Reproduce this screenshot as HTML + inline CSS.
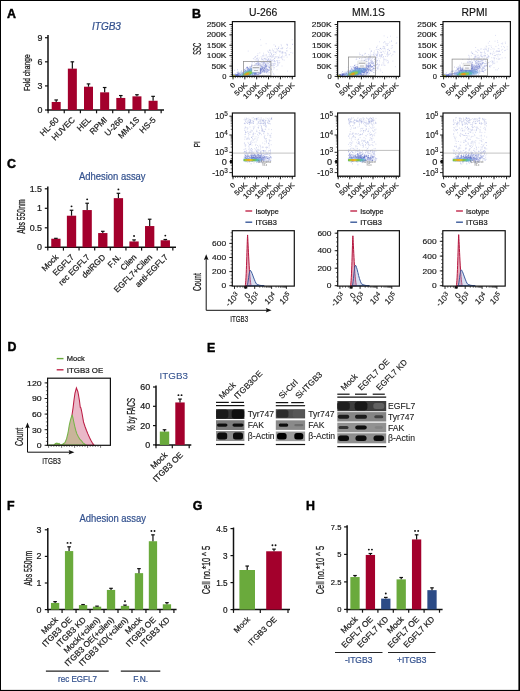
<!DOCTYPE html>
<html><head><meta charset="utf-8"><style>html,body{margin:0;padding:0;background:#fff;width:520px;height:691px;overflow:hidden}svg{display:block;will-change:transform}</style></head>
<body><svg width="520" height="691" viewBox="0 0 520 691" font-family='"Liberation Sans", sans-serif'><rect x="0" y="0" width="520" height="691" fill="#fff"/>
<text x="7.1" y="17.7" font-size="12.4" fill="#000" font-weight="bold" stroke="#000" stroke-width="0.45">A</text>
<text x="92" y="30.1" font-size="10" fill="#34528f" transform="translate(92 30.1) scale(1 1) translate(-92 -30.1)" font-style="italic" stroke="#34528f" stroke-width="0.22">ITGB3</text>
<line x1="48" y1="35" x2="48" y2="110.7" stroke="#111" stroke-width="1.5"/>
<line x1="47.3" y1="110" x2="164" y2="110" stroke="#111" stroke-width="1.5"/>
<line x1="45" y1="110" x2="48" y2="110" stroke="#111" stroke-width="1.2"/>
<text x="42.4" y="113" font-size="8.4" fill="#1a1a1a" text-anchor="end" transform="translate(42.4 113) scale(1.06 1) translate(-42.4 -113)" stroke="#1a1a1a" stroke-width="0.22">0</text>
<line x1="45" y1="85.91" x2="48" y2="85.91" stroke="#111" stroke-width="1.2"/>
<text x="42.4" y="88.91" font-size="8.4" fill="#1a1a1a" text-anchor="end" transform="translate(42.4 88.91) scale(1.06 1) translate(-42.4 -88.91)" stroke="#1a1a1a" stroke-width="0.22">3</text>
<line x1="45" y1="61.82" x2="48" y2="61.82" stroke="#111" stroke-width="1.2"/>
<text x="42.4" y="64.82" font-size="8.4" fill="#1a1a1a" text-anchor="end" transform="translate(42.4 64.82) scale(1.06 1) translate(-42.4 -64.82)" stroke="#1a1a1a" stroke-width="0.22">6</text>
<line x1="45" y1="37.73" x2="48" y2="37.73" stroke="#111" stroke-width="1.2"/>
<text x="42.4" y="40.73" font-size="8.4" fill="#1a1a1a" text-anchor="end" transform="translate(42.4 40.73) scale(1.06 1) translate(-42.4 -40.73)" stroke="#1a1a1a" stroke-width="0.22">9</text>
<line x1="48.1" y1="110" x2="48.1" y2="113.3" stroke="#111" stroke-width="1.2"/>
<line x1="64.25" y1="110" x2="64.25" y2="113.3" stroke="#111" stroke-width="1.2"/>
<line x1="80.4" y1="110" x2="80.4" y2="113.3" stroke="#111" stroke-width="1.2"/>
<line x1="96.55" y1="110" x2="96.55" y2="113.3" stroke="#111" stroke-width="1.2"/>
<line x1="112.7" y1="110" x2="112.7" y2="113.3" stroke="#111" stroke-width="1.2"/>
<line x1="128.85" y1="110" x2="128.85" y2="113.3" stroke="#111" stroke-width="1.2"/>
<line x1="145" y1="110" x2="145" y2="113.3" stroke="#111" stroke-width="1.2"/>
<line x1="161.15" y1="110" x2="161.15" y2="113.3" stroke="#111" stroke-width="1.2"/>
<rect x="51.7" y="101.97" width="9" height="8.03" fill="#a3002c"/>
<line x1="56.2" y1="99.96" x2="56.2" y2="101.97" stroke="#111" stroke-width="1.2"/>
<line x1="54.4" y1="99.96" x2="58" y2="99.96" stroke="#111" stroke-width="1.2"/>
<rect x="67.85" y="68.65" width="9" height="41.35" fill="#a3002c"/>
<line x1="72.35" y1="61.82" x2="72.35" y2="68.65" stroke="#111" stroke-width="1.2"/>
<line x1="70.55" y1="61.82" x2="74.15" y2="61.82" stroke="#111" stroke-width="1.2"/>
<rect x="84" y="86.71" width="9" height="23.29" fill="#a3002c"/>
<line x1="88.5" y1="83.9" x2="88.5" y2="86.71" stroke="#111" stroke-width="1.2"/>
<line x1="86.7" y1="83.9" x2="90.3" y2="83.9" stroke="#111" stroke-width="1.2"/>
<rect x="100.15" y="92.33" width="9" height="17.67" fill="#a3002c"/>
<line x1="104.65" y1="87.52" x2="104.65" y2="92.33" stroke="#111" stroke-width="1.2"/>
<line x1="102.85" y1="87.52" x2="106.45" y2="87.52" stroke="#111" stroke-width="1.2"/>
<rect x="116.3" y="97.95" width="9" height="12.05" fill="#a3002c"/>
<line x1="120.8" y1="95.55" x2="120.8" y2="97.95" stroke="#111" stroke-width="1.2"/>
<line x1="119" y1="95.55" x2="122.6" y2="95.55" stroke="#111" stroke-width="1.2"/>
<rect x="132.45" y="96.35" width="9" height="13.65" fill="#a3002c"/>
<line x1="136.95" y1="94.74" x2="136.95" y2="96.35" stroke="#111" stroke-width="1.2"/>
<line x1="135.15" y1="94.74" x2="138.75" y2="94.74" stroke="#111" stroke-width="1.2"/>
<rect x="148.6" y="100.77" width="9" height="9.23" fill="#a3002c"/>
<line x1="153.1" y1="96.35" x2="153.1" y2="100.77" stroke="#111" stroke-width="1.2"/>
<line x1="151.3" y1="96.35" x2="154.9" y2="96.35" stroke="#111" stroke-width="1.2"/>
<text x="30.5" y="72.7" font-size="9.4" fill="#1a1a1a" text-anchor="middle" transform="rotate(-90 30.5 72.7) translate(30.5 72.7) scale(0.71 1) translate(-30.5 -72.7)" stroke="#1a1a1a" stroke-width="0.28">Fold change</text>
<text x="59.3" y="120.4" font-size="8.3" fill="#1a1a1a" text-anchor="end" transform="rotate(-45 59.3 120.4)" stroke="#1a1a1a" stroke-width="0.22">HL-60</text>
<text x="75.45" y="120.4" font-size="8.3" fill="#1a1a1a" text-anchor="end" transform="rotate(-45 75.45 120.4)" stroke="#1a1a1a" stroke-width="0.22">HUVEC</text>
<text x="91.6" y="120.4" font-size="8.3" fill="#1a1a1a" text-anchor="end" transform="rotate(-45 91.6 120.4)" stroke="#1a1a1a" stroke-width="0.22">HEL</text>
<text x="107.75" y="120.4" font-size="8.3" fill="#1a1a1a" text-anchor="end" transform="rotate(-45 107.75 120.4)" stroke="#1a1a1a" stroke-width="0.22">RPMI</text>
<text x="123.9" y="120.4" font-size="8.3" fill="#1a1a1a" text-anchor="end" transform="rotate(-45 123.9 120.4)" stroke="#1a1a1a" stroke-width="0.22">U-266</text>
<text x="140.05" y="120.4" font-size="8.3" fill="#1a1a1a" text-anchor="end" transform="rotate(-45 140.05 120.4)" stroke="#1a1a1a" stroke-width="0.22">MM.1S</text>
<text x="156.2" y="120.4" font-size="8.3" fill="#1a1a1a" text-anchor="end" transform="rotate(-45 156.2 120.4)" stroke="#1a1a1a" stroke-width="0.22">HS-5</text>
<text x="7" y="168.4" font-size="12.4" fill="#000" font-weight="bold" stroke="#000" stroke-width="0.45">C</text>
<text x="79" y="180.4" font-size="10.5" fill="#34528f" transform="translate(79 180.4) scale(0.9 1) translate(-79 -180.4)" stroke="#34528f" stroke-width="0.22">Adhesion assay</text>
<line x1="47.8" y1="186.5" x2="47.8" y2="248" stroke="#111" stroke-width="1.5"/>
<line x1="47.1" y1="247.3" x2="176" y2="247.3" stroke="#111" stroke-width="1.5"/>
<line x1="44.8" y1="247.3" x2="47.8" y2="247.3" stroke="#111" stroke-width="1.2"/>
<text x="42" y="250.3" font-size="8.4" fill="#1a1a1a" text-anchor="end" transform="translate(42 250.3) scale(1.06 1) translate(-42 -250.3)" stroke="#1a1a1a" stroke-width="0.22">0</text>
<line x1="44.8" y1="227.8" x2="47.8" y2="227.8" stroke="#111" stroke-width="1.2"/>
<text x="42" y="230.8" font-size="8.4" fill="#1a1a1a" text-anchor="end" transform="translate(42 230.8) scale(1.06 1) translate(-42 -230.8)" stroke="#1a1a1a" stroke-width="0.22">0.5</text>
<line x1="44.8" y1="208.3" x2="47.8" y2="208.3" stroke="#111" stroke-width="1.2"/>
<text x="42" y="211.3" font-size="8.4" fill="#1a1a1a" text-anchor="end" transform="translate(42 211.3) scale(1.06 1) translate(-42 -211.3)" stroke="#1a1a1a" stroke-width="0.22">1</text>
<line x1="44.8" y1="188.8" x2="47.8" y2="188.8" stroke="#111" stroke-width="1.2"/>
<text x="42" y="191.8" font-size="8.4" fill="#1a1a1a" text-anchor="end" transform="translate(42 191.8) scale(1.06 1) translate(-42 -191.8)" stroke="#1a1a1a" stroke-width="0.22">1.5</text>
<line x1="47.8" y1="247.3" x2="47.8" y2="250.6" stroke="#111" stroke-width="1.2"/>
<line x1="63.43" y1="247.3" x2="63.43" y2="250.6" stroke="#111" stroke-width="1.2"/>
<line x1="79.06" y1="247.3" x2="79.06" y2="250.6" stroke="#111" stroke-width="1.2"/>
<line x1="94.69" y1="247.3" x2="94.69" y2="250.6" stroke="#111" stroke-width="1.2"/>
<line x1="110.32" y1="247.3" x2="110.32" y2="250.6" stroke="#111" stroke-width="1.2"/>
<line x1="125.95" y1="247.3" x2="125.95" y2="250.6" stroke="#111" stroke-width="1.2"/>
<line x1="141.58" y1="247.3" x2="141.58" y2="250.6" stroke="#111" stroke-width="1.2"/>
<line x1="157.21" y1="247.3" x2="157.21" y2="250.6" stroke="#111" stroke-width="1.2"/>
<line x1="172.84" y1="247.3" x2="172.84" y2="250.6" stroke="#111" stroke-width="1.2"/>
<rect x="51.25" y="238.72" width="9.3" height="8.58" fill="#a3002c"/>
<line x1="55.9" y1="238.33" x2="55.9" y2="238.72" stroke="#111" stroke-width="1.2"/>
<line x1="54.1" y1="238.33" x2="57.7" y2="238.33" stroke="#111" stroke-width="1.2"/>
<rect x="66.88" y="215.71" width="9.3" height="31.59" fill="#a3002c"/>
<line x1="71.53" y1="210.25" x2="71.53" y2="215.71" stroke="#111" stroke-width="1.2"/>
<line x1="69.73" y1="210.25" x2="73.33" y2="210.25" stroke="#111" stroke-width="1.2"/>
<circle cx="71.53" cy="206.35" r="0.95" fill="#111"/>
<rect x="82.51" y="210.06" width="9.3" height="37.25" fill="#a3002c"/>
<line x1="87.16" y1="203.23" x2="87.16" y2="210.06" stroke="#111" stroke-width="1.2"/>
<line x1="85.36" y1="203.23" x2="88.96" y2="203.23" stroke="#111" stroke-width="1.2"/>
<circle cx="87.16" cy="199.33" r="0.95" fill="#111"/>
<rect x="98.14" y="233.06" width="9.3" height="14.24" fill="#a3002c"/>
<line x1="102.79" y1="231.31" x2="102.79" y2="233.06" stroke="#111" stroke-width="1.2"/>
<line x1="100.99" y1="231.31" x2="104.59" y2="231.31" stroke="#111" stroke-width="1.2"/>
<rect x="113.77" y="198.16" width="9.3" height="49.14" fill="#a3002c"/>
<line x1="118.42" y1="193.29" x2="118.42" y2="198.16" stroke="#111" stroke-width="1.2"/>
<line x1="116.62" y1="193.29" x2="120.22" y2="193.29" stroke="#111" stroke-width="1.2"/>
<circle cx="118.42" cy="189.39" r="0.95" fill="#111"/>
<rect x="129.4" y="241.45" width="9.3" height="5.85" fill="#a3002c"/>
<line x1="134.05" y1="239.89" x2="134.05" y2="241.45" stroke="#111" stroke-width="1.2"/>
<line x1="132.25" y1="239.89" x2="135.85" y2="239.89" stroke="#111" stroke-width="1.2"/>
<circle cx="134.05" cy="235.99" r="0.95" fill="#111"/>
<rect x="145.03" y="226.05" width="9.3" height="21.25" fill="#a3002c"/>
<line x1="149.68" y1="219.22" x2="149.68" y2="226.05" stroke="#111" stroke-width="1.2"/>
<line x1="147.88" y1="219.22" x2="151.48" y2="219.22" stroke="#111" stroke-width="1.2"/>
<rect x="160.66" y="240.28" width="9.3" height="7.02" fill="#a3002c"/>
<line x1="165.31" y1="239.5" x2="165.31" y2="240.28" stroke="#111" stroke-width="1.2"/>
<line x1="163.51" y1="239.5" x2="167.11" y2="239.5" stroke="#111" stroke-width="1.2"/>
<circle cx="165.31" cy="235.6" r="0.95" fill="#111"/>
<text x="24.8" y="216.6" font-size="10" fill="#1a1a1a" text-anchor="middle" transform="rotate(-90 24.8 216.6) translate(24.8 216.6) scale(0.68 1) translate(-24.8 -216.6)" stroke="#1a1a1a" stroke-width="0.28">Abs 550nm</text>
<text x="59" y="257.7" font-size="8.3" fill="#1a1a1a" text-anchor="end" transform="rotate(-45 59 257.7)" stroke="#1a1a1a" stroke-width="0.22">Mock</text>
<text x="74.63" y="257.7" font-size="8.3" fill="#1a1a1a" text-anchor="end" transform="rotate(-45 74.63 257.7)" stroke="#1a1a1a" stroke-width="0.22">EGFL7</text>
<text x="90.26" y="257.7" font-size="8.3" fill="#1a1a1a" text-anchor="end" transform="rotate(-45 90.26 257.7)" stroke="#1a1a1a" stroke-width="0.22">rec EGFL7</text>
<text x="105.89" y="257.7" font-size="8.3" fill="#1a1a1a" text-anchor="end" transform="rotate(-45 105.89 257.7)" stroke="#1a1a1a" stroke-width="0.22">delRGD</text>
<text x="121.52" y="257.7" font-size="8.3" fill="#1a1a1a" text-anchor="end" transform="rotate(-45 121.52 257.7)" stroke="#1a1a1a" stroke-width="0.22">F.N.</text>
<text x="137.15" y="257.7" font-size="8.3" fill="#1a1a1a" text-anchor="end" transform="rotate(-45 137.15 257.7)" stroke="#1a1a1a" stroke-width="0.22">Cilen</text>
<text x="152.78" y="257.7" font-size="8.3" fill="#1a1a1a" text-anchor="end" transform="rotate(-45 152.78 257.7)" stroke="#1a1a1a" stroke-width="0.22">EGFL7+Cilen</text>
<text x="168.41" y="257.7" font-size="8.3" fill="#1a1a1a" text-anchor="end" transform="rotate(-45 168.41 257.7)" stroke="#1a1a1a" stroke-width="0.22">anti-EGFL7</text>
<text x="7.1" y="509.7" font-size="12.4" fill="#000" font-weight="bold" stroke="#000" stroke-width="0.45">F</text>
<text x="79.4" y="521.6" font-size="10.5" fill="#34528f" transform="translate(79.4 521.6) scale(0.9 1) translate(-79.4 -521.6)" stroke="#34528f" stroke-width="0.22">Adhesion assay</text>
<line x1="47.8" y1="528" x2="47.8" y2="610.3" stroke="#111" stroke-width="1.5"/>
<line x1="47.1" y1="609.6" x2="176.6" y2="609.6" stroke="#111" stroke-width="1.5"/>
<line x1="44.8" y1="609.6" x2="47.8" y2="609.6" stroke="#111" stroke-width="1.2"/>
<text x="41.5" y="612.6" font-size="8.4" fill="#1a1a1a" text-anchor="end" transform="translate(41.5 612.6) scale(1.06 1) translate(-41.5 -612.6)" stroke="#1a1a1a" stroke-width="0.22">0</text>
<line x1="44.8" y1="583" x2="47.8" y2="583" stroke="#111" stroke-width="1.2"/>
<text x="41.5" y="586" font-size="8.4" fill="#1a1a1a" text-anchor="end" transform="translate(41.5 586) scale(1.06 1) translate(-41.5 -586)" stroke="#1a1a1a" stroke-width="0.22">1</text>
<line x1="44.8" y1="556.4" x2="47.8" y2="556.4" stroke="#111" stroke-width="1.2"/>
<text x="41.5" y="559.4" font-size="8.4" fill="#1a1a1a" text-anchor="end" transform="translate(41.5 559.4) scale(1.06 1) translate(-41.5 -559.4)" stroke="#1a1a1a" stroke-width="0.22">2</text>
<line x1="44.8" y1="529.8" x2="47.8" y2="529.8" stroke="#111" stroke-width="1.2"/>
<text x="41.5" y="532.8" font-size="8.4" fill="#1a1a1a" text-anchor="end" transform="translate(41.5 532.8) scale(1.06 1) translate(-41.5 -532.8)" stroke="#1a1a1a" stroke-width="0.22">3</text>
<line x1="48.1" y1="609.6" x2="48.1" y2="612.9" stroke="#111" stroke-width="1.2"/>
<line x1="62.08" y1="609.6" x2="62.08" y2="612.9" stroke="#111" stroke-width="1.2"/>
<line x1="76.06" y1="609.6" x2="76.06" y2="612.9" stroke="#111" stroke-width="1.2"/>
<line x1="90.04" y1="609.6" x2="90.04" y2="612.9" stroke="#111" stroke-width="1.2"/>
<line x1="104.02" y1="609.6" x2="104.02" y2="612.9" stroke="#111" stroke-width="1.2"/>
<line x1="118" y1="609.6" x2="118" y2="612.9" stroke="#111" stroke-width="1.2"/>
<line x1="131.98" y1="609.6" x2="131.98" y2="612.9" stroke="#111" stroke-width="1.2"/>
<line x1="145.96" y1="609.6" x2="145.96" y2="612.9" stroke="#111" stroke-width="1.2"/>
<line x1="159.94" y1="609.6" x2="159.94" y2="612.9" stroke="#111" stroke-width="1.2"/>
<line x1="173.92" y1="609.6" x2="173.92" y2="612.9" stroke="#111" stroke-width="1.2"/>
<rect x="50.95" y="602.95" width="8.3" height="6.65" fill="#6aaa3c"/>
<line x1="55.1" y1="601.62" x2="55.1" y2="602.95" stroke="#111" stroke-width="1.2"/>
<line x1="53.3" y1="601.62" x2="56.9" y2="601.62" stroke="#111" stroke-width="1.2"/>
<rect x="64.93" y="551.08" width="8.3" height="58.52" fill="#6aaa3c"/>
<line x1="69.08" y1="546.82" x2="69.08" y2="551.08" stroke="#111" stroke-width="1.2"/>
<line x1="67.28" y1="546.82" x2="70.88" y2="546.82" stroke="#111" stroke-width="1.2"/>
<circle cx="67.53" cy="542.92" r="0.95" fill="#111"/>
<circle cx="70.63" cy="542.92" r="0.95" fill="#111"/>
<rect x="78.91" y="605.08" width="8.3" height="4.52" fill="#6aaa3c"/>
<line x1="83.06" y1="604.55" x2="83.06" y2="605.08" stroke="#111" stroke-width="1.2"/>
<line x1="81.26" y1="604.55" x2="84.86" y2="604.55" stroke="#111" stroke-width="1.2"/>
<rect x="92.89" y="606.67" width="8.3" height="2.93" fill="#6aaa3c"/>
<line x1="97.04" y1="606.14" x2="97.04" y2="606.67" stroke="#111" stroke-width="1.2"/>
<line x1="95.24" y1="606.14" x2="98.84" y2="606.14" stroke="#111" stroke-width="1.2"/>
<rect x="106.87" y="589.92" width="8.3" height="19.68" fill="#6aaa3c"/>
<line x1="111.02" y1="588.32" x2="111.02" y2="589.92" stroke="#111" stroke-width="1.2"/>
<line x1="109.22" y1="588.32" x2="112.82" y2="588.32" stroke="#111" stroke-width="1.2"/>
<rect x="120.85" y="605.88" width="8.3" height="3.72" fill="#6aaa3c"/>
<line x1="125" y1="605.08" x2="125" y2="605.88" stroke="#111" stroke-width="1.2"/>
<line x1="123.2" y1="605.08" x2="126.8" y2="605.08" stroke="#111" stroke-width="1.2"/>
<circle cx="125" cy="601.18" r="0.95" fill="#111"/>
<rect x="134.83" y="573.16" width="8.3" height="36.44" fill="#6aaa3c"/>
<line x1="138.98" y1="568.64" x2="138.98" y2="573.16" stroke="#111" stroke-width="1.2"/>
<line x1="137.18" y1="568.64" x2="140.78" y2="568.64" stroke="#111" stroke-width="1.2"/>
<rect x="148.81" y="541.24" width="8.3" height="68.36" fill="#6aaa3c"/>
<line x1="152.96" y1="534.85" x2="152.96" y2="541.24" stroke="#111" stroke-width="1.2"/>
<line x1="151.16" y1="534.85" x2="154.76" y2="534.85" stroke="#111" stroke-width="1.2"/>
<circle cx="151.41" cy="530.95" r="0.95" fill="#111"/>
<circle cx="154.51" cy="530.95" r="0.95" fill="#111"/>
<rect x="162.79" y="604.28" width="8.3" height="5.32" fill="#6aaa3c"/>
<line x1="166.94" y1="602.68" x2="166.94" y2="604.28" stroke="#111" stroke-width="1.2"/>
<line x1="165.14" y1="602.68" x2="168.74" y2="602.68" stroke="#111" stroke-width="1.2"/>
<text x="31.8" y="568.3" font-size="10" fill="#1a1a1a" text-anchor="middle" transform="rotate(-90 31.8 568.3) translate(31.8 568.3) scale(0.69 1) translate(-31.8 -568.3)" stroke="#1a1a1a" stroke-width="0.28">Abs 550nm</text>
<text x="58.5" y="620.4" font-size="8.3" fill="#1a1a1a" text-anchor="end" transform="rotate(-45 58.5 620.4)" stroke="#1a1a1a" stroke-width="0.22">Mock</text>
<text x="72.48" y="620.4" font-size="8.3" fill="#1a1a1a" text-anchor="end" transform="rotate(-45 72.48 620.4)" stroke="#1a1a1a" stroke-width="0.22">ITGB3 OE</text>
<text x="86.46" y="620.4" font-size="8.3" fill="#1a1a1a" text-anchor="end" transform="rotate(-45 86.46 620.4)" stroke="#1a1a1a" stroke-width="0.22">ITGB3 KD</text>
<text x="100.44" y="620.4" font-size="8.3" fill="#1a1a1a" text-anchor="end" transform="rotate(-45 100.44 620.4)" stroke="#1a1a1a" stroke-width="0.22">Mock(+cilen)</text>
<text x="114.42" y="620.4" font-size="8.3" fill="#1a1a1a" text-anchor="end" transform="rotate(-45 114.42 620.4)" stroke="#1a1a1a" stroke-width="0.22">ITGB3 OE(+cilen)</text>
<text x="128.4" y="620.4" font-size="8.3" fill="#1a1a1a" text-anchor="end" transform="rotate(-45 128.4 620.4)" stroke="#1a1a1a" stroke-width="0.22">ITGB3 KD(+cilen)</text>
<text x="142.38" y="620.4" font-size="8.3" fill="#1a1a1a" text-anchor="end" transform="rotate(-45 142.38 620.4)" stroke="#1a1a1a" stroke-width="0.22">Mock</text>
<text x="156.36" y="620.4" font-size="8.3" fill="#1a1a1a" text-anchor="end" transform="rotate(-45 156.36 620.4)" stroke="#1a1a1a" stroke-width="0.22">ITGB3 OE</text>
<text x="170.34" y="620.4" font-size="8.3" fill="#1a1a1a" text-anchor="end" transform="rotate(-45 170.34 620.4)" stroke="#1a1a1a" stroke-width="0.22">ITGB3 KD</text>
<line x1="45.9" y1="671.1" x2="108.7" y2="671.1" stroke="#222" stroke-width="1.1"/>
<line x1="120.8" y1="671.1" x2="160.3" y2="671.1" stroke="#222" stroke-width="1.1"/>
<text x="77.5" y="682" font-size="8.4" fill="#34528f" text-anchor="middle" transform="translate(77.5 682) scale(0.96 1) translate(-77.5 -682)" stroke="#34528f" stroke-width="0.22">rec EGFL7</text>
<text x="140.6" y="682" font-size="8.4" fill="#34528f" text-anchor="middle" stroke="#34528f" stroke-width="0.22">F.N.</text>
<text x="192.7" y="509.6" font-size="12.4" fill="#000" font-weight="bold" stroke="#000" stroke-width="0.45">G</text>
<line x1="233.5" y1="527.5" x2="233.5" y2="610.3" stroke="#111" stroke-width="1.5"/>
<line x1="232.8" y1="609.6" x2="290" y2="609.6" stroke="#111" stroke-width="1.5"/>
<line x1="230.5" y1="609.6" x2="233.5" y2="609.6" stroke="#111" stroke-width="1.2"/>
<text x="227.6" y="612.6" font-size="8.2" fill="#1a1a1a" text-anchor="end" transform="translate(227.6 612.6) scale(1 1) translate(-227.6 -612.6)" stroke="#1a1a1a" stroke-width="0.22">0</text>
<line x1="230.5" y1="582.6" x2="233.5" y2="582.6" stroke="#111" stroke-width="1.2"/>
<text x="227.6" y="585.6" font-size="8.2" fill="#1a1a1a" text-anchor="end" transform="translate(227.6 585.6) scale(1 1) translate(-227.6 -585.6)" stroke="#1a1a1a" stroke-width="0.22">1.5</text>
<line x1="230.5" y1="555.6" x2="233.5" y2="555.6" stroke="#111" stroke-width="1.2"/>
<text x="227.6" y="558.6" font-size="8.2" fill="#1a1a1a" text-anchor="end" transform="translate(227.6 558.6) scale(1 1) translate(-227.6 -558.6)" stroke="#1a1a1a" stroke-width="0.22">3</text>
<line x1="230.5" y1="528.6" x2="233.5" y2="528.6" stroke="#111" stroke-width="1.2"/>
<text x="227.6" y="531.6" font-size="8.2" fill="#1a1a1a" text-anchor="end" transform="translate(227.6 531.6) scale(1 1) translate(-227.6 -531.6)" stroke="#1a1a1a" stroke-width="0.22">4.5</text>
<line x1="233.5" y1="609.6" x2="233.5" y2="612.9" stroke="#111" stroke-width="1.2"/>
<line x1="260.3" y1="609.6" x2="260.3" y2="612.9" stroke="#111" stroke-width="1.2"/>
<line x1="288" y1="609.6" x2="288" y2="612.9" stroke="#111" stroke-width="1.2"/>
<rect x="239.4" y="570" width="15.6" height="39.6" fill="#6aaa3c"/>
<line x1="247.2" y1="566.04" x2="247.2" y2="570" stroke="#111" stroke-width="1.2"/>
<line x1="245.4" y1="566.04" x2="249" y2="566.04" stroke="#111" stroke-width="1.2"/>
<rect x="266.2" y="551.28" width="15.6" height="58.32" fill="#a3002c"/>
<line x1="274" y1="549.12" x2="274" y2="551.28" stroke="#111" stroke-width="1.2"/>
<line x1="272.2" y1="549.12" x2="275.8" y2="549.12" stroke="#111" stroke-width="1.2"/>
<circle cx="272.45" cy="545.22" r="0.95" fill="#111"/>
<circle cx="275.55" cy="545.22" r="0.95" fill="#111"/>
<text x="209.9" y="570.1" font-size="10" fill="#1a1a1a" text-anchor="middle" transform="rotate(-90 209.9 570.1) translate(209.9 570.1) scale(0.75 1) translate(-209.9 -570.1)" stroke="#1a1a1a" stroke-width="0.28">Cell no.*10 ^ 5</text>
<text x="250.5" y="619.9" font-size="8" fill="#1a1a1a" text-anchor="end" transform="rotate(-45 250.5 619.9)" stroke="#1a1a1a" stroke-width="0.22">Mock</text>
<text x="277.3" y="619.9" font-size="8" fill="#1a1a1a" text-anchor="end" transform="rotate(-45 277.3 619.9)" stroke="#1a1a1a" stroke-width="0.22">ITGB3 OE</text>
<text x="306.1" y="509.7" font-size="12.4" fill="#000" font-weight="bold" stroke="#000" stroke-width="0.45">H</text>
<line x1="347.1" y1="525.2" x2="347.1" y2="610.1" stroke="#111" stroke-width="1.5"/>
<line x1="346.4" y1="609.4" x2="442.6" y2="609.4" stroke="#111" stroke-width="1.5"/>
<line x1="344.1" y1="609.4" x2="347.1" y2="609.4" stroke="#111" stroke-width="1.2"/>
<text x="341.4" y="612.4" font-size="8" fill="#1a1a1a" text-anchor="end" transform="translate(341.4 612.4) scale(0.95 1) translate(-341.4 -612.4)" stroke="#1a1a1a" stroke-width="0.22">0</text>
<line x1="344.1" y1="581.9" x2="347.1" y2="581.9" stroke="#111" stroke-width="1.2"/>
<text x="341.4" y="584.9" font-size="8" fill="#1a1a1a" text-anchor="end" transform="translate(341.4 584.9) scale(0.95 1) translate(-341.4 -584.9)" stroke="#1a1a1a" stroke-width="0.22">2.5</text>
<line x1="344.1" y1="554.4" x2="347.1" y2="554.4" stroke="#111" stroke-width="1.2"/>
<text x="341.4" y="557.4" font-size="8" fill="#1a1a1a" text-anchor="end" transform="translate(341.4 557.4) scale(0.95 1) translate(-341.4 -557.4)" stroke="#1a1a1a" stroke-width="0.22">5</text>
<line x1="344.1" y1="526.9" x2="347.1" y2="526.9" stroke="#111" stroke-width="1.2"/>
<text x="341.4" y="529.9" font-size="8" fill="#1a1a1a" text-anchor="end" transform="translate(341.4 529.9) scale(0.95 1) translate(-341.4 -529.9)" stroke="#1a1a1a" stroke-width="0.22">7.5</text>
<line x1="347.1" y1="609.4" x2="347.1" y2="612.7" stroke="#111" stroke-width="1.2"/>
<line x1="362.5" y1="609.4" x2="362.5" y2="612.7" stroke="#111" stroke-width="1.2"/>
<line x1="377.9" y1="609.4" x2="377.9" y2="612.7" stroke="#111" stroke-width="1.2"/>
<line x1="393.3" y1="609.4" x2="393.3" y2="612.7" stroke="#111" stroke-width="1.2"/>
<line x1="408.7" y1="609.4" x2="408.7" y2="612.7" stroke="#111" stroke-width="1.2"/>
<line x1="424.1" y1="609.4" x2="424.1" y2="612.7" stroke="#111" stroke-width="1.2"/>
<line x1="439.5" y1="609.4" x2="439.5" y2="612.7" stroke="#111" stroke-width="1.2"/>
<rect x="350.35" y="577.06" width="9.3" height="32.34" fill="#6aaa3c"/>
<line x1="355" y1="575.52" x2="355" y2="577.06" stroke="#111" stroke-width="1.2"/>
<line x1="353.2" y1="575.52" x2="356.8" y2="575.52" stroke="#111" stroke-width="1.2"/>
<rect x="365.75" y="554.95" width="9.3" height="54.45" fill="#a3002c"/>
<line x1="370.4" y1="553.52" x2="370.4" y2="554.95" stroke="#111" stroke-width="1.2"/>
<line x1="368.6" y1="553.52" x2="372.2" y2="553.52" stroke="#111" stroke-width="1.2"/>
<circle cx="368.85" cy="549.62" r="0.95" fill="#111"/>
<circle cx="371.95" cy="549.62" r="0.95" fill="#111"/>
<rect x="381.15" y="598.62" width="9.3" height="10.78" fill="#2c4b86"/>
<line x1="385.8" y1="597.41" x2="385.8" y2="598.62" stroke="#111" stroke-width="1.2"/>
<line x1="384" y1="597.41" x2="387.6" y2="597.41" stroke="#111" stroke-width="1.2"/>
<circle cx="385.8" cy="593.51" r="0.95" fill="#111"/>
<rect x="396.55" y="579.37" width="9.3" height="30.03" fill="#6aaa3c"/>
<line x1="401.2" y1="577.5" x2="401.2" y2="579.37" stroke="#111" stroke-width="1.2"/>
<line x1="399.4" y1="577.5" x2="403" y2="577.5" stroke="#111" stroke-width="1.2"/>
<rect x="411.95" y="539.44" width="9.3" height="69.96" fill="#a3002c"/>
<line x1="416.6" y1="534.82" x2="416.6" y2="539.44" stroke="#111" stroke-width="1.2"/>
<line x1="414.8" y1="534.82" x2="418.4" y2="534.82" stroke="#111" stroke-width="1.2"/>
<circle cx="415.05" cy="530.92" r="0.95" fill="#111"/>
<circle cx="418.15" cy="530.92" r="0.95" fill="#111"/>
<rect x="427.35" y="590.15" width="9.3" height="19.25" fill="#2c4b86"/>
<line x1="432" y1="587.84" x2="432" y2="590.15" stroke="#111" stroke-width="1.2"/>
<line x1="430.2" y1="587.84" x2="433.8" y2="587.84" stroke="#111" stroke-width="1.2"/>
<text x="323.8" y="570.1" font-size="10" fill="#1a1a1a" text-anchor="middle" transform="rotate(-90 323.8 570.1) translate(323.8 570.1) scale(0.75 1) translate(-323.8 -570.1)" stroke="#1a1a1a" stroke-width="0.28">Cell no.*10 ^ 5</text>
<text x="358.1" y="619.8" font-size="8.3" fill="#1a1a1a" text-anchor="end" transform="rotate(-45 358.1 619.8)" stroke="#1a1a1a" stroke-width="0.22">Mock</text>
<text x="373.5" y="619.8" font-size="8.3" fill="#1a1a1a" text-anchor="end" transform="rotate(-45 373.5 619.8)" stroke="#1a1a1a" stroke-width="0.22">EGFL7 OE</text>
<text x="388.9" y="619.8" font-size="8.3" fill="#1a1a1a" text-anchor="end" transform="rotate(-45 388.9 619.8)" stroke="#1a1a1a" stroke-width="0.22">EGFL7 KD</text>
<text x="404.3" y="619.8" font-size="8.3" fill="#1a1a1a" text-anchor="end" transform="rotate(-45 404.3 619.8)" stroke="#1a1a1a" stroke-width="0.22">Mock</text>
<text x="419.7" y="619.8" font-size="8.3" fill="#1a1a1a" text-anchor="end" transform="rotate(-45 419.7 619.8)" stroke="#1a1a1a" stroke-width="0.22">EGFL7 OE</text>
<text x="435.1" y="619.8" font-size="8.3" fill="#1a1a1a" text-anchor="end" transform="rotate(-45 435.1 619.8)" stroke="#1a1a1a" stroke-width="0.22">EGFL7 KD</text>
<line x1="335" y1="652.5" x2="382.5" y2="652.5" stroke="#222" stroke-width="1"/>
<line x1="388" y1="652.5" x2="435.5" y2="652.5" stroke="#222" stroke-width="1"/>
<text x="358.7" y="663" font-size="8.2" fill="#34528f" text-anchor="middle" transform="translate(358.7 663) scale(1.04 1) translate(-358.7 -663)" stroke="#34528f" stroke-width="0.22">-ITGB3</text>
<text x="411.7" y="663" font-size="8.2" fill="#34528f" text-anchor="middle" transform="translate(411.7 663) scale(1.03 1) translate(-411.7 -663)" stroke="#34528f" stroke-width="0.22">+ITGB3</text>
<defs><filter id="sb" x="-50%" y="-50%" width="200%" height="200%"><feGaussianBlur stdDeviation="0.6"/></filter><linearGradient id="pig" x1="0" x2="1" y1="0" y2="0"><stop offset="0" stop-color="#66b848"/><stop offset="0.12" stop-color="#a8cc30"/><stop offset="0.28" stop-color="#f0a020"/><stop offset="0.38" stop-color="#e8c028"/><stop offset="0.55" stop-color="#80c040"/><stop offset="0.75" stop-color="#58b8b8"/><stop offset="1" stop-color="#80a8e0" stop-opacity="0.3"/></linearGradient><filter id="sb2" x="-50%" y="-50%" width="200%" height="200%"><feGaussianBlur stdDeviation="1.5"/></filter></defs>
<text x="191.9" y="17.7" font-size="12.4" fill="#000" font-weight="bold" stroke="#000" stroke-width="0.45">B</text>
<text x="263.1" y="16.4" font-size="10.4" fill="#111" text-anchor="middle" stroke="#111" stroke-width="0.15">U-266</text>
<line x1="229.4" y1="76.4" x2="232.4" y2="76.4" stroke="#111" stroke-width="0.9"/>
<text x="226.4" y="79" font-size="7" fill="#1a1a1a" text-anchor="end" transform="translate(226.4 79) scale(1.08 1) translate(-226.4 -79)" stroke="#1a1a1a" stroke-width="0.15">0</text>
<line x1="229.4" y1="66.02" x2="232.4" y2="66.02" stroke="#111" stroke-width="0.9"/>
<text x="226.4" y="68.62" font-size="7" fill="#1a1a1a" text-anchor="end" transform="translate(226.4 68.62) scale(1.2 1) translate(-226.4 -68.62)" stroke="#1a1a1a" stroke-width="0.15">50K</text>
<line x1="229.4" y1="55.64" x2="232.4" y2="55.64" stroke="#111" stroke-width="0.9"/>
<text x="226.4" y="58.24" font-size="7" fill="#1a1a1a" text-anchor="end" transform="translate(226.4 58.24) scale(1.2 1) translate(-226.4 -58.24)" stroke="#1a1a1a" stroke-width="0.15">100K</text>
<line x1="229.4" y1="45.26" x2="232.4" y2="45.26" stroke="#111" stroke-width="0.9"/>
<text x="226.4" y="47.86" font-size="7" fill="#1a1a1a" text-anchor="end" transform="translate(226.4 47.86) scale(1.2 1) translate(-226.4 -47.86)" stroke="#1a1a1a" stroke-width="0.15">150K</text>
<line x1="229.4" y1="34.88" x2="232.4" y2="34.88" stroke="#111" stroke-width="0.9"/>
<text x="226.4" y="37.48" font-size="7" fill="#1a1a1a" text-anchor="end" transform="translate(226.4 37.48) scale(1.21 1) translate(-226.4 -37.48)" stroke="#1a1a1a" stroke-width="0.15">200K</text>
<line x1="229.4" y1="24.5" x2="232.4" y2="24.5" stroke="#111" stroke-width="0.9"/>
<text x="226.4" y="27.1" font-size="7" fill="#1a1a1a" text-anchor="end" transform="translate(226.4 27.1) scale(1.21 1) translate(-226.4 -27.1)" stroke="#1a1a1a" stroke-width="0.15">250K</text>
<line x1="230.7" y1="76.4" x2="232.4" y2="76.4" stroke="#111" stroke-width="0.6"/>
<line x1="230.7" y1="74.32" x2="232.4" y2="74.32" stroke="#111" stroke-width="0.6"/>
<line x1="230.7" y1="72.25" x2="232.4" y2="72.25" stroke="#111" stroke-width="0.6"/>
<line x1="230.7" y1="70.17" x2="232.4" y2="70.17" stroke="#111" stroke-width="0.6"/>
<line x1="230.7" y1="68.1" x2="232.4" y2="68.1" stroke="#111" stroke-width="0.6"/>
<line x1="230.7" y1="66.02" x2="232.4" y2="66.02" stroke="#111" stroke-width="0.6"/>
<line x1="230.7" y1="63.94" x2="232.4" y2="63.94" stroke="#111" stroke-width="0.6"/>
<line x1="230.7" y1="61.87" x2="232.4" y2="61.87" stroke="#111" stroke-width="0.6"/>
<line x1="230.7" y1="59.79" x2="232.4" y2="59.79" stroke="#111" stroke-width="0.6"/>
<line x1="230.7" y1="57.72" x2="232.4" y2="57.72" stroke="#111" stroke-width="0.6"/>
<line x1="230.7" y1="55.64" x2="232.4" y2="55.64" stroke="#111" stroke-width="0.6"/>
<line x1="230.7" y1="53.56" x2="232.4" y2="53.56" stroke="#111" stroke-width="0.6"/>
<line x1="230.7" y1="51.49" x2="232.4" y2="51.49" stroke="#111" stroke-width="0.6"/>
<line x1="230.7" y1="49.41" x2="232.4" y2="49.41" stroke="#111" stroke-width="0.6"/>
<line x1="230.7" y1="47.34" x2="232.4" y2="47.34" stroke="#111" stroke-width="0.6"/>
<line x1="230.7" y1="45.26" x2="232.4" y2="45.26" stroke="#111" stroke-width="0.6"/>
<line x1="230.7" y1="43.18" x2="232.4" y2="43.18" stroke="#111" stroke-width="0.6"/>
<line x1="230.7" y1="41.11" x2="232.4" y2="41.11" stroke="#111" stroke-width="0.6"/>
<line x1="230.7" y1="39.03" x2="232.4" y2="39.03" stroke="#111" stroke-width="0.6"/>
<line x1="230.7" y1="36.96" x2="232.4" y2="36.96" stroke="#111" stroke-width="0.6"/>
<line x1="230.7" y1="34.88" x2="232.4" y2="34.88" stroke="#111" stroke-width="0.6"/>
<line x1="230.7" y1="32.8" x2="232.4" y2="32.8" stroke="#111" stroke-width="0.6"/>
<line x1="230.7" y1="30.73" x2="232.4" y2="30.73" stroke="#111" stroke-width="0.6"/>
<line x1="230.7" y1="28.65" x2="232.4" y2="28.65" stroke="#111" stroke-width="0.6"/>
<line x1="230.7" y1="26.58" x2="232.4" y2="26.58" stroke="#111" stroke-width="0.6"/>
<line x1="230.7" y1="24.5" x2="232.4" y2="24.5" stroke="#111" stroke-width="0.6"/>
<line x1="233" y1="76.4" x2="233" y2="79.4" stroke="#111" stroke-width="0.9"/>
<text x="235.8" y="85.6" font-size="7" fill="#1a1a1a" text-anchor="end" transform="rotate(-45 235.8 85.6) translate(235.8 85.6) scale(1.08 1) translate(-235.8 -85.6)" stroke="#1a1a1a" stroke-width="0.15">0</text>
<line x1="244.85" y1="76.4" x2="244.85" y2="79.4" stroke="#111" stroke-width="0.9"/>
<text x="247.65" y="85.6" font-size="7" fill="#1a1a1a" text-anchor="end" transform="rotate(-45 247.65 85.6) translate(247.65 85.6) scale(1.2 1) translate(-247.65 -85.6)" stroke="#1a1a1a" stroke-width="0.15">50K</text>
<line x1="256.7" y1="76.4" x2="256.7" y2="79.4" stroke="#111" stroke-width="0.9"/>
<text x="259.5" y="85.6" font-size="7" fill="#1a1a1a" text-anchor="end" transform="rotate(-45 259.5 85.6) translate(259.5 85.6) scale(1.2 1) translate(-259.5 -85.6)" stroke="#1a1a1a" stroke-width="0.15">100K</text>
<line x1="268.55" y1="76.4" x2="268.55" y2="79.4" stroke="#111" stroke-width="0.9"/>
<text x="271.35" y="85.6" font-size="7" fill="#1a1a1a" text-anchor="end" transform="rotate(-45 271.35 85.6) translate(271.35 85.6) scale(1.2 1) translate(-271.35 -85.6)" stroke="#1a1a1a" stroke-width="0.15">150K</text>
<line x1="280.4" y1="76.4" x2="280.4" y2="79.4" stroke="#111" stroke-width="0.9"/>
<text x="283.2" y="85.6" font-size="7" fill="#1a1a1a" text-anchor="end" transform="rotate(-45 283.2 85.6) translate(283.2 85.6) scale(1.21 1) translate(-283.2 -85.6)" stroke="#1a1a1a" stroke-width="0.15">200K</text>
<line x1="292.25" y1="76.4" x2="292.25" y2="79.4" stroke="#111" stroke-width="0.9"/>
<text x="295.05" y="85.6" font-size="7" fill="#1a1a1a" text-anchor="end" transform="rotate(-45 295.05 85.6) translate(295.05 85.6) scale(1.21 1) translate(-295.05 -85.6)" stroke="#1a1a1a" stroke-width="0.15">250K</text>
<line x1="233" y1="76.4" x2="233" y2="78.1" stroke="#111" stroke-width="0.6"/>
<line x1="235.37" y1="76.4" x2="235.37" y2="78.1" stroke="#111" stroke-width="0.6"/>
<line x1="237.74" y1="76.4" x2="237.74" y2="78.1" stroke="#111" stroke-width="0.6"/>
<line x1="240.11" y1="76.4" x2="240.11" y2="78.1" stroke="#111" stroke-width="0.6"/>
<line x1="242.48" y1="76.4" x2="242.48" y2="78.1" stroke="#111" stroke-width="0.6"/>
<line x1="244.85" y1="76.4" x2="244.85" y2="78.1" stroke="#111" stroke-width="0.6"/>
<line x1="247.22" y1="76.4" x2="247.22" y2="78.1" stroke="#111" stroke-width="0.6"/>
<line x1="249.59" y1="76.4" x2="249.59" y2="78.1" stroke="#111" stroke-width="0.6"/>
<line x1="251.96" y1="76.4" x2="251.96" y2="78.1" stroke="#111" stroke-width="0.6"/>
<line x1="254.33" y1="76.4" x2="254.33" y2="78.1" stroke="#111" stroke-width="0.6"/>
<line x1="256.7" y1="76.4" x2="256.7" y2="78.1" stroke="#111" stroke-width="0.6"/>
<line x1="259.07" y1="76.4" x2="259.07" y2="78.1" stroke="#111" stroke-width="0.6"/>
<line x1="261.44" y1="76.4" x2="261.44" y2="78.1" stroke="#111" stroke-width="0.6"/>
<line x1="263.81" y1="76.4" x2="263.81" y2="78.1" stroke="#111" stroke-width="0.6"/>
<line x1="266.18" y1="76.4" x2="266.18" y2="78.1" stroke="#111" stroke-width="0.6"/>
<line x1="268.55" y1="76.4" x2="268.55" y2="78.1" stroke="#111" stroke-width="0.6"/>
<line x1="270.92" y1="76.4" x2="270.92" y2="78.1" stroke="#111" stroke-width="0.6"/>
<line x1="273.29" y1="76.4" x2="273.29" y2="78.1" stroke="#111" stroke-width="0.6"/>
<line x1="275.66" y1="76.4" x2="275.66" y2="78.1" stroke="#111" stroke-width="0.6"/>
<line x1="278.03" y1="76.4" x2="278.03" y2="78.1" stroke="#111" stroke-width="0.6"/>
<line x1="280.4" y1="76.4" x2="280.4" y2="78.1" stroke="#111" stroke-width="0.6"/>
<line x1="282.77" y1="76.4" x2="282.77" y2="78.1" stroke="#111" stroke-width="0.6"/>
<line x1="285.14" y1="76.4" x2="285.14" y2="78.1" stroke="#111" stroke-width="0.6"/>
<line x1="287.51" y1="76.4" x2="287.51" y2="78.1" stroke="#111" stroke-width="0.6"/>
<line x1="289.88" y1="76.4" x2="289.88" y2="78.1" stroke="#111" stroke-width="0.6"/>
<line x1="292.25" y1="76.4" x2="292.25" y2="78.1" stroke="#111" stroke-width="0.6"/>
<path d="M272.4 55.5h0.8M273.4 69.1h0.8M266.7 56.6h0.8M252.9 70.0h0.8M283.7 52.6h0.8M284.9 55.6h0.8M274.8 52.6h0.8M257.8 63.8h0.8M261.7 60.0h0.8M269.6 55.6h0.8M285.7 53.3h0.8M267.4 51.1h0.8M256.3 73.6h0.8M270.3 59.2h0.8M262.9 62.7h0.8M275.0 61.4h0.8M278.1 57.7h0.8M282.4 53.3h0.8M270.0 52.6h0.8M281.6 48.3h0.8M287.0 45.6h0.8M269.0 62.6h0.8M266.0 73.0h0.8M260.2 71.4h0.8M261.6 68.2h0.8M278.8 60.6h0.8M274.5 51.8h0.8M276.8 49.1h0.8M259.2 71.1h0.8M278.5 46.9h0.8M274.8 63.2h0.8M266.1 70.5h0.8M255.8 66.3h0.8M271.3 56.6h0.8M274.2 60.8h0.8M272.4 57.1h0.8M268.6 59.0h0.8M258.2 68.9h0.8M270.4 51.0h0.8M274.0 63.3h0.8M248.1 72.9h0.8M254.5 64.4h0.8M272.9 50.8h0.8M263.1 53.2h0.8M272.6 65.7h0.8M265.1 68.8h0.8M267.1 62.4h0.8M276.1 60.6h0.8M279.8 50.9h0.8M259.1 63.8h0.8M253.6 61.6h0.8M254.9 59.8h0.8M252.2 62.0h0.8M266.9 63.5h0.8M265.0 66.3h0.8M257.5 59.8h0.8M268.1 60.8h0.8M257.9 61.9h0.8M263.4 54.9h0.8M288.6 54.7h0.8M263.1 63.8h0.8M257.3 55.5h0.8M292.4 53.1h0.8M259.7 61.4h0.8M260.6 45.3h0.8M267.5 69.1h0.8M258.6 62.6h0.8M260.5 64.2h0.8M270.1 68.9h0.8M277.2 65.7h0.8M261.8 67.1h0.8M273.2 64.7h0.8M257.1 64.6h0.8M269.3 60.4h0.8M261.8 62.6h0.8M280.9 58.1h0.8M246.5 72.1h0.8M266.0 72.1h0.8M256.8 71.5h0.8M258.0 60.7h0.8M256.3 61.8h0.8M259.7 71.8h0.8M269.6 62.4h0.8M268.3 63.3h0.8M268.3 56.4h0.8M279.3 51.7h0.8M268.1 59.6h0.8M264.6 55.9h0.8M272.5 56.8h0.8M251.0 71.1h0.8M264.1 58.8h0.8M254.2 67.0h0.8M253.4 69.9h0.8M267.7 63.0h0.8M286.8 44.6h0.8M268.3 52.0h0.8M256.6 55.9h0.8M262.5 66.8h0.8M280.7 44.7h0.8M278.2 48.2h0.8M254.6 57.2h0.8M282.4 59.7h0.8M260.0 65.5h0.8M261.7 75.3h0.8M250.2 61.5h0.8M267.2 60.5h0.8M255.0 68.5h0.8M265.1 63.8h0.8M266.1 61.1h0.8M281.6 52.2h0.8M278.7 57.0h0.8M266.5 62.4h0.8M286.4 50.8h0.8M268.1 58.6h0.8M247.8 51.1h0.8M258.3 63.0h0.8M260.5 66.7h0.8M260.7 56.8h0.8M283.8 60.1h0.8M257.4 60.7h0.8M274.7 54.3h0.8M269.4 50.5h0.8M253.0 72.2h0.8M260.9 62.7h0.8M271.0 54.3h0.8M264.2 62.6h0.8M282.0 55.2h0.8M256.4 67.0h0.8M267.0 60.5h0.8M265.7 62.0h0.8M263.7 66.1h0.8M257.0 63.1h0.8M259.6 63.7h0.8M281.6 48.8h0.8M285.1 52.7h0.8M259.6 63.3h0.8M278.9 51.1h0.8M253.6 59.0h0.8M261.8 59.3h0.8M262.3 55.5h0.8M275.1 64.1h0.8M249.0 70.7h0.8M278.0 48.4h0.8M289.7 48.4h0.8M275.8 66.5h0.8M259.4 52.9h0.8M268.2 70.1h0.8M260.2 69.4h0.8M263.0 69.9h0.8M273.6 44.8h0.8M261.5 62.5h0.8M259.1 74.2h0.8M265.7 58.1h0.8M252.8 65.5h0.8M277.8 64.4h0.8M258.2 59.8h0.8M271.8 60.9h0.8M268.6 70.5h0.8M280.9 53.1h0.8M272.0 72.0h0.8M273.9 58.7h0.8M262.4 56.8h0.8M250.5 70.1h0.8M286.5 44.2h0.8M274.1 60.8h0.8M272.0 49.2h0.8M269.7 53.1h0.8M286.7 57.1h0.8M274.9 56.8h0.8M267.3 59.8h0.8M271.6 60.5h0.8M282.1 52.8h0.8M265.5 59.4h0.8M270.5 65.1h0.8M261.5 69.9h0.8M272.5 50.7h0.8M262.9 63.8h0.8M287.1 47.8h0.8M278.1 48.3h0.8M275.8 57.2h0.8M264.4 72.6h0.8M286.7 44.8h0.8M264.4 62.5h0.8M272.8 59.5h0.8M264.3 58.3h0.8M269.9 73.2h0.8M265.0 64.7h0.8M257.8 69.8h0.8M249.4 74.9h0.8M263.1 55.9h0.8M281.7 48.1h0.8M273.4 54.6h0.8M277.9 57.0h0.8M274.6 57.1h0.8M256.7 58.7h0.8M260.8 70.8h0.8M262.8 64.3h0.8M272.6 60.0h0.8M267.8 63.8h0.8M275.2 46.5h0.8M248.9 67.8h0.8M263.8 63.8h0.8M252.7 67.3h0.8M271.1 60.2h0.8M256.4 58.4h0.8M269.3 50.0h0.8M262.2 68.0h0.8M285.9 55.3h0.8M263.6 58.6h0.8M289.2 54.7h0.8M267.0 57.7h0.8M269.9 59.3h0.8M271.2 69.7h0.8M265.6 54.8h0.8M274.5 58.3h0.8M262.8 62.5h0.8M266.4 65.2h0.8M256.3 63.7h0.8M251.2 71.1h0.8M276.9 64.3h0.8M279.3 55.1h0.8M281.6 66.0h0.8M282.4 47.8h0.8M291.8 39.8h0.8M278.6 63.3h0.8M273.9 65.1h0.8M283.6 56.9h0.8M260.2 74.1h0.8M256.2 69.1h0.8M266.0 55.1h0.8M258.7 65.1h0.8M264.9 58.5h0.8M255.6 69.2h0.8M269.8 56.6h0.8M269.4 56.9h0.8M260.1 39.7h0.8M281.9 56.7h0.8M268.4 52.5h0.8M268.1 67.0h0.8M269.5 50.1h0.8M267.5 66.4h0.8M263.2 62.5h0.8M273.5 63.5h0.8M290.5 52.5h0.8M292.0 44.5h0.8M263.7 74.6h0.8M255.0 73.5h0.8M254.7 71.5h0.8M252.0 67.6h0.8M272.6 65.5h0.8M270.0 62.1h0.8M260.7 69.1h0.8M270.2 56.1h0.8M264.6 69.8h0.8M267.8 64.9h0.8M250.9 66.3h0.8M273.8 67.8h0.8M248.5 74.9h0.8M254.1 69.8h0.8M275.2 45.9h0.8M276.0 48.8h0.8M273.0 54.9h0.8M269.1 64.6h0.8M249.1 69.9h0.8M251.3 73.1h0.8M274.5 48.8h0.8M286.1 48.5h0.8M266.9 72.0h0.8M273.8 61.3h0.8M265.7 43.7h0.8M273.2 52.1h0.8M265.1 64.7h0.8M258.6 69.7h0.8M254.0 62.4h0.8M257.2 66.1h0.8M276.6 56.5h0.8M256.3 59.2h0.8M260.8 69.0h0.8M252.5 69.8h0.8M261.4 65.7h0.8M292.3 44.1h0.8M268.2 69.9h0.8M269.4 60.6h0.8M281.2 45.8h0.8M261.3 65.3h0.8M251.4 69.8h0.8M271.3 57.7h0.8M268.6 62.1h0.8M274.1 58.4h0.8M279.4 62.4h0.8M278.7 57.9h0.8M254.6 57.6h0.8M272.7 56.4h0.8M266.6 72.1h0.8M277.4 60.4h0.8M270.3 60.5h0.8M256.5 74.2h0.8M276.2 53.0h0.8M267.8 59.7h0.8M262.2 59.3h0.8M265.5 65.6h0.8M257.3 62.5h0.8M272.8 63.7h0.8M273.5 61.3h0.8M286.6 50.8h0.8M250.3 67.5h0.8M263.8 66.3h0.8M264.2 70.5h0.8M271.3 55.2h0.8M271.4 53.3h0.8M257.3 63.4h0.8M287.0 71.1h0.8M258.0 70.7h0.8M271.6 64.9h0.8M257.3 66.7h0.8M268.9 54.4h0.8M266.2 66.6h0.8M284.8 53.1h0.8M280.4 48.6h0.8M252.9 58.5h0.8M265.2 59.9h0.8M281.9 59.0h0.8M270.8 61.7h0.8M264.2 65.7h0.8M252.1 71.6h0.8M282.1 51.9h0.8M254.2 70.6h0.8M277.5 58.1h0.8M278.5 62.7h0.8M277.0 49.9h0.8M276.6 69.8h0.8M246.1 73.2h0.8M281.1 56.7h0.8M277.3 61.9h0.8M271.7 63.4h0.8M260.4 70.8h0.8M262.8 61.8h0.8M261.8 67.7h0.8M277.0 61.1h0.8M263.1 65.4h0.8M259.1 66.3h0.8M261.1 58.2h0.8M270.3 64.6h0.8M279.5 51.9h0.8M255.6 64.3h0.8M256.9 61.6h0.8M282.5 51.9h0.8M281.4 57.4h0.8M273.9 65.3h0.8M285.7 54.4h0.8M255.0 56.5h0.8M262.6 72.6h0.8M257.9 67.2h0.8M263.3 59.9h0.8M276.4 51.3h0.8M258.9 69.5h0.8M257.3 58.0h0.8M280.3 57.4h0.8M261.0 59.1h0.8M264.5 68.9h0.8M263.4 60.9h0.8M257.5 53.7h0.8M277.8 50.8h0.8M273.8 75.0h0.8M255.2 65.4h0.8M251.3 61.4h0.8M266.9 65.0h0.8M266.2 63.7h0.8M273.7 67.6h0.8M266.1 59.4h0.8M277.7 65.6h0.8M275.1 52.4h0.8M271.1 54.1h0.8M272.7 66.9h0.8M280.5 51.7h0.8M258.3 66.1h0.8M255.8 61.0h0.8M266.6 71.3h0.8M258.8 58.1h0.8M255.7 61.3h0.8M260.3 61.8h0.8" stroke="#7c84d0" stroke-opacity="0.38" stroke-width="0.8" fill="none"/>
<path d="M253.5 70.5h0.8M266.3 69.1h0.8M251.1 72.4h0.8M263.0 70.1h0.8M251.1 76.3h0.8M247.0 74.3h0.8M254.1 72.6h0.8M252.5 68.1h0.8M245.7 72.8h0.8M250.7 72.8h0.8M254.2 71.0h0.8M258.5 69.9h0.8M248.0 68.5h0.8M253.7 73.3h0.8M244.8 72.9h0.8M255.1 72.8h0.8M257.2 65.7h0.8M251.8 74.3h0.8M254.1 68.2h0.8M263.6 67.8h0.8M255.0 73.0h0.8M263.9 72.4h0.8M265.1 66.6h0.8M255.6 74.7h0.8M255.1 67.8h0.8M263.1 70.0h0.8M266.6 69.1h0.8M250.0 72.2h0.8M249.3 73.2h0.8M252.8 70.5h0.8M241.8 75.6h0.8M265.8 68.1h0.8M254.9 67.1h0.8M262.7 71.1h0.8M245.2 70.7h0.8M259.4 71.9h0.8M254.8 68.5h0.8M253.2 73.5h0.8M258.2 63.0h0.8M257.0 70.1h0.8M257.4 74.4h0.8M265.8 72.6h0.8M258.7 65.7h0.8M252.5 67.4h0.8M265.3 66.6h0.8M256.6 66.5h0.8M243.8 73.1h0.8M252.6 71.4h0.8M252.1 69.8h0.8M256.0 70.8h0.8M254.4 72.8h0.8M248.4 68.9h0.8M252.2 72.1h0.8M252.6 69.3h0.8M248.6 75.6h0.8M252.7 71.6h0.8M246.5 72.3h0.8M259.6 66.9h0.8M258.2 67.9h0.8M258.5 68.1h0.8M261.7 67.2h0.8M252.6 70.4h0.8M244.3 71.4h0.8M255.3 63.8h0.8M253.4 67.3h0.8M261.1 66.9h0.8M254.8 74.5h0.8M251.9 68.2h0.8M259.4 69.9h0.8M253.4 75.1h0.8M259.5 70.0h0.8M254.9 71.7h0.8M256.0 71.1h0.8M251.5 70.2h0.8M251.1 66.3h0.8M256.1 67.0h0.8M251.9 72.5h0.8M249.1 72.9h0.8M250.9 68.6h0.8M265.4 69.2h0.8M253.0 70.1h0.8M252.9 75.0h0.8M248.2 68.2h0.8M249.5 68.0h0.8M255.2 76.1h0.8M254.1 68.0h0.8M258.3 71.6h0.8M255.9 70.3h0.8M248.4 75.4h0.8M247.2 74.7h0.8M261.9 72.1h0.8M259.1 69.1h0.8M249.9 73.8h0.8M256.1 70.8h0.8M267.3 71.6h0.8M248.8 71.0h0.8M249.1 73.7h0.8M264.1 68.7h0.8M248.3 73.2h0.8M245.4 75.7h0.8M253.5 72.7h0.8M246.8 73.0h0.8M255.2 73.0h0.8M251.5 69.9h0.8M247.1 67.0h0.8M268.6 72.6h0.8M249.4 70.1h0.8M263.4 67.4h0.8M247.4 72.3h0.8M273.1 73.9h0.8M257.7 66.4h0.8M247.7 72.8h0.8M253.1 72.4h0.8M264.3 71.4h0.8M262.4 64.0h0.8M247.4 69.3h0.8M266.3 66.4h0.8M254.0 74.3h0.8M247.7 70.7h0.8M268.9 61.8h0.8M244.0 74.3h0.8M249.9 73.2h0.8M261.5 69.4h0.8M256.6 74.9h0.8M251.4 69.6h0.8M251.5 70.4h0.8M253.0 71.8h0.8M249.5 74.2h0.8M250.4 71.5h0.8M256.2 72.5h0.8M266.3 66.5h0.8M259.6 69.2h0.8M258.1 70.2h0.8M243.0 75.5h0.8M245.8 74.9h0.8M254.0 72.3h0.8M252.0 70.3h0.8M269.0 67.7h0.8M256.2 67.2h0.8M252.9 75.3h0.8M257.1 70.0h0.8M254.7 69.2h0.8M258.3 68.6h0.8M246.9 72.1h0.8M258.5 66.9h0.8M249.9 74.2h0.8M264.4 68.8h0.8M261.6 70.3h0.8M254.3 75.4h0.8M258.9 71.4h0.8M240.7 71.4h0.8M253.8 68.3h0.8M253.7 70.5h0.8M254.7 71.2h0.8M245.5 74.9h0.8M267.6 74.1h0.8M252.2 75.2h0.8M257.7 71.4h0.8M249.8 74.4h0.8M256.2 71.2h0.8M249.3 74.0h0.8M258.1 70.8h0.8M253.7 71.8h0.8M254.2 68.5h0.8M250.2 72.0h0.8M252.0 70.6h0.8M258.4 72.6h0.8M242.9 73.3h0.8M248.4 75.5h0.8M246.0 71.3h0.8M264.9 67.1h0.8M252.8 69.3h0.8M270.7 63.8h0.8M252.1 71.6h0.8M266.5 68.1h0.8M255.4 72.3h0.8M256.1 66.0h0.8M243.2 76.2h0.8M265.3 71.7h0.8M251.5 73.3h0.8M245.5 74.3h0.8M238.2 73.1h0.8M263.5 71.9h0.8M262.5 67.0h0.8M246.7 69.6h0.8M254.5 71.0h0.8M251.9 73.0h0.8M259.5 72.6h0.8M245.1 68.9h0.8M265.5 70.1h0.8M250.7 71.9h0.8M243.6 71.8h0.8M255.3 68.2h0.8M247.4 68.9h0.8M250.2 69.0h0.8M251.5 65.1h0.8M257.8 65.0h0.8M244.9 71.0h0.8M256.9 71.0h0.8M255.0 69.2h0.8M257.5 65.8h0.8M251.9 68.4h0.8M259.8 67.2h0.8M250.6 67.8h0.8M251.7 71.0h0.8M248.5 72.6h0.8M261.8 68.9h0.8M253.6 72.2h0.8M248.6 71.3h0.8M260.1 73.0h0.8M254.7 67.4h0.8M258.2 74.1h0.8M247.7 75.9h0.8M268.6 67.6h0.8M237.0 73.0h0.8M258.0 72.6h0.8M252.2 71.6h0.8M255.3 72.2h0.8M246.8 67.9h0.8M258.1 71.1h0.8M247.6 73.9h0.8M252.3 75.1h0.8M260.3 69.8h0.8M259.7 69.6h0.8M256.4 70.6h0.8M259.0 69.5h0.8M250.9 73.0h0.8M242.6 72.4h0.8M247.4 74.1h0.8M260.1 71.1h0.8M253.7 76.0h0.8M251.9 70.2h0.8M253.0 72.4h0.8M277.1 62.8h0.8M247.0 74.0h0.8M249.1 72.6h0.8M257.7 67.8h0.8M260.3 68.9h0.8M254.8 74.6h0.8M259.5 71.6h0.8M250.2 72.4h0.8M257.3 70.0h0.8M257.0 67.8h0.8M259.2 69.1h0.8M253.8 70.9h0.8M246.9 67.7h0.8M265.8 70.9h0.8M249.6 74.3h0.8M255.4 73.5h0.8M269.2 67.6h0.8M251.7 66.1h0.8M258.8 68.7h0.8M243.6 69.9h0.8M252.1 76.1h0.8M253.7 74.8h0.8M253.0 70.0h0.8M254.4 74.1h0.8M249.7 71.6h0.8M258.5 70.3h0.8M260.3 69.3h0.8M254.1 68.9h0.8M266.4 65.7h0.8M242.3 73.2h0.8M252.2 72.7h0.8M256.8 72.7h0.8M255.8 73.6h0.8M252.9 70.8h0.8M257.1 69.6h0.8M240.0 76.1h0.8M266.2 65.0h0.8M246.5 68.4h0.8M252.0 70.3h0.8M258.5 64.2h0.8M254.8 72.0h0.8M243.7 73.6h0.8M244.7 74.1h0.8M251.3 73.1h0.8M255.0 70.7h0.8M260.2 68.8h0.8M249.5 72.2h0.8M248.3 75.9h0.8M242.4 75.5h0.8M257.7 70.3h0.8M259.5 70.6h0.8M249.4 75.0h0.8M269.0 70.0h0.8M254.9 70.4h0.8M247.0 74.0h0.8M259.1 73.9h0.8M252.8 72.4h0.8M242.3 74.4h0.8M255.9 71.7h0.8M257.2 71.2h0.8M252.5 67.6h0.8M255.2 72.9h0.8M261.8 65.1h0.8M265.0 64.2h0.8M262.5 68.8h0.8M254.7 72.5h0.8M245.5 72.8h0.8M249.5 69.2h0.8M254.9 70.1h0.8M258.0 65.7h0.8M257.7 72.0h0.8M260.3 68.7h0.8M249.1 70.2h0.8M254.6 72.6h0.8M267.8 71.1h0.8M258.0 72.6h0.8M254.8 75.4h0.8M255.2 73.4h0.8M261.3 73.0h0.8M242.1 73.1h0.8M244.1 69.7h0.8M258.1 74.0h0.8M247.0 75.1h0.8M248.9 75.6h0.8M249.7 71.3h0.8M245.3 74.9h0.8M253.7 71.4h0.8M268.7 65.9h0.8M259.6 70.7h0.8M259.8 73.5h0.8M258.7 67.8h0.8M259.7 68.5h0.8M260.1 72.7h0.8M261.0 70.2h0.8M251.6 62.9h0.8M261.8 66.5h0.8M241.3 75.5h0.8M248.3 71.9h0.8M252.5 71.8h0.8M264.2 71.7h0.8M254.3 74.6h0.8M264.4 62.2h0.8M265.6 65.7h0.8M249.5 74.6h0.8M262.2 71.4h0.8M269.7 66.2h0.8M263.7 70.1h0.8M254.1 69.0h0.8M251.6 70.3h0.8M251.3 71.4h0.8M252.0 70.0h0.8M257.3 71.2h0.8M247.1 71.7h0.8M264.5 66.9h0.8M250.3 66.7h0.8M243.6 74.2h0.8M247.1 73.0h0.8M259.4 69.9h0.8M253.4 69.8h0.8M259.2 69.2h0.8M258.8 70.6h0.8M259.4 73.1h0.8M249.7 70.3h0.8M248.1 74.6h0.8M263.8 68.7h0.8M257.9 69.9h0.8M255.4 71.6h0.8M259.0 67.8h0.8M259.7 70.9h0.8M245.0 70.3h0.8M251.7 70.2h0.8M256.5 72.5h0.8M250.1 69.1h0.8M253.4 67.5h0.8M259.5 68.4h0.8M244.8 76.3h0.8M245.7 75.6h0.8M252.4 72.2h0.8M258.5 70.6h0.8M251.0 66.1h0.8M260.9 69.3h0.8M252.9 68.5h0.8M249.3 70.2h0.8M259.5 73.6h0.8M251.1 72.8h0.8M243.5 75.7h0.8M259.4 69.5h0.8M259.9 72.4h0.8M255.0 68.6h0.8M239.1 75.9h0.8M261.7 68.1h0.8M255.0 69.6h0.8M262.2 68.4h0.8M243.3 70.9h0.8M257.1 69.5h0.8M254.9 67.8h0.8M246.5 71.2h0.8M256.9 74.4h0.8M263.0 70.5h0.8M261.7 70.1h0.8M254.4 65.4h0.8M248.1 71.4h0.8M244.0 75.2h0.8M242.3 74.2h0.8M241.3 73.0h0.8M254.7 69.2h0.8M259.8 70.7h0.8M252.9 68.6h0.8M258.1 70.1h0.8M251.5 64.8h0.8M245.3 74.0h0.8M261.5 68.2h0.8M245.8 75.5h0.8M265.0 64.7h0.8M254.7 66.1h0.8M257.0 69.4h0.8M253.0 71.7h0.8M254.5 73.3h0.8M250.6 76.3h0.8M259.0 70.7h0.8M262.7 69.2h0.8M271.0 65.4h0.8M238.2 75.5h0.8M255.9 74.4h0.8M250.0 73.9h0.8M256.5 63.9h0.8M252.0 70.0h0.8M252.5 69.2h0.8M255.6 74.8h0.8M244.6 75.4h0.8M246.1 73.7h0.8M259.5 72.2h0.8M251.5 76.0h0.8M250.5 73.1h0.8M246.4 67.2h0.8M261.2 72.3h0.8M248.0 69.3h0.8M261.1 66.5h0.8M271.0 69.1h0.8M256.7 72.3h0.8M248.5 72.6h0.8M264.3 70.9h0.8M260.2 69.8h0.8M241.1 73.0h0.8M248.7 73.5h0.8M255.4 70.5h0.8M258.2 70.1h0.8M248.8 69.5h0.8M256.2 70.8h0.8M255.1 70.9h0.8M254.9 75.4h0.8M247.5 70.8h0.8M256.8 72.0h0.8M257.7 71.4h0.8M259.2 69.1h0.8M246.2 67.6h0.8M264.5 63.6h0.8M250.5 72.5h0.8M255.5 73.2h0.8M264.5 67.5h0.8M237.8 73.9h0.8M267.6 69.6h0.8M260.8 68.7h0.8M262.6 71.0h0.8M245.1 73.5h0.8M268.5 70.5h0.8M234.3 70.3h0.8M246.1 74.3h0.8M249.9 73.5h0.8M256.4 70.7h0.8M250.7 72.1h0.8M257.3 72.9h0.8M248.4 72.4h0.8M258.0 76.1h0.8M265.6 69.6h0.8M258.6 64.5h0.8M253.1 70.2h0.8M254.3 70.1h0.8M252.7 70.0h0.8M252.9 68.4h0.8M254.4 70.0h0.8M253.9 75.5h0.8M264.9 65.5h0.8M258.0 64.3h0.8M262.1 71.4h0.8M253.3 71.7h0.8M254.0 69.6h0.8M252.3 74.9h0.8M264.2 68.4h0.8M244.4 71.4h0.8M263.4 71.4h0.8M254.1 73.5h0.8M255.0 67.7h0.8M254.3 73.8h0.8M267.1 70.7h0.8M264.5 67.8h0.8M250.2 73.7h0.8M260.3 70.4h0.8M258.1 71.2h0.8M263.3 68.2h0.8M254.5 69.3h0.8M247.7 70.7h0.8M250.2 75.1h0.8M248.5 75.8h0.8M247.3 67.5h0.8M253.4 72.9h0.8M260.0 73.6h0.8M265.6 67.7h0.8M247.9 73.6h0.8M258.0 70.2h0.8M255.1 69.3h0.8M250.7 68.3h0.8M257.7 70.7h0.8M249.1 70.8h0.8M249.6 74.5h0.8M249.6 70.2h0.8M247.7 70.8h0.8M261.5 69.3h0.8M247.1 75.8h0.8M251.3 72.1h0.8M250.1 73.9h0.8M252.1 70.2h0.8M247.9 75.6h0.8M249.8 70.5h0.8M247.1 67.4h0.8M248.6 74.6h0.8M253.2 68.2h0.8M248.3 69.7h0.8M253.1 76.1h0.8M256.2 73.7h0.8M256.4 68.3h0.8M258.4 66.7h0.8M256.7 70.4h0.8M254.4 65.6h0.8M250.6 74.9h0.8M260.9 71.5h0.8M248.3 72.3h0.8M250.9 70.4h0.8M253.1 73.1h0.8M248.6 74.2h0.8M252.6 71.4h0.8M254.6 72.1h0.8M250.4 72.2h0.8M260.5 73.0h0.8M250.9 70.9h0.8M244.5 74.7h0.8M260.2 71.9h0.8M260.2 65.2h0.8M249.4 66.6h0.8M263.8 65.2h0.8M258.8 71.2h0.8M254.2 72.1h0.8M262.2 75.3h0.8M253.6 70.2h0.8M250.5 73.7h0.8M260.5 64.9h0.8M252.3 68.0h0.8M252.9 68.7h0.8M244.2 69.9h0.8M246.3 76.1h0.8M253.7 68.1h0.8M244.8 70.7h0.8M252.0 74.5h0.8M261.8 68.0h0.8M255.0 71.9h0.8M246.7 73.6h0.8M253.3 67.4h0.8M252.3 67.7h0.8M260.2 70.5h0.8M259.4 68.6h0.8M254.0 73.5h0.8M241.0 70.9h0.8M254.5 73.7h0.8M258.4 72.7h0.8M260.1 71.5h0.8M265.1 70.9h0.8M237.7 71.7h0.8M263.9 70.4h0.8M248.2 73.7h0.8M258.6 68.9h0.8M252.7 75.7h0.8M258.8 68.2h0.8M266.4 71.7h0.8M245.2 72.1h0.8M254.4 72.0h0.8M250.9 72.4h0.8M243.5 74.0h0.8M268.7 66.8h0.8M249.4 69.1h0.8M251.3 70.9h0.8M269.2 69.0h0.8M249.3 74.4h0.8M255.5 67.3h0.8M239.7 75.0h0.8M267.2 69.8h0.8M257.9 74.2h0.8M257.1 75.3h0.8M251.4 72.8h0.8M254.2 66.3h0.8M260.1 70.3h0.8M248.3 74.4h0.8M252.2 68.6h0.8M253.1 72.0h0.8M253.4 70.1h0.8M263.5 67.7h0.8M258.7 67.4h0.8M245.7 72.5h0.8M257.3 71.0h0.8M257.7 68.5h0.8M256.2 63.9h0.8M239.9 72.6h0.8M258.4 70.8h0.8M252.9 70.5h0.8M253.3 67.1h0.8M253.0 69.5h0.8M267.3 69.7h0.8M247.0 69.0h0.8M248.4 71.2h0.8M251.4 70.3h0.8M258.4 74.9h0.8M238.2 73.0h0.8M263.4 69.5h0.8M237.2 69.8h0.8M254.3 67.7h0.8M238.7 73.4h0.8M248.1 74.7h0.8M250.8 69.2h0.8M235.5 76.1h0.8M234.8 76.3h0.8M235.2 74.9h0.8M236.8 75.7h0.8M238.6 73.2h0.8M237.0 76.4h0.8M236.0 75.1h0.8M236.1 75.2h0.8M235.5 75.5h0.8M236.6 75.3h0.8M234.6 76.2h0.8M234.8 73.8h0.8M239.0 75.5h0.8M234.0 76.3h0.8M237.5 75.2h0.8M236.7 75.0h0.8M233.9 75.9h0.8M237.7 75.5h0.8M237.1 74.4h0.8M233.7 75.5h0.8M234.9 76.2h0.8M236.1 75.4h0.8M238.0 74.4h0.8M234.9 75.6h0.8M237.2 75.2h0.8M237.4 73.1h0.8M233.7 75.8h0.8M234.1 75.9h0.8M234.0 76.0h0.8M238.6 74.7h0.8M236.4 75.9h0.8M240.6 75.6h0.8M236.4 75.5h0.8M234.4 74.3h0.8M238.2 75.7h0.8M235.6 74.9h0.8M235.2 75.7h0.8M238.2 75.7h0.8M236.9 75.4h0.8M237.5 74.8h0.8M235.5 75.4h0.8M239.2 74.0h0.8M236.0 76.3h0.8M234.7 75.9h0.8M234.1 75.0h0.8M233.8 76.2h0.8M236.7 72.6h0.8M235.8 75.5h0.8M238.4 75.7h0.8M235.9 76.4h0.8M238.2 74.1h0.8M233.1 74.8h0.8M235.9 75.2h0.8M236.3 75.4h0.8M240.6 74.1h0.8M237.3 74.6h0.8M238.2 76.1h0.8M233.7 75.6h0.8M237.1 75.5h0.8M233.4 75.8h0.8M239.4 73.1h0.8M233.1 76.0h0.8M238.5 75.9h0.8M233.3 75.1h0.8M235.9 74.9h0.8M239.9 74.7h0.8M235.5 75.2h0.8M233.1 75.3h0.8M234.5 75.9h0.8M235.1 75.7h0.8M234.9 75.0h0.8M237.1 75.0h0.8M234.1 75.6h0.8M236.8 76.1h0.8M237.9 75.2h0.8M234.4 76.2h0.8M233.6 76.2h0.8M235.2 75.9h0.8M239.9 74.3h0.8M237.6 74.3h0.8M234.7 75.3h0.8M236.1 74.9h0.8M238.6 75.7h0.8M239.8 75.3h0.8M233.2 76.3h0.8M233.7 76.4h0.8M237.0 74.6h0.8M235.7 74.4h0.8M235.8 76.2h0.8M235.2 75.8h0.8M234.3 76.2h0.8M236.5 75.0h0.8M233.2 75.7h0.8M237.1 75.3h0.8M240.2 74.8h0.8M234.5 75.4h0.8M234.6 76.1h0.8M233.6 75.7h0.8M234.6 74.9h0.8M233.2 74.7h0.8M235.5 75.4h0.8M236.7 74.2h0.8M234.2 75.5h0.8M237.9 75.2h0.8M237.6 76.0h0.8M237.5 75.9h0.8M236.7 76.0h0.8M239.0 75.0h0.8M239.7 74.0h0.8M237.0 74.5h0.8" stroke="#5f6ec8" stroke-opacity="0.5" stroke-width="0.8" fill="none"/>
<g transform="rotate(-22 247.69 73.49)">
<ellipse cx="250.19" cy="72.99" rx="11.26" ry="3.2" fill="#70a8e0" fill-opacity="0.55" filter="url(#sb)"/>
<ellipse cx="248.19" cy="73.49" rx="7.35" ry="2.2" fill="#50b8b0" fill-opacity="0.8" filter="url(#sb)"/>
<ellipse cx="247.39" cy="73.69" rx="4.98" ry="1.6" fill="#90cc40" fill-opacity="0.95" filter="url(#sb)"/>
<ellipse cx="246.89" cy="73.79" rx="2.37" ry="1.1" fill="#f09020" fill-opacity="0.95" filter="url(#sb)"/>
</g>
<ellipse cx="233.71" cy="76.09" rx="1.8" ry="1.3" fill="#b8c830" fill-opacity="0.9" filter="url(#sb)"/>
<rect x="243.5" y="61.5" width="27.4" height="14.3" fill="none" stroke="#8a8a8a" stroke-width="0.75"/>
<rect x="252" y="65.5" width="8" height="6.8" fill="#fff" fill-opacity="0.9" stroke="#b0b0b0" stroke-width="0.3"/>
<line x1="252.8" y1="67.7" x2="259.2" y2="67.7" stroke="#777" stroke-width="0.7"/>
<line x1="254" y1="70.5" x2="258" y2="70.5" stroke="#999" stroke-width="0.7"/>
<rect x="232.4" y="21.6" width="62.5" height="54.8" fill="none" stroke="#111" stroke-width="1.2"/>
<line x1="229.4" y1="116.2" x2="232.4" y2="116.2" stroke="#111" stroke-width="0.9"/>
<line x1="229.4" y1="135" x2="232.4" y2="135" stroke="#111" stroke-width="0.9"/>
<line x1="229.4" y1="152.3" x2="232.4" y2="152.3" stroke="#111" stroke-width="0.9"/>
<line x1="229.4" y1="161.7" x2="232.4" y2="161.7" stroke="#111" stroke-width="0.9"/>
<line x1="229.4" y1="172.6" x2="232.4" y2="172.6" stroke="#111" stroke-width="0.9"/>
<text x="227.8" y="119.1" font-size="8.4" fill="#1a1a1a" text-anchor="end" stroke="#1a1a1a" stroke-width="0.15">10<tspan dy="-3" font-size="6.4">5</tspan></text>
<text x="227.8" y="137.9" font-size="8.4" fill="#1a1a1a" text-anchor="end" stroke="#1a1a1a" stroke-width="0.15">10<tspan dy="-3" font-size="6.4">4</tspan></text>
<text x="227.8" y="155.2" font-size="8.4" fill="#1a1a1a" text-anchor="end" stroke="#1a1a1a" stroke-width="0.15">10<tspan dy="-3" font-size="6.4">3</tspan></text>
<text x="226.9" y="164.6" font-size="8.4" fill="#1a1a1a" text-anchor="end" transform="translate(226.9 164.6) scale(1.1 1) translate(-226.9 -164.6)" stroke="#1a1a1a" stroke-width="0.15">0</text>
<text x="227.8" y="175.5" font-size="8.4" fill="#1a1a1a" text-anchor="end" stroke="#1a1a1a" stroke-width="0.15">-10<tspan dy="-3" font-size="6.4">3</tspan></text>
<line x1="230.7" y1="129.34" x2="232.4" y2="129.34" stroke="#111" stroke-width="0.6"/>
<line x1="230.7" y1="126.03" x2="232.4" y2="126.03" stroke="#111" stroke-width="0.6"/>
<line x1="230.7" y1="123.68" x2="232.4" y2="123.68" stroke="#111" stroke-width="0.6"/>
<line x1="230.7" y1="121.86" x2="232.4" y2="121.86" stroke="#111" stroke-width="0.6"/>
<line x1="230.7" y1="120.37" x2="232.4" y2="120.37" stroke="#111" stroke-width="0.6"/>
<line x1="230.7" y1="119.11" x2="232.4" y2="119.11" stroke="#111" stroke-width="0.6"/>
<line x1="230.7" y1="118.02" x2="232.4" y2="118.02" stroke="#111" stroke-width="0.6"/>
<line x1="230.7" y1="117.06" x2="232.4" y2="117.06" stroke="#111" stroke-width="0.6"/>
<line x1="230.7" y1="147.09" x2="232.4" y2="147.09" stroke="#111" stroke-width="0.6"/>
<line x1="230.7" y1="144.05" x2="232.4" y2="144.05" stroke="#111" stroke-width="0.6"/>
<line x1="230.7" y1="141.88" x2="232.4" y2="141.88" stroke="#111" stroke-width="0.6"/>
<line x1="230.7" y1="140.21" x2="232.4" y2="140.21" stroke="#111" stroke-width="0.6"/>
<line x1="230.7" y1="138.84" x2="232.4" y2="138.84" stroke="#111" stroke-width="0.6"/>
<line x1="230.7" y1="137.68" x2="232.4" y2="137.68" stroke="#111" stroke-width="0.6"/>
<line x1="230.7" y1="136.68" x2="232.4" y2="136.68" stroke="#111" stroke-width="0.6"/>
<line x1="230.7" y1="135.79" x2="232.4" y2="135.79" stroke="#111" stroke-width="0.6"/>
<line x1="230.7" y1="155.4" x2="232.4" y2="155.4" stroke="#111" stroke-width="0.6"/>
<line x1="230.7" y1="165.3" x2="232.4" y2="165.3" stroke="#111" stroke-width="0.6"/>
<line x1="230.7" y1="158.5" x2="232.4" y2="158.5" stroke="#111" stroke-width="0.6"/>
<line x1="230.7" y1="168.89" x2="232.4" y2="168.89" stroke="#111" stroke-width="0.6"/>
<rect x="230" y="159.9" width="2.4" height="3.6" fill="#111"/>
<line x1="233" y1="176.3" x2="233" y2="179.3" stroke="#111" stroke-width="0.9"/>
<text x="235.8" y="185.5" font-size="7" fill="#1a1a1a" text-anchor="end" transform="rotate(-45 235.8 185.5) translate(235.8 185.5) scale(1.08 1) translate(-235.8 -185.5)" stroke="#1a1a1a" stroke-width="0.15">0</text>
<line x1="244.85" y1="176.3" x2="244.85" y2="179.3" stroke="#111" stroke-width="0.9"/>
<text x="247.65" y="185.5" font-size="7" fill="#1a1a1a" text-anchor="end" transform="rotate(-45 247.65 185.5) translate(247.65 185.5) scale(1.2 1) translate(-247.65 -185.5)" stroke="#1a1a1a" stroke-width="0.15">50K</text>
<line x1="256.7" y1="176.3" x2="256.7" y2="179.3" stroke="#111" stroke-width="0.9"/>
<text x="259.5" y="185.5" font-size="7" fill="#1a1a1a" text-anchor="end" transform="rotate(-45 259.5 185.5) translate(259.5 185.5) scale(1.2 1) translate(-259.5 -185.5)" stroke="#1a1a1a" stroke-width="0.15">100K</text>
<line x1="268.55" y1="176.3" x2="268.55" y2="179.3" stroke="#111" stroke-width="0.9"/>
<text x="271.35" y="185.5" font-size="7" fill="#1a1a1a" text-anchor="end" transform="rotate(-45 271.35 185.5) translate(271.35 185.5) scale(1.2 1) translate(-271.35 -185.5)" stroke="#1a1a1a" stroke-width="0.15">150K</text>
<line x1="280.4" y1="176.3" x2="280.4" y2="179.3" stroke="#111" stroke-width="0.9"/>
<text x="283.2" y="185.5" font-size="7" fill="#1a1a1a" text-anchor="end" transform="rotate(-45 283.2 185.5) translate(283.2 185.5) scale(1.21 1) translate(-283.2 -185.5)" stroke="#1a1a1a" stroke-width="0.15">200K</text>
<line x1="292.25" y1="176.3" x2="292.25" y2="179.3" stroke="#111" stroke-width="0.9"/>
<text x="295.05" y="185.5" font-size="7" fill="#1a1a1a" text-anchor="end" transform="rotate(-45 295.05 185.5) translate(295.05 185.5) scale(1.21 1) translate(-295.05 -185.5)" stroke="#1a1a1a" stroke-width="0.15">250K</text>
<line x1="233" y1="176.3" x2="233" y2="178" stroke="#111" stroke-width="0.6"/>
<line x1="235.37" y1="176.3" x2="235.37" y2="178" stroke="#111" stroke-width="0.6"/>
<line x1="237.74" y1="176.3" x2="237.74" y2="178" stroke="#111" stroke-width="0.6"/>
<line x1="240.11" y1="176.3" x2="240.11" y2="178" stroke="#111" stroke-width="0.6"/>
<line x1="242.48" y1="176.3" x2="242.48" y2="178" stroke="#111" stroke-width="0.6"/>
<line x1="244.85" y1="176.3" x2="244.85" y2="178" stroke="#111" stroke-width="0.6"/>
<line x1="247.22" y1="176.3" x2="247.22" y2="178" stroke="#111" stroke-width="0.6"/>
<line x1="249.59" y1="176.3" x2="249.59" y2="178" stroke="#111" stroke-width="0.6"/>
<line x1="251.96" y1="176.3" x2="251.96" y2="178" stroke="#111" stroke-width="0.6"/>
<line x1="254.33" y1="176.3" x2="254.33" y2="178" stroke="#111" stroke-width="0.6"/>
<line x1="256.7" y1="176.3" x2="256.7" y2="178" stroke="#111" stroke-width="0.6"/>
<line x1="259.07" y1="176.3" x2="259.07" y2="178" stroke="#111" stroke-width="0.6"/>
<line x1="261.44" y1="176.3" x2="261.44" y2="178" stroke="#111" stroke-width="0.6"/>
<line x1="263.81" y1="176.3" x2="263.81" y2="178" stroke="#111" stroke-width="0.6"/>
<line x1="266.18" y1="176.3" x2="266.18" y2="178" stroke="#111" stroke-width="0.6"/>
<line x1="268.55" y1="176.3" x2="268.55" y2="178" stroke="#111" stroke-width="0.6"/>
<line x1="270.92" y1="176.3" x2="270.92" y2="178" stroke="#111" stroke-width="0.6"/>
<line x1="273.29" y1="176.3" x2="273.29" y2="178" stroke="#111" stroke-width="0.6"/>
<line x1="275.66" y1="176.3" x2="275.66" y2="178" stroke="#111" stroke-width="0.6"/>
<line x1="278.03" y1="176.3" x2="278.03" y2="178" stroke="#111" stroke-width="0.6"/>
<line x1="280.4" y1="176.3" x2="280.4" y2="178" stroke="#111" stroke-width="0.6"/>
<line x1="282.77" y1="176.3" x2="282.77" y2="178" stroke="#111" stroke-width="0.6"/>
<line x1="285.14" y1="176.3" x2="285.14" y2="178" stroke="#111" stroke-width="0.6"/>
<line x1="287.51" y1="176.3" x2="287.51" y2="178" stroke="#111" stroke-width="0.6"/>
<line x1="289.88" y1="176.3" x2="289.88" y2="178" stroke="#111" stroke-width="0.6"/>
<line x1="292.25" y1="176.3" x2="292.25" y2="178" stroke="#111" stroke-width="0.6"/>
<path d="M244.7 159.2h0.8M250.9 150.5h0.8M251.2 123.2h0.8M263.0 120.5h0.8M257.0 155.4h0.8M267.5 152.6h0.8M262.3 155.9h0.8M250.1 144.4h0.8M265.3 152.8h0.8M251.5 122.4h0.8M259.0 130.6h0.8M263.4 155.8h0.8M252.0 153.9h0.8M270.8 144.7h0.8M246.2 118.8h0.8M264.0 150.8h0.8M257.7 154.4h0.8M244.5 118.2h0.8M260.8 158.6h0.8M256.1 118.8h0.8M257.9 154.9h0.8M263.8 124.1h0.8M248.8 151.4h0.8M249.6 158.4h0.8M255.0 157.7h0.8M253.1 123.3h0.8M244.6 151.3h0.8M265.6 118.1h0.8M255.3 118.6h0.8M271.0 118.4h0.8M253.3 121.2h0.8M245.0 132.0h0.8M263.1 157.8h0.8M263.2 123.0h0.8M265.6 138.8h0.8M257.0 145.5h0.8M252.8 123.5h0.8M254.4 139.2h0.8M247.2 121.1h0.8M263.7 136.9h0.8M246.0 158.7h0.8M268.9 135.4h0.8M266.0 140.8h0.8M252.5 123.0h0.8M260.4 153.1h0.8M260.9 127.2h0.8M256.8 152.9h0.8M260.3 133.3h0.8M253.3 132.9h0.8M245.4 151.9h0.8M268.3 123.7h0.8M244.1 123.4h0.8M264.6 141.2h0.8M254.8 133.6h0.8M264.3 125.6h0.8M245.9 155.1h0.8M268.7 139.9h0.8M250.7 152.3h0.8M257.7 137.6h0.8M246.7 160.3h0.8M249.3 159.9h0.8M263.0 147.2h0.8M255.6 136.8h0.8M258.3 155.7h0.8M247.4 158.3h0.8M270.0 123.9h0.8M261.2 119.2h0.8M251.6 155.5h0.8M244.0 156.5h0.8M260.3 147.1h0.8M262.4 150.6h0.8M262.4 153.5h0.8M262.3 131.3h0.8M253.4 153.2h0.8M244.9 134.1h0.8M248.8 123.2h0.8M263.0 157.6h0.8M269.7 153.5h0.8M257.7 123.3h0.8M256.5 118.7h0.8M246.2 159.7h0.8M256.2 119.0h0.8M263.0 150.7h0.8M245.3 136.9h0.8M247.1 131.4h0.8M256.4 118.9h0.8M265.8 120.3h0.8M267.0 133.3h0.8M263.1 153.0h0.8M256.8 151.8h0.8M262.1 120.0h0.8M253.3 128.2h0.8M249.6 132.4h0.8M257.6 154.8h0.8M251.0 137.4h0.8M246.1 151.9h0.8M244.3 143.0h0.8M251.1 137.5h0.8M250.9 153.4h0.8M261.8 147.6h0.8M256.4 120.4h0.8M249.4 144.8h0.8M253.7 160.2h0.8M247.6 142.4h0.8M263.7 154.2h0.8M259.6 145.2h0.8M256.0 147.6h0.8M256.1 151.7h0.8M250.2 155.7h0.8M264.4 143.9h0.8M247.1 123.2h0.8M269.1 145.0h0.8M253.5 153.9h0.8M252.6 134.1h0.8M253.0 129.1h0.8M260.4 122.6h0.8M254.6 119.7h0.8M250.9 157.6h0.8M259.2 155.1h0.8M270.0 151.0h0.8M260.2 149.0h0.8M260.7 121.1h0.8M262.1 120.7h0.8M265.3 129.2h0.8M264.9 139.0h0.8M263.7 131.8h0.8M246.3 156.3h0.8M246.0 158.9h0.8M269.7 137.0h0.8M263.1 125.2h0.8M261.5 130.1h0.8M258.1 146.9h0.8M265.9 153.5h0.8M257.2 152.0h0.8M248.5 118.2h0.8M269.4 150.6h0.8M264.0 158.0h0.8M254.6 160.6h0.8M268.5 143.3h0.8M262.3 143.0h0.8M261.4 128.2h0.8M266.0 142.7h0.8M265.5 151.1h0.8M249.1 119.6h0.8M264.4 122.7h0.8M259.9 125.1h0.8M252.2 136.2h0.8M254.8 160.6h0.8M244.7 145.0h0.8M262.9 123.4h0.8M268.4 157.6h0.8M260.4 151.6h0.8M252.1 153.0h0.8M245.3 132.6h0.8M268.3 160.5h0.8M260.4 123.4h0.8M246.7 158.1h0.8M256.7 138.9h0.8M244.4 139.2h0.8M258.2 152.8h0.8M265.1 120.3h0.8M250.1 121.8h0.8M246.8 153.2h0.8M250.2 123.5h0.8M266.8 147.2h0.8M244.1 157.7h0.8M259.4 123.4h0.8M268.7 148.0h0.8M257.6 150.4h0.8M251.7 118.0h0.8M248.2 143.6h0.8M256.9 119.1h0.8M265.2 124.1h0.8M259.2 132.9h0.8M244.8 155.5h0.8M258.4 132.7h0.8M270.1 119.2h0.8M262.0 158.7h0.8M248.2 153.8h0.8M251.4 152.1h0.8M265.5 147.5h0.8M260.3 120.3h0.8M250.5 132.1h0.8M261.4 131.1h0.8M244.4 128.8h0.8M248.3 137.8h0.8M269.1 153.3h0.8M266.1 152.5h0.8M264.1 131.6h0.8M252.6 121.0h0.8M257.9 127.9h0.8M245.3 131.1h0.8M262.8 131.0h0.8M247.7 122.3h0.8M269.8 157.9h0.8M250.4 120.1h0.8M251.6 130.6h0.8M246.2 160.3h0.8M247.2 159.5h0.8M268.0 159.7h0.8M260.0 159.4h0.8M258.1 117.9h0.8M245.5 145.2h0.8M262.7 158.0h0.8M245.5 154.7h0.8M248.4 134.0h0.8M249.2 150.0h0.8M267.7 120.0h0.8M244.7 134.5h0.8M270.2 149.8h0.8M267.3 118.5h0.8M260.0 151.1h0.8M249.2 159.3h0.8M250.7 157.6h0.8M261.5 159.9h0.8M268.4 143.1h0.8M268.7 121.6h0.8M259.6 153.4h0.8M243.6 149.5h0.8M268.8 118.2h0.8M257.6 127.3h0.8M244.8 148.8h0.8M268.1 133.9h0.8M267.0 135.2h0.8M265.3 122.7h0.8M263.1 150.8h0.8M255.9 148.1h0.8M244.0 152.0h0.8M256.7 117.9h0.8M251.7 120.4h0.8M246.8 127.9h0.8M249.7 120.7h0.8M258.4 123.0h0.8M251.0 148.6h0.8M250.6 130.1h0.8M265.9 138.7h0.8M263.0 155.3h0.8M265.9 125.7h0.8M246.8 153.6h0.8M263.7 156.1h0.8M269.0 141.3h0.8M267.9 151.8h0.8M244.3 151.4h0.8M249.4 152.6h0.8M259.0 134.0h0.8M271.1 118.7h0.8M252.8 134.4h0.8M256.8 149.9h0.8M257.8 155.1h0.8M268.4 150.5h0.8M248.4 121.0h0.8M262.8 160.3h0.8M261.6 154.0h0.8M249.7 144.5h0.8M270.2 152.6h0.8M245.2 123.7h0.8M255.3 159.2h0.8M253.0 121.8h0.8M251.6 145.1h0.8M252.5 151.6h0.8M263.3 153.7h0.8M258.4 157.5h0.8M260.3 153.2h0.8M258.7 150.5h0.8M243.9 123.6h0.8M245.8 152.9h0.8M253.7 142.2h0.8M246.2 138.9h0.8M261.1 153.8h0.8M258.1 127.9h0.8M247.2 123.5h0.8M246.9 138.0h0.8M248.5 145.9h0.8M264.2 137.0h0.8M247.4 138.7h0.8M270.4 154.4h0.8M269.1 123.6h0.8M249.6 157.4h0.8M250.4 152.8h0.8M257.8 135.7h0.8M262.4 129.7h0.8M259.8 153.0h0.8M246.2 118.1h0.8M251.7 150.8h0.8M254.5 126.2h0.8M264.8 154.0h0.8M255.3 157.6h0.8M245.7 156.9h0.8M245.4 132.4h0.8M252.2 157.6h0.8M265.1 124.0h0.8M256.4 151.6h0.8M269.7 153.5h0.8M249.5 134.6h0.8M256.2 118.9h0.8M270.4 135.1h0.8M269.1 155.1h0.8M248.0 120.0h0.8M253.4 136.1h0.8M263.6 133.9h0.8M271.4 117.9h0.8M263.1 119.0h0.8M261.8 120.3h0.8M263.2 121.4h0.8M248.9 124.2h0.8M264.8 120.7h0.8M244.5 122.9h0.8M261.8 129.0h0.8M247.9 158.1h0.8M261.6 130.0h0.8M258.4 155.8h0.8M265.1 126.8h0.8M249.7 152.0h0.8M264.7 129.3h0.8M256.8 153.7h0.8M259.9 123.5h0.8M267.2 121.9h0.8M250.7 155.9h0.8M249.6 127.0h0.8M266.5 154.1h0.8M258.4 160.5h0.8M250.3 122.4h0.8M267.3 154.2h0.8M245.5 149.0h0.8M265.2 121.3h0.8M259.9 158.5h0.8M246.0 122.6h0.8M249.2 153.1h0.8M249.6 121.7h0.8M271.4 119.5h0.8M259.3 153.9h0.8M262.6 150.6h0.8M271.0 129.6h0.8M249.0 122.4h0.8M247.5 128.2h0.8M261.9 130.4h0.8M255.2 145.3h0.8M258.2 155.9h0.8M249.0 158.1h0.8M257.8 151.9h0.8M248.9 122.5h0.8M250.4 149.4h0.8M261.4 128.2h0.8M253.8 127.7h0.8M248.5 122.3h0.8M246.2 156.2h0.8M244.1 130.4h0.8M244.9 146.6h0.8M261.2 125.8h0.8M261.7 156.1h0.8M250.4 160.7h0.8M244.7 151.7h0.8M256.4 130.1h0.8M261.2 134.7h0.8M243.7 119.6h0.8M266.3 157.2h0.8M260.1 119.8h0.8M265.4 154.8h0.8M245.4 121.1h0.8M245.5 127.5h0.8M245.4 153.1h0.8M243.6 157.1h0.8M268.5 129.2h0.8M258.4 119.7h0.8M260.0 121.4h0.8M262.6 159.9h0.8M268.2 143.7h0.8M262.9 123.5h0.8M255.5 144.4h0.8M250.0 121.8h0.8M267.5 123.1h0.8M251.5 137.0h0.8M269.4 120.6h0.8M245.3 121.6h0.8M264.9 125.1h0.8M260.8 153.1h0.8M250.2 119.9h0.8M249.2 124.3h0.8M258.5 149.8h0.8M248.1 149.2h0.8M246.8 129.3h0.8M270.5 137.3h0.8M254.1 118.6h0.8M262.1 123.7h0.8M250.4 131.8h0.8M253.2 117.7h0.8M251.8 131.0h0.8M250.3 144.1h0.8M243.9 143.2h0.8M266.2 127.0h0.8M270.0 135.8h0.8M262.6 121.7h0.8M268.8 121.3h0.8M270.9 118.0h0.8M245.2 119.5h0.8M258.8 158.4h0.8M254.5 151.2h0.8M256.7 124.1h0.8M246.6 139.4h0.8M271.2 118.8h0.8M269.3 140.2h0.8M267.2 122.7h0.8M246.4 152.8h0.8M261.2 151.0h0.8M258.4 125.9h0.8M258.8 121.5h0.8M263.2 151.7h0.8M259.6 118.1h0.8M249.6 156.9h0.8M248.5 132.0h0.8M252.9 140.0h0.8M248.4 146.8h0.8M249.4 122.2h0.8M265.4 126.3h0.8M255.5 159.4h0.8M268.4 119.7h0.8M254.3 148.7h0.8M260.0 156.9h0.8M252.1 138.5h0.8M248.1 135.9h0.8M256.0 151.0h0.8M257.7 159.3h0.8M244.7 144.8h0.8M247.8 156.4h0.8M257.9 122.4h0.8M246.0 119.7h0.8M265.8 147.0h0.8M257.7 149.3h0.8M248.8 139.4h0.8M244.7 127.8h0.8M244.4 137.0h0.8M244.7 120.3h0.8M268.6 146.0h0.8M252.0 149.4h0.8M250.0 120.3h0.8M250.3 141.8h0.8M247.9 133.6h0.8M243.5 152.3h0.8M255.1 149.8h0.8M249.2 148.1h0.8M263.8 119.7h0.8M252.5 140.0h0.8M258.6 158.0h0.8M260.4 152.4h0.8M263.6 131.6h0.8M252.7 121.8h0.8M246.1 150.5h0.8M259.2 120.1h0.8M255.6 155.7h0.8M258.0 158.5h0.8M264.5 135.6h0.8M269.4 159.3h0.8M261.2 126.6h0.8M251.8 142.4h0.8M251.4 151.7h0.8M257.2 159.9h0.8M267.9 120.6h0.8M257.8 121.6h0.8M263.2 133.3h0.8M250.9 148.7h0.8M256.7 140.2h0.8M256.7 131.7h0.8M251.2 141.0h0.8M261.4 122.9h0.8M248.7 138.7h0.8M250.6 143.4h0.8M260.9 123.5h0.8M270.9 133.4h0.8M264.9 123.4h0.8M266.8 147.5h0.8M256.1 131.3h0.8M244.9 126.8h0.8M256.7 152.8h0.8M252.8 126.7h0.8M253.6 154.1h0.8M253.1 155.7h0.8M245.9 156.6h0.8M269.3 121.6h0.8M249.0 144.7h0.8M245.6 156.0h0.8M244.9 155.1h0.8M264.2 160.2h0.8M252.9 133.9h0.8M245.2 155.7h0.8M256.3 150.4h0.8M247.3 118.8h0.8M259.5 133.3h0.8M266.0 141.2h0.8M245.9 153.2h0.8M253.7 119.4h0.8M264.9 150.7h0.8M268.3 123.0h0.8M250.3 150.3h0.8M255.3 160.1h0.8M259.9 146.1h0.8M246.5 132.4h0.8M257.0 134.4h0.8M262.6 120.8h0.8M245.3 159.1h0.8M269.9 151.0h0.8M261.0 158.9h0.8M266.1 154.5h0.8M254.6 138.3h0.8M262.9 120.3h0.8M255.7 141.9h0.8M270.5 140.6h0.8M263.3 150.7h0.8M256.0 119.0h0.8M248.5 153.0h0.8M262.1 146.9h0.8M249.6 119.7h0.8M264.2 138.2h0.8M266.0 148.9h0.8M260.9 117.9h0.8M247.9 154.9h0.8M248.5 152.6h0.8M264.5 151.7h0.8M264.2 121.8h0.8M249.9 142.7h0.8M264.3 122.9h0.8" stroke="#7c86d0" stroke-opacity="0.4" stroke-width="0.8" fill="none"/>
<path d="M252.1 161.1h0.8M250.9 158.4h0.8M262.1 157.5h0.8M269.5 157.6h0.8M252.8 156.4h0.8M258.0 156.5h0.8M244.9 158.3h0.8M257.0 159.7h0.8M264.7 160.6h0.8M249.4 159.8h0.8M245.4 160.4h0.8M250.9 158.2h0.8M250.8 158.5h0.8M264.5 154.7h0.8M245.9 158.8h0.8M253.2 159.5h0.8M251.4 155.6h0.8M251.8 157.0h0.8M254.1 158.7h0.8M252.3 155.7h0.8M264.6 156.4h0.8M248.6 160.4h0.8M255.5 160.5h0.8M259.4 157.5h0.8M247.6 160.7h0.8M265.2 157.4h0.8M244.4 160.5h0.8M264.3 158.3h0.8M252.3 159.6h0.8M260.6 154.3h0.8M256.6 157.3h0.8M256.3 155.8h0.8M267.6 158.7h0.8M249.0 156.1h0.8M251.2 160.8h0.8M261.1 158.3h0.8M263.2 158.4h0.8M270.5 160.3h0.8M255.9 158.2h0.8M267.0 153.8h0.8M251.1 156.3h0.8M260.4 155.3h0.8M254.2 158.5h0.8M255.5 160.0h0.8M258.8 156.6h0.8M262.3 157.3h0.8M258.3 162.3h0.8M254.9 156.8h0.8M259.4 158.7h0.8M250.0 158.9h0.8M246.6 159.8h0.8M250.4 160.0h0.8M253.5 155.3h0.8M259.3 157.2h0.8M246.4 158.7h0.8M261.6 156.6h0.8M256.4 161.8h0.8M255.3 156.7h0.8M249.4 157.1h0.8M257.0 157.7h0.8M253.9 157.6h0.8M252.9 158.0h0.8M248.1 159.6h0.8M251.2 158.1h0.8M258.2 158.4h0.8M255.6 157.3h0.8M268.4 154.1h0.8M248.2 158.7h0.8M249.9 157.2h0.8M248.5 159.6h0.8M256.9 159.9h0.8M263.5 161.3h0.8M258.6 157.2h0.8M260.6 160.5h0.8M270.6 157.2h0.8M257.7 162.5h0.8M261.2 161.7h0.8M254.2 157.9h0.8M252.0 158.3h0.8M259.5 157.5h0.8M253.4 158.2h0.8M268.9 157.9h0.8M257.1 156.5h0.8M262.2 158.3h0.8M258.2 160.1h0.8M254.0 158.8h0.8M269.4 155.7h0.8M259.8 157.1h0.8M252.9 157.4h0.8M260.6 159.0h0.8M251.1 155.3h0.8M257.9 155.7h0.8M251.4 157.4h0.8M264.4 159.2h0.8M255.9 158.7h0.8M257.7 160.6h0.8M245.1 157.4h0.8M259.3 161.6h0.8M266.1 156.6h0.8M253.6 162.8h0.8M246.2 158.2h0.8M257.2 155.4h0.8M258.4 159.7h0.8M254.4 159.8h0.8M255.1 157.0h0.8M252.1 158.8h0.8M257.6 159.2h0.8M262.7 159.0h0.8M253.1 157.7h0.8M246.5 157.9h0.8M249.9 157.6h0.8M257.8 160.4h0.8M252.6 160.2h0.8M247.6 156.1h0.8M256.4 158.0h0.8M255.3 158.3h0.8M250.1 155.6h0.8M255.0 158.4h0.8M254.9 156.5h0.8M270.4 157.0h0.8M262.0 159.3h0.8M266.5 158.5h0.8M244.8 157.4h0.8M255.1 158.7h0.8M267.4 158.3h0.8M249.0 159.0h0.8M257.6 160.0h0.8M251.7 158.5h0.8M263.6 157.7h0.8M263.0 157.4h0.8M255.8 160.3h0.8M262.8 160.2h0.8M269.2 158.1h0.8M263.2 158.0h0.8M254.0 154.3h0.8M251.4 155.9h0.8M254.9 155.3h0.8M247.8 156.7h0.8M253.4 159.6h0.8M248.3 158.7h0.8M251.5 154.9h0.8M251.5 156.4h0.8M262.9 159.7h0.8M254.4 155.7h0.8M263.8 156.7h0.8M250.5 154.5h0.8M253.6 155.2h0.8M259.2 156.0h0.8M253.8 159.9h0.8M261.7 157.1h0.8M261.1 157.4h0.8M261.1 156.8h0.8M253.9 154.8h0.8M253.7 159.6h0.8M265.4 158.8h0.8M270.8 158.0h0.8M252.3 154.8h0.8M260.8 161.2h0.8M261.2 158.8h0.8M251.5 160.1h0.8M268.4 159.9h0.8M266.6 160.9h0.8M256.9 157.4h0.8M252.4 155.8h0.8M255.4 158.3h0.8M248.6 159.1h0.8M264.1 156.8h0.8M254.6 154.8h0.8M263.8 157.1h0.8M254.3 158.9h0.8M244.1 158.0h0.8M251.6 158.3h0.8M252.4 157.6h0.8M257.0 154.7h0.8M247.4 162.2h0.8M248.8 160.8h0.8M259.5 161.1h0.8M261.8 159.6h0.8M252.4 159.6h0.8M252.7 157.8h0.8M253.6 157.2h0.8M253.0 157.4h0.8M259.8 155.3h0.8M246.4 158.5h0.8M255.9 159.1h0.8M254.2 155.5h0.8M251.1 156.5h0.8M263.7 159.2h0.8M249.0 160.6h0.8M256.0 156.6h0.8M251.7 157.8h0.8M257.6 157.9h0.8M251.3 156.8h0.8M253.2 157.6h0.8M259.1 158.1h0.8M260.5 159.6h0.8M245.9 159.5h0.8M247.5 160.3h0.8M247.3 158.1h0.8M267.6 156.6h0.8M262.7 155.9h0.8M254.1 157.1h0.8M253.5 157.6h0.8M256.3 158.9h0.8M244.3 160.3h0.8M258.9 161.1h0.8M247.7 161.0h0.8M245.4 161.7h0.8M258.2 157.3h0.8M253.5 160.0h0.8M259.8 158.8h0.8M257.3 160.6h0.8M251.2 159.4h0.8M257.9 157.3h0.8M265.6 159.6h0.8M259.3 159.5h0.8M258.0 154.3h0.8M250.9 153.9h0.8M258.6 159.5h0.8M261.0 155.1h0.8M261.0 155.6h0.8M255.7 155.2h0.8M245.1 156.7h0.8M260.4 157.3h0.8M252.8 152.9h0.8M267.6 161.3h0.8M257.1 159.3h0.8M247.1 156.8h0.8M249.2 161.3h0.8M247.0 155.5h0.8M264.9 158.3h0.8M253.1 155.6h0.8M243.8 159.5h0.8M257.8 154.5h0.8M270.2 156.6h0.8M260.1 156.0h0.8M247.1 154.7h0.8M254.9 157.8h0.8M255.8 158.5h0.8M258.5 158.5h0.8M251.4 159.0h0.8M247.4 157.2h0.8M254.3 158.9h0.8M257.8 158.3h0.8M261.6 162.8h0.8M267.7 158.3h0.8M256.7 158.7h0.8M255.0 158.7h0.8M260.5 158.1h0.8M252.9 157.5h0.8M254.4 159.8h0.8M256.8 157.6h0.8M261.9 160.0h0.8M256.8 158.3h0.8M252.0 158.0h0.8M265.9 161.0h0.8M251.8 158.5h0.8M261.9 158.2h0.8M245.2 157.8h0.8M253.2 158.9h0.8M250.2 160.5h0.8M257.4 160.1h0.8M253.8 157.4h0.8M255.2 155.9h0.8M256.7 158.0h0.8M257.0 161.4h0.8M261.3 159.7h0.8M260.0 157.7h0.8M264.0 157.4h0.8M256.4 162.5h0.8M260.2 157.3h0.8M255.3 156.0h0.8M259.8 158.0h0.8M251.7 159.3h0.8M256.6 158.0h0.8M250.9 160.9h0.8M252.1 161.3h0.8M265.7 157.6h0.8M259.3 157.0h0.8M269.2 159.9h0.8M248.0 155.9h0.8M263.4 160.5h0.8M255.9 156.7h0.8M252.9 158.7h0.8M251.6 159.0h0.8M249.2 161.9h0.8M260.8 159.6h0.8M264.8 156.7h0.8M254.5 159.1h0.8M254.2 157.1h0.8M261.4 154.6h0.8M247.8 156.7h0.8M258.8 155.5h0.8M251.2 158.0h0.8M249.1 157.5h0.8M245.3 158.3h0.8M245.2 155.5h0.8M247.1 156.1h0.8M255.8 158.9h0.8M245.6 158.1h0.8M255.3 158.8h0.8M251.4 157.6h0.8M251.8 157.1h0.8M257.6 160.6h0.8M263.6 159.6h0.8M267.2 157.1h0.8M257.3 160.2h0.8M255.5 154.8h0.8M256.5 157.9h0.8M250.7 159.6h0.8M260.1 156.4h0.8M253.1 156.2h0.8M247.3 158.0h0.8M266.8 158.7h0.8M261.1 159.1h0.8M250.7 163.8h0.8M253.5 159.2h0.8M248.7 156.1h0.8M253.9 158.4h0.8M248.1 160.3h0.8M250.8 161.0h0.8M266.1 157.0h0.8M256.5 157.7h0.8M261.1 160.2h0.8M260.2 155.9h0.8M260.4 161.3h0.8M249.8 161.3h0.8M253.4 158.9h0.8M253.6 160.1h0.8M244.3 154.7h0.8M267.0 158.6h0.8M245.8 156.8h0.8M245.9 161.6h0.8M259.3 157.5h0.8M267.8 158.1h0.8M259.5 155.6h0.8M251.5 160.7h0.8M269.9 160.3h0.8M252.1 158.0h0.8" stroke="#5a6cc8" stroke-opacity="0.5" stroke-width="0.8" fill="none"/>
<rect x="243.43" y="158.3" width="17.06" height="3.2" fill="#78b4e4" fill-opacity="0.6" filter="url(#sb)"/>
<rect x="243.43" y="159" width="18.72" height="2.2" fill="url(#pig)" rx="1"/>
<line x1="232.4" y1="153.1" x2="294.9" y2="153.1" stroke="#b8b8b8" stroke-width="0.85"/>
<text x="257.88" y="162.9" font-size="2.7" fill="#777">N-Negative</text>
<text x="261.91" y="166.3" font-size="2.7" fill="#777">93.x</text>
<rect x="232.4" y="113" width="62.5" height="63.3" fill="none" stroke="#111" stroke-width="1.2"/>
<text x="368.5" y="16.4" font-size="10.4" fill="#111" text-anchor="middle" stroke="#111" stroke-width="0.15">MM.1S</text>
<line x1="334.6" y1="76.4" x2="337.6" y2="76.4" stroke="#111" stroke-width="0.9"/>
<text x="331.6" y="79" font-size="7" fill="#1a1a1a" text-anchor="end" transform="translate(331.6 79) scale(1.08 1) translate(-331.6 -79)" stroke="#1a1a1a" stroke-width="0.15">0</text>
<line x1="334.6" y1="66.02" x2="337.6" y2="66.02" stroke="#111" stroke-width="0.9"/>
<text x="331.6" y="68.62" font-size="7" fill="#1a1a1a" text-anchor="end" transform="translate(331.6 68.62) scale(1.2 1) translate(-331.6 -68.62)" stroke="#1a1a1a" stroke-width="0.15">50K</text>
<line x1="334.6" y1="55.64" x2="337.6" y2="55.64" stroke="#111" stroke-width="0.9"/>
<text x="331.6" y="58.24" font-size="7" fill="#1a1a1a" text-anchor="end" transform="translate(331.6 58.24) scale(1.2 1) translate(-331.6 -58.24)" stroke="#1a1a1a" stroke-width="0.15">100K</text>
<line x1="334.6" y1="45.26" x2="337.6" y2="45.26" stroke="#111" stroke-width="0.9"/>
<text x="331.6" y="47.86" font-size="7" fill="#1a1a1a" text-anchor="end" transform="translate(331.6 47.86) scale(1.2 1) translate(-331.6 -47.86)" stroke="#1a1a1a" stroke-width="0.15">150K</text>
<line x1="334.6" y1="34.88" x2="337.6" y2="34.88" stroke="#111" stroke-width="0.9"/>
<text x="331.6" y="37.48" font-size="7" fill="#1a1a1a" text-anchor="end" transform="translate(331.6 37.48) scale(1.21 1) translate(-331.6 -37.48)" stroke="#1a1a1a" stroke-width="0.15">200K</text>
<line x1="334.6" y1="24.5" x2="337.6" y2="24.5" stroke="#111" stroke-width="0.9"/>
<text x="331.6" y="27.1" font-size="7" fill="#1a1a1a" text-anchor="end" transform="translate(331.6 27.1) scale(1.21 1) translate(-331.6 -27.1)" stroke="#1a1a1a" stroke-width="0.15">250K</text>
<line x1="335.9" y1="76.4" x2="337.6" y2="76.4" stroke="#111" stroke-width="0.6"/>
<line x1="335.9" y1="74.32" x2="337.6" y2="74.32" stroke="#111" stroke-width="0.6"/>
<line x1="335.9" y1="72.25" x2="337.6" y2="72.25" stroke="#111" stroke-width="0.6"/>
<line x1="335.9" y1="70.17" x2="337.6" y2="70.17" stroke="#111" stroke-width="0.6"/>
<line x1="335.9" y1="68.1" x2="337.6" y2="68.1" stroke="#111" stroke-width="0.6"/>
<line x1="335.9" y1="66.02" x2="337.6" y2="66.02" stroke="#111" stroke-width="0.6"/>
<line x1="335.9" y1="63.94" x2="337.6" y2="63.94" stroke="#111" stroke-width="0.6"/>
<line x1="335.9" y1="61.87" x2="337.6" y2="61.87" stroke="#111" stroke-width="0.6"/>
<line x1="335.9" y1="59.79" x2="337.6" y2="59.79" stroke="#111" stroke-width="0.6"/>
<line x1="335.9" y1="57.72" x2="337.6" y2="57.72" stroke="#111" stroke-width="0.6"/>
<line x1="335.9" y1="55.64" x2="337.6" y2="55.64" stroke="#111" stroke-width="0.6"/>
<line x1="335.9" y1="53.56" x2="337.6" y2="53.56" stroke="#111" stroke-width="0.6"/>
<line x1="335.9" y1="51.49" x2="337.6" y2="51.49" stroke="#111" stroke-width="0.6"/>
<line x1="335.9" y1="49.41" x2="337.6" y2="49.41" stroke="#111" stroke-width="0.6"/>
<line x1="335.9" y1="47.34" x2="337.6" y2="47.34" stroke="#111" stroke-width="0.6"/>
<line x1="335.9" y1="45.26" x2="337.6" y2="45.26" stroke="#111" stroke-width="0.6"/>
<line x1="335.9" y1="43.18" x2="337.6" y2="43.18" stroke="#111" stroke-width="0.6"/>
<line x1="335.9" y1="41.11" x2="337.6" y2="41.11" stroke="#111" stroke-width="0.6"/>
<line x1="335.9" y1="39.03" x2="337.6" y2="39.03" stroke="#111" stroke-width="0.6"/>
<line x1="335.9" y1="36.96" x2="337.6" y2="36.96" stroke="#111" stroke-width="0.6"/>
<line x1="335.9" y1="34.88" x2="337.6" y2="34.88" stroke="#111" stroke-width="0.6"/>
<line x1="335.9" y1="32.8" x2="337.6" y2="32.8" stroke="#111" stroke-width="0.6"/>
<line x1="335.9" y1="30.73" x2="337.6" y2="30.73" stroke="#111" stroke-width="0.6"/>
<line x1="335.9" y1="28.65" x2="337.6" y2="28.65" stroke="#111" stroke-width="0.6"/>
<line x1="335.9" y1="26.58" x2="337.6" y2="26.58" stroke="#111" stroke-width="0.6"/>
<line x1="335.9" y1="24.5" x2="337.6" y2="24.5" stroke="#111" stroke-width="0.6"/>
<line x1="338.2" y1="76.4" x2="338.2" y2="79.4" stroke="#111" stroke-width="0.9"/>
<text x="341" y="85.6" font-size="7" fill="#1a1a1a" text-anchor="end" transform="rotate(-45 341 85.6) translate(341 85.6) scale(1.08 1) translate(-341 -85.6)" stroke="#1a1a1a" stroke-width="0.15">0</text>
<line x1="349.8" y1="76.4" x2="349.8" y2="79.4" stroke="#111" stroke-width="0.9"/>
<text x="352.6" y="85.6" font-size="7" fill="#1a1a1a" text-anchor="end" transform="rotate(-45 352.6 85.6) translate(352.6 85.6) scale(1.2 1) translate(-352.6 -85.6)" stroke="#1a1a1a" stroke-width="0.15">50K</text>
<line x1="361.4" y1="76.4" x2="361.4" y2="79.4" stroke="#111" stroke-width="0.9"/>
<text x="364.2" y="85.6" font-size="7" fill="#1a1a1a" text-anchor="end" transform="rotate(-45 364.2 85.6) translate(364.2 85.6) scale(1.2 1) translate(-364.2 -85.6)" stroke="#1a1a1a" stroke-width="0.15">100K</text>
<line x1="373" y1="76.4" x2="373" y2="79.4" stroke="#111" stroke-width="0.9"/>
<text x="375.8" y="85.6" font-size="7" fill="#1a1a1a" text-anchor="end" transform="rotate(-45 375.8 85.6) translate(375.8 85.6) scale(1.2 1) translate(-375.8 -85.6)" stroke="#1a1a1a" stroke-width="0.15">150K</text>
<line x1="384.6" y1="76.4" x2="384.6" y2="79.4" stroke="#111" stroke-width="0.9"/>
<text x="387.4" y="85.6" font-size="7" fill="#1a1a1a" text-anchor="end" transform="rotate(-45 387.4 85.6) translate(387.4 85.6) scale(1.21 1) translate(-387.4 -85.6)" stroke="#1a1a1a" stroke-width="0.15">200K</text>
<line x1="396.2" y1="76.4" x2="396.2" y2="79.4" stroke="#111" stroke-width="0.9"/>
<text x="399" y="85.6" font-size="7" fill="#1a1a1a" text-anchor="end" transform="rotate(-45 399 85.6) translate(399 85.6) scale(1.21 1) translate(-399 -85.6)" stroke="#1a1a1a" stroke-width="0.15">250K</text>
<line x1="338.2" y1="76.4" x2="338.2" y2="78.1" stroke="#111" stroke-width="0.6"/>
<line x1="340.52" y1="76.4" x2="340.52" y2="78.1" stroke="#111" stroke-width="0.6"/>
<line x1="342.84" y1="76.4" x2="342.84" y2="78.1" stroke="#111" stroke-width="0.6"/>
<line x1="345.16" y1="76.4" x2="345.16" y2="78.1" stroke="#111" stroke-width="0.6"/>
<line x1="347.48" y1="76.4" x2="347.48" y2="78.1" stroke="#111" stroke-width="0.6"/>
<line x1="349.8" y1="76.4" x2="349.8" y2="78.1" stroke="#111" stroke-width="0.6"/>
<line x1="352.12" y1="76.4" x2="352.12" y2="78.1" stroke="#111" stroke-width="0.6"/>
<line x1="354.44" y1="76.4" x2="354.44" y2="78.1" stroke="#111" stroke-width="0.6"/>
<line x1="356.76" y1="76.4" x2="356.76" y2="78.1" stroke="#111" stroke-width="0.6"/>
<line x1="359.08" y1="76.4" x2="359.08" y2="78.1" stroke="#111" stroke-width="0.6"/>
<line x1="361.4" y1="76.4" x2="361.4" y2="78.1" stroke="#111" stroke-width="0.6"/>
<line x1="363.72" y1="76.4" x2="363.72" y2="78.1" stroke="#111" stroke-width="0.6"/>
<line x1="366.04" y1="76.4" x2="366.04" y2="78.1" stroke="#111" stroke-width="0.6"/>
<line x1="368.36" y1="76.4" x2="368.36" y2="78.1" stroke="#111" stroke-width="0.6"/>
<line x1="370.68" y1="76.4" x2="370.68" y2="78.1" stroke="#111" stroke-width="0.6"/>
<line x1="373" y1="76.4" x2="373" y2="78.1" stroke="#111" stroke-width="0.6"/>
<line x1="375.32" y1="76.4" x2="375.32" y2="78.1" stroke="#111" stroke-width="0.6"/>
<line x1="377.64" y1="76.4" x2="377.64" y2="78.1" stroke="#111" stroke-width="0.6"/>
<line x1="379.96" y1="76.4" x2="379.96" y2="78.1" stroke="#111" stroke-width="0.6"/>
<line x1="382.28" y1="76.4" x2="382.28" y2="78.1" stroke="#111" stroke-width="0.6"/>
<line x1="384.6" y1="76.4" x2="384.6" y2="78.1" stroke="#111" stroke-width="0.6"/>
<line x1="386.92" y1="76.4" x2="386.92" y2="78.1" stroke="#111" stroke-width="0.6"/>
<line x1="389.24" y1="76.4" x2="389.24" y2="78.1" stroke="#111" stroke-width="0.6"/>
<line x1="391.56" y1="76.4" x2="391.56" y2="78.1" stroke="#111" stroke-width="0.6"/>
<line x1="393.88" y1="76.4" x2="393.88" y2="78.1" stroke="#111" stroke-width="0.6"/>
<line x1="396.2" y1="76.4" x2="396.2" y2="78.1" stroke="#111" stroke-width="0.6"/>
<line x1="398.52" y1="76.4" x2="398.52" y2="78.1" stroke="#111" stroke-width="0.6"/>
<path d="M372.6 54.8h0.8M387.2 37.3h0.8M369.4 64.7h0.8M363.0 69.4h0.8M364.8 66.2h0.8M391.4 55.8h0.8M357.2 67.3h0.8M379.2 54.8h0.8M366.8 69.4h0.8M374.4 58.8h0.8M367.7 61.3h0.8M365.2 57.5h0.8M359.1 62.9h0.8M375.3 68.4h0.8M384.6 59.9h0.8M368.2 58.9h0.8M367.7 63.5h0.8M369.3 63.0h0.8M371.3 62.2h0.8M376.7 57.5h0.8M352.5 74.1h0.8M355.0 70.9h0.8M361.7 62.6h0.8M376.0 57.5h0.8M377.6 64.6h0.8M369.6 54.9h0.8M370.2 57.8h0.8M383.9 59.2h0.8M376.2 59.2h0.8M357.9 68.6h0.8M384.2 41.8h0.8M382.3 48.3h0.8M379.4 50.3h0.8M380.9 55.7h0.8M361.6 69.6h0.8M380.2 58.0h0.8M385.0 43.9h0.8M384.7 42.0h0.8M366.1 56.3h0.8M376.1 55.5h0.8M366.4 58.8h0.8M381.6 54.4h0.8M358.2 63.1h0.8M362.5 67.6h0.8M359.2 53.1h0.8M365.6 65.9h0.8M358.5 75.6h0.8M374.2 55.3h0.8M372.3 66.6h0.8M380.7 56.4h0.8M375.2 54.2h0.8M371.8 67.0h0.8M388.2 54.4h0.8M364.8 70.6h0.8M356.3 68.3h0.8M360.6 64.2h0.8M359.5 70.7h0.8M368.8 57.2h0.8M375.3 63.9h0.8M366.7 72.7h0.8M375.2 62.7h0.8M371.6 62.3h0.8M365.6 69.0h0.8M363.5 74.8h0.8M368.5 68.1h0.8M355.4 67.6h0.8M356.0 58.0h0.8M368.6 63.2h0.8M375.4 60.6h0.8M389.3 42.1h0.8M387.1 49.5h0.8M356.6 74.8h0.8M364.5 60.9h0.8M373.7 53.3h0.8M383.2 46.8h0.8M356.7 70.4h0.8M374.4 64.7h0.8M376.2 47.2h0.8M366.1 65.6h0.8M377.6 51.9h0.8M368.0 54.6h0.8M364.2 64.5h0.8M380.3 52.3h0.8M358.5 67.2h0.8M360.9 62.1h0.8M377.6 66.6h0.8M385.6 59.4h0.8M368.9 58.4h0.8M370.7 60.6h0.8M377.1 51.6h0.8M363.1 69.3h0.8M373.0 55.1h0.8M387.7 55.6h0.8M385.9 60.9h0.8M359.9 70.5h0.8M359.1 58.5h0.8M377.0 56.2h0.8M394.9 66.7h0.8M360.0 61.8h0.8M371.1 59.4h0.8M393.4 51.9h0.8M377.4 53.7h0.8M367.3 66.9h0.8M383.0 57.0h0.8M386.9 53.2h0.8M354.8 74.3h0.8M369.4 48.9h0.8M362.3 63.5h0.8M368.6 59.4h0.8M387.3 45.1h0.8M378.6 65.2h0.8M362.0 65.1h0.8M371.0 66.2h0.8M354.9 66.7h0.8M373.0 62.7h0.8M375.2 65.6h0.8M366.8 71.5h0.8M380.1 48.5h0.8M392.5 54.4h0.8M382.8 46.4h0.8M358.3 64.4h0.8M375.2 68.5h0.8M355.7 59.6h0.8M389.0 50.5h0.8M351.2 70.6h0.8M359.7 54.5h0.8M386.7 54.9h0.8M361.9 70.5h0.8M377.5 69.2h0.8M364.3 54.2h0.8M376.0 61.0h0.8M364.7 73.5h0.8M370.7 54.9h0.8M369.9 56.0h0.8M383.3 58.8h0.8M352.7 72.5h0.8M376.4 60.9h0.8M373.9 51.0h0.8M360.1 62.2h0.8M360.1 68.6h0.8M368.7 59.8h0.8M378.9 56.4h0.8M369.0 66.0h0.8M381.1 54.6h0.8M357.5 71.6h0.8M379.8 48.5h0.8M377.0 68.2h0.8M370.5 51.2h0.8M378.9 60.5h0.8M386.4 43.6h0.8M372.7 57.0h0.8M353.0 70.7h0.8M371.1 50.9h0.8M372.1 63.0h0.8M384.4 46.6h0.8M392.5 61.1h0.8M358.1 71.3h0.8M359.5 71.7h0.8M360.5 72.3h0.8M360.3 66.8h0.8M361.4 60.9h0.8M380.7 52.2h0.8M375.4 57.0h0.8M352.2 72.5h0.8M363.2 61.9h0.8M384.8 49.0h0.8M386.3 45.1h0.8M363.7 61.3h0.8M379.3 61.9h0.8M372.6 68.9h0.8M376.4 47.7h0.8M365.6 69.1h0.8M364.8 67.0h0.8M388.3 49.1h0.8M386.7 54.4h0.8M377.0 55.4h0.8M368.5 62.5h0.8M384.9 51.1h0.8M368.8 66.2h0.8M387.3 52.7h0.8M368.0 60.0h0.8M375.8 49.6h0.8M361.5 60.0h0.8M367.8 56.6h0.8M387.1 60.4h0.8M376.1 65.1h0.8M362.5 55.3h0.8M381.5 64.4h0.8M379.7 56.2h0.8M366.7 61.7h0.8M377.1 54.4h0.8M383.2 42.7h0.8M376.4 62.6h0.8M380.9 56.3h0.8M374.3 59.6h0.8M363.4 61.0h0.8M368.1 66.9h0.8M368.6 63.2h0.8M374.4 61.6h0.8M369.9 60.0h0.8M372.3 66.9h0.8M391.0 40.7h0.8M369.4 58.1h0.8M365.1 65.1h0.8M382.5 51.2h0.8M362.4 58.0h0.8M364.7 66.5h0.8M379.8 69.2h0.8M360.4 73.4h0.8M376.2 54.8h0.8M368.0 62.3h0.8M365.5 66.0h0.8M378.3 49.5h0.8M368.0 74.5h0.8M363.1 66.0h0.8M396.3 42.8h0.8M381.6 55.3h0.8M363.4 67.2h0.8M391.8 47.7h0.8M384.2 47.8h0.8M360.7 62.5h0.8M353.6 68.2h0.8M371.1 51.3h0.8M364.8 67.0h0.8M366.2 65.2h0.8M358.6 64.7h0.8M377.1 64.3h0.8M366.0 71.4h0.8M364.1 60.5h0.8M371.6 60.8h0.8M362.3 68.4h0.8M353.8 73.2h0.8M370.8 61.4h0.8M361.0 71.7h0.8M378.4 58.8h0.8M381.2 49.3h0.8M385.0 56.5h0.8M383.4 64.9h0.8M390.0 36.2h0.8M360.9 66.4h0.8M373.7 70.3h0.8M376.9 60.8h0.8M377.3 46.0h0.8M361.8 55.5h0.8M356.4 71.0h0.8M354.8 64.7h0.8M377.3 49.8h0.8M387.7 49.9h0.8M362.1 68.9h0.8M358.0 73.3h0.8M367.1 59.0h0.8M381.4 65.5h0.8M383.5 63.2h0.8M379.0 64.4h0.8M371.3 62.0h0.8M369.2 68.7h0.8M375.7 70.5h0.8M363.9 71.7h0.8M359.6 70.0h0.8M376.6 53.9h0.8M356.4 59.4h0.8M373.3 65.7h0.8M352.0 73.1h0.8M369.8 56.5h0.8M359.6 73.4h0.8M374.5 66.4h0.8M370.1 65.0h0.8M381.7 57.4h0.8M383.8 48.5h0.8M363.6 74.3h0.8M365.0 53.4h0.8M383.3 51.8h0.8M388.2 62.7h0.8M382.6 62.8h0.8M359.5 54.8h0.8M391.3 45.8h0.8M377.1 63.4h0.8M383.3 60.0h0.8M364.7 53.3h0.8M356.7 64.5h0.8M377.1 60.4h0.8M368.6 65.3h0.8M364.4 60.7h0.8M365.9 74.8h0.8M360.8 70.5h0.8M373.4 54.4h0.8M389.1 54.2h0.8M374.0 56.6h0.8M368.3 63.4h0.8M371.6 71.0h0.8M381.2 52.6h0.8M361.8 55.1h0.8M369.7 70.0h0.8M359.2 70.2h0.8M369.1 63.4h0.8M368.2 57.7h0.8M368.0 60.3h0.8M387.7 43.5h0.8M389.1 50.6h0.8M367.8 58.7h0.8M373.0 63.6h0.8M370.1 70.3h0.8M396.6 37.3h0.8M363.9 67.9h0.8M379.1 41.8h0.8M376.6 55.1h0.8M387.3 62.8h0.8M363.8 60.2h0.8M387.3 53.1h0.8M364.6 63.8h0.8M375.3 71.1h0.8M375.9 61.9h0.8M379.6 54.9h0.8M358.9 68.3h0.8M364.8 58.9h0.8M377.2 52.2h0.8M361.7 71.1h0.8M353.5 70.0h0.8M364.2 65.8h0.8M391.1 41.5h0.8M357.1 75.8h0.8M374.1 59.5h0.8M360.6 61.5h0.8M372.5 62.2h0.8M367.8 75.7h0.8M373.8 65.4h0.8M366.1 59.9h0.8M390.1 53.3h0.8M375.6 58.6h0.8M383.7 35.9h0.8M370.5 60.7h0.8M364.5 67.5h0.8M369.7 56.2h0.8M394.6 52.1h0.8M372.6 63.0h0.8M386.9 56.5h0.8M360.7 68.5h0.8M380.4 70.9h0.8M383.4 61.2h0.8M371.7 71.0h0.8M392.2 45.6h0.8M365.3 67.6h0.8M355.7 69.4h0.8M356.7 75.0h0.8M383.5 48.8h0.8M378.4 52.9h0.8M383.0 56.7h0.8M365.7 70.0h0.8M395.7 43.4h0.8M369.3 56.4h0.8M372.2 58.6h0.8M375.9 56.0h0.8M361.2 61.8h0.8M370.6 66.3h0.8M370.5 58.1h0.8M378.5 65.9h0.8M367.7 70.3h0.8M387.4 51.5h0.8M358.5 65.9h0.8M369.7 64.1h0.8M352.2 66.8h0.8M379.9 48.3h0.8M390.8 48.4h0.8M368.6 70.0h0.8M386.9 45.2h0.8M379.5 55.4h0.8M370.1 53.0h0.8M382.2 72.4h0.8M369.7 67.0h0.8M373.9 72.6h0.8M355.8 66.5h0.8M359.3 58.5h0.8M361.0 58.7h0.8M393.9 51.6h0.8M382.2 54.6h0.8M363.3 72.1h0.8M357.0 67.0h0.8M373.5 52.6h0.8M360.6 72.7h0.8M384.4 53.2h0.8M365.1 59.4h0.8M388.1 61.2h0.8M364.6 65.7h0.8M364.1 57.3h0.8" stroke="#7c84d0" stroke-opacity="0.38" stroke-width="0.8" fill="none"/>
<path d="M354.1 73.0h0.8M367.9 67.4h0.8M357.7 71.5h0.8M350.2 70.0h0.8M354.2 74.5h0.8M377.7 68.0h0.8M363.5 69.6h0.8M353.7 74.5h0.8M361.6 65.4h0.8M365.3 71.4h0.8M367.5 69.7h0.8M352.9 75.6h0.8M362.9 76.2h0.8M350.7 73.7h0.8M362.2 75.7h0.8M356.4 73.5h0.8M363.2 68.1h0.8M364.8 68.8h0.8M356.3 70.9h0.8M364.8 66.4h0.8M362.4 71.6h0.8M357.4 74.7h0.8M374.7 66.3h0.8M364.7 67.5h0.8M364.3 69.5h0.8M354.5 70.3h0.8M352.8 75.1h0.8M362.4 73.1h0.8M356.3 75.1h0.8M358.6 72.7h0.8M363.6 66.0h0.8M358.2 74.2h0.8M367.9 67.7h0.8M364.1 68.1h0.8M363.1 75.0h0.8M360.0 72.2h0.8M358.4 72.2h0.8M370.0 68.6h0.8M363.7 74.4h0.8M360.9 71.2h0.8M368.2 66.5h0.8M367.9 65.2h0.8M348.6 71.8h0.8M365.5 67.1h0.8M360.8 68.8h0.8M365.7 73.5h0.8M357.3 71.8h0.8M358.7 69.0h0.8M384.5 65.3h0.8M366.2 66.7h0.8M354.9 76.1h0.8M353.7 71.1h0.8M362.0 71.2h0.8M368.4 66.0h0.8M365.5 69.2h0.8M348.9 75.8h0.8M358.2 67.4h0.8M342.7 74.7h0.8M343.8 73.7h0.8M349.6 71.1h0.8M356.1 68.2h0.8M358.6 72.4h0.8M359.1 72.5h0.8M359.6 72.7h0.8M359.0 68.8h0.8M357.9 67.6h0.8M351.1 69.2h0.8M349.8 70.5h0.8M355.2 69.1h0.8M353.1 74.4h0.8M360.8 74.7h0.8M348.9 75.6h0.8M359.4 68.6h0.8M366.2 72.4h0.8M368.9 70.0h0.8M363.7 68.0h0.8M351.6 71.1h0.8M356.4 68.9h0.8M361.2 71.6h0.8M365.9 67.4h0.8M365.2 69.2h0.8M358.7 66.4h0.8M362.0 67.2h0.8M365.7 72.5h0.8M355.1 71.2h0.8M369.8 69.8h0.8M356.6 74.0h0.8M359.5 65.3h0.8M365.0 74.3h0.8M354.9 68.1h0.8M364.5 75.4h0.8M358.0 72.6h0.8M364.0 69.1h0.8M360.5 73.4h0.8M366.1 68.3h0.8M362.4 67.8h0.8M356.4 75.3h0.8M350.6 74.6h0.8M374.2 68.5h0.8M355.1 72.5h0.8M357.3 73.3h0.8M361.7 70.4h0.8M345.9 72.9h0.8M346.5 74.8h0.8M347.7 75.4h0.8M347.4 75.2h0.8M355.2 70.5h0.8M362.1 75.3h0.8M361.3 74.8h0.8M361.1 74.3h0.8M357.0 71.4h0.8M368.4 73.0h0.8M355.3 69.6h0.8M371.0 63.5h0.8M365.2 68.1h0.8M372.3 66.5h0.8M349.2 76.1h0.8M361.1 71.4h0.8M358.2 70.1h0.8M356.0 71.9h0.8M352.5 76.2h0.8M360.4 70.5h0.8M350.7 72.5h0.8M357.1 74.4h0.8M366.5 70.5h0.8M348.2 74.1h0.8M368.3 71.1h0.8M362.0 71.6h0.8M359.8 70.6h0.8M361.8 66.7h0.8M361.0 66.9h0.8M372.7 68.1h0.8M358.2 70.5h0.8M359.0 67.7h0.8M354.6 69.9h0.8M354.3 70.3h0.8M354.8 69.2h0.8M363.2 67.1h0.8M346.2 75.5h0.8M354.5 69.7h0.8M358.3 71.3h0.8M360.8 71.0h0.8M366.2 73.1h0.8M361.7 71.5h0.8M357.7 66.9h0.8M357.2 73.0h0.8M376.3 64.6h0.8M357.4 74.5h0.8M354.5 72.2h0.8M354.3 65.5h0.8M372.3 63.7h0.8M359.7 73.8h0.8M359.1 74.9h0.8M352.8 75.9h0.8M343.8 72.2h0.8M359.3 74.1h0.8M353.1 73.5h0.8M362.5 68.6h0.8M361.7 72.2h0.8M358.4 70.6h0.8M364.0 70.1h0.8M362.7 66.0h0.8M369.1 65.5h0.8M358.2 72.3h0.8M359.8 73.0h0.8M368.3 65.9h0.8M364.6 70.8h0.8M356.6 68.6h0.8M355.7 74.8h0.8M344.9 74.1h0.8M357.8 68.8h0.8M366.1 61.5h0.8M359.9 73.1h0.8M356.5 69.5h0.8M356.0 66.6h0.8M345.6 73.4h0.8M349.6 70.9h0.8M366.3 70.1h0.8M364.6 64.2h0.8M365.5 70.1h0.8M375.2 73.0h0.8M372.9 68.5h0.8M352.7 72.4h0.8M359.2 69.0h0.8M358.0 69.9h0.8M364.7 69.6h0.8M367.3 65.7h0.8M342.1 71.5h0.8M356.5 74.0h0.8M355.1 76.0h0.8M369.4 69.1h0.8M358.0 69.8h0.8M353.2 71.7h0.8M360.4 65.8h0.8M355.9 68.8h0.8M352.2 70.1h0.8M361.6 68.1h0.8M357.2 68.0h0.8M358.3 71.7h0.8M363.1 71.0h0.8M354.8 73.4h0.8M364.2 72.4h0.8M353.2 73.9h0.8M364.6 67.9h0.8M363.0 66.1h0.8M359.2 68.4h0.8M364.6 69.5h0.8M360.6 72.0h0.8M347.2 74.8h0.8M368.0 70.2h0.8M369.8 66.7h0.8M366.6 73.6h0.8M361.3 75.1h0.8M358.7 74.5h0.8M363.2 69.4h0.8M350.5 73.1h0.8M365.3 69.6h0.8M347.8 72.5h0.8M356.9 69.1h0.8M362.2 67.3h0.8M364.4 66.5h0.8M354.3 72.0h0.8M357.9 67.7h0.8M350.4 66.6h0.8M365.4 70.0h0.8M356.7 74.0h0.8M364.2 65.3h0.8M363.4 70.9h0.8M355.3 68.5h0.8M361.4 69.0h0.8M351.2 73.3h0.8M357.5 68.3h0.8M357.3 68.8h0.8M360.5 74.6h0.8M351.5 72.2h0.8M376.6 67.8h0.8M366.9 72.4h0.8M351.0 72.1h0.8M370.4 62.8h0.8M359.8 70.0h0.8M356.3 73.0h0.8M358.4 73.9h0.8M358.0 75.2h0.8M364.2 67.2h0.8M358.4 71.6h0.8M363.1 68.0h0.8M352.6 74.7h0.8M350.1 71.4h0.8M358.9 68.9h0.8M342.7 74.6h0.8M356.4 71.4h0.8M359.7 67.6h0.8M368.5 69.2h0.8M353.6 73.3h0.8M351.4 68.4h0.8M365.3 69.8h0.8M357.8 74.0h0.8M359.2 68.4h0.8M353.7 72.6h0.8M373.8 65.6h0.8M353.6 70.2h0.8M354.5 65.8h0.8M360.0 66.1h0.8M353.8 71.9h0.8M356.6 73.0h0.8M362.3 70.8h0.8M361.2 73.6h0.8M366.1 65.3h0.8M370.0 65.6h0.8M359.5 68.8h0.8M361.4 70.3h0.8M366.7 73.0h0.8M346.3 73.1h0.8M357.2 68.8h0.8M353.3 71.3h0.8M350.7 74.1h0.8M353.4 70.7h0.8M354.9 73.1h0.8M360.5 70.5h0.8M358.9 73.0h0.8M367.7 65.8h0.8M355.1 75.2h0.8M368.5 63.8h0.8M358.9 69.8h0.8M358.2 73.6h0.8M373.1 68.3h0.8M347.6 72.7h0.8M364.4 66.1h0.8M356.6 70.3h0.8M346.9 76.2h0.8M353.8 70.9h0.8M363.4 69.9h0.8M355.0 75.5h0.8M362.7 68.1h0.8M361.8 71.1h0.8M361.1 70.6h0.8M367.3 69.8h0.8M360.6 69.6h0.8M367.3 72.4h0.8M347.8 75.9h0.8M358.5 71.4h0.8M365.0 71.4h0.8M370.5 66.2h0.8M362.4 68.6h0.8M363.3 74.0h0.8M371.5 70.0h0.8M354.9 70.1h0.8M365.4 65.1h0.8M363.1 72.5h0.8M353.7 75.5h0.8M354.6 75.8h0.8M353.3 70.3h0.8M361.9 72.3h0.8M373.5 63.2h0.8M360.8 69.1h0.8M354.1 65.4h0.8M361.8 70.3h0.8M359.9 73.8h0.8M347.8 70.0h0.8M359.9 73.6h0.8M358.0 72.7h0.8M359.5 73.5h0.8M364.5 66.6h0.8M349.7 74.9h0.8M360.6 65.2h0.8M357.7 72.2h0.8M363.8 70.2h0.8M367.5 66.7h0.8M355.5 73.0h0.8M360.1 68.2h0.8M361.3 72.0h0.8M359.0 70.7h0.8M356.9 70.9h0.8M351.2 72.6h0.8M359.9 68.3h0.8M348.3 75.8h0.8M361.7 71.3h0.8M364.3 71.7h0.8M362.2 68.2h0.8M358.8 65.6h0.8M363.4 69.9h0.8M353.9 73.3h0.8M360.6 71.8h0.8M367.7 70.8h0.8M363.8 72.5h0.8M370.7 66.2h0.8M351.9 70.8h0.8M358.6 72.9h0.8M359.1 68.7h0.8M365.7 64.3h0.8M355.0 74.5h0.8M354.1 68.2h0.8M359.2 71.8h0.8M352.6 71.4h0.8M341.1 73.2h0.8M352.6 71.4h0.8M356.5 67.9h0.8M363.2 74.2h0.8M364.9 69.3h0.8M364.3 69.6h0.8M359.9 69.0h0.8M361.5 69.1h0.8M360.8 71.1h0.8M362.0 75.8h0.8M359.7 72.6h0.8M373.1 72.5h0.8M364.0 76.2h0.8M353.9 68.0h0.8M357.3 71.5h0.8M355.4 72.8h0.8M366.8 72.3h0.8M344.9 76.1h0.8M363.6 71.0h0.8M363.4 69.4h0.8M366.1 70.0h0.8M366.1 70.8h0.8M371.3 71.4h0.8M364.5 72.4h0.8M353.7 68.3h0.8M370.0 71.0h0.8M353.9 74.2h0.8M358.4 73.0h0.8M365.4 65.8h0.8M357.4 66.8h0.8M358.0 74.0h0.8M363.6 70.2h0.8M348.6 72.5h0.8M366.1 68.4h0.8M362.5 71.3h0.8M358.9 68.7h0.8M358.9 70.3h0.8M373.6 65.5h0.8M347.4 71.2h0.8M360.6 73.6h0.8M356.7 72.6h0.8M371.9 66.5h0.8M356.4 75.2h0.8M351.6 74.8h0.8M368.3 67.0h0.8M363.3 69.3h0.8M351.6 72.9h0.8M350.7 72.5h0.8M349.1 76.1h0.8M359.5 68.5h0.8M362.5 72.5h0.8M352.7 72.7h0.8M351.2 73.3h0.8M362.9 72.7h0.8M357.4 70.6h0.8M370.0 65.6h0.8M348.2 73.7h0.8M367.6 69.2h0.8M363.4 72.5h0.8M361.8 65.9h0.8M355.0 71.6h0.8M366.5 74.6h0.8M360.0 66.5h0.8M357.4 74.6h0.8M345.5 72.0h0.8M363.9 69.2h0.8M353.8 73.2h0.8M365.8 76.2h0.8M352.1 71.4h0.8M368.3 69.4h0.8M353.7 75.1h0.8M353.8 75.0h0.8M358.9 72.7h0.8M366.4 71.4h0.8M366.3 70.3h0.8M359.4 74.0h0.8M362.7 70.5h0.8M357.8 64.7h0.8M361.0 69.4h0.8M363.3 75.4h0.8M357.1 73.9h0.8M359.2 66.8h0.8M361.7 71.3h0.8M356.9 71.5h0.8M361.3 70.8h0.8M364.1 73.5h0.8M361.1 67.7h0.8M360.1 74.0h0.8M370.8 66.8h0.8M356.5 71.1h0.8M367.2 68.6h0.8M354.0 74.2h0.8M361.8 74.5h0.8M354.0 74.5h0.8M371.9 69.5h0.8M353.0 73.0h0.8M360.2 75.3h0.8M364.3 65.1h0.8M366.4 67.0h0.8M346.8 71.4h0.8M360.5 73.7h0.8M354.9 73.3h0.8M353.7 73.2h0.8M358.1 73.0h0.8M370.1 65.0h0.8M357.9 70.4h0.8M368.7 66.3h0.8M365.0 70.7h0.8M365.6 67.0h0.8M368.5 72.1h0.8M359.1 68.3h0.8M358.0 67.6h0.8M353.4 66.6h0.8M358.5 72.1h0.8M350.2 75.9h0.8M356.4 75.1h0.8M363.4 72.2h0.8M357.7 71.2h0.8M366.9 68.8h0.8M351.7 75.7h0.8M361.1 71.6h0.8M353.6 70.9h0.8M365.5 71.8h0.8M367.5 66.5h0.8M359.2 69.8h0.8M363.8 70.2h0.8M368.1 64.7h0.8M353.9 70.1h0.8M361.0 75.4h0.8M373.5 69.7h0.8M362.1 71.9h0.8M357.8 72.6h0.8M359.5 68.3h0.8M358.7 71.9h0.8M364.1 64.5h0.8M369.1 67.3h0.8M366.7 64.1h0.8M362.5 66.8h0.8M363.7 71.1h0.8M370.5 62.2h0.8M355.3 73.7h0.8M362.6 72.3h0.8M366.8 69.3h0.8M357.0 69.3h0.8M348.9 72.4h0.8M365.1 69.9h0.8M358.6 68.8h0.8M360.7 72.5h0.8M356.5 71.6h0.8M357.4 73.4h0.8M355.0 71.6h0.8M368.4 69.8h0.8M366.3 74.6h0.8M371.2 67.2h0.8M357.9 70.7h0.8M370.2 64.3h0.8M361.3 71.5h0.8M355.6 68.9h0.8M355.1 73.9h0.8M358.4 71.3h0.8M357.6 73.9h0.8M354.2 67.9h0.8M356.2 71.2h0.8M363.2 67.9h0.8M350.3 71.4h0.8M357.3 71.6h0.8M351.3 69.4h0.8M364.0 72.5h0.8M360.0 71.7h0.8M360.9 66.4h0.8M359.8 73.2h0.8M362.8 68.7h0.8M364.2 69.4h0.8M354.0 73.2h0.8M351.6 71.7h0.8M357.1 72.2h0.8M359.8 66.6h0.8M353.6 76.2h0.8M360.5 69.2h0.8M363.2 68.7h0.8M360.7 70.9h0.8M357.3 67.1h0.8M355.0 70.9h0.8M359.7 68.3h0.8M360.4 75.0h0.8M370.2 70.4h0.8M359.1 71.4h0.8M365.1 75.5h0.8M358.7 70.1h0.8M355.0 71.3h0.8M371.8 63.8h0.8M361.4 71.4h0.8M356.3 68.3h0.8M356.9 68.4h0.8M357.0 72.9h0.8M364.7 69.1h0.8M360.6 71.3h0.8M370.0 70.3h0.8M358.1 71.7h0.8M354.9 70.8h0.8M355.7 71.4h0.8M354.4 74.5h0.8M357.2 69.2h0.8M363.8 72.2h0.8M358.0 73.7h0.8M370.5 67.3h0.8M354.4 75.5h0.8M364.8 70.8h0.8M352.2 69.3h0.8M346.0 73.5h0.8M354.0 72.9h0.8M368.9 73.4h0.8M356.9 74.0h0.8M358.2 70.3h0.8M351.9 74.2h0.8M366.8 68.0h0.8M355.3 68.6h0.8M351.6 74.4h0.8M364.0 71.6h0.8M345.2 73.1h0.8M363.6 69.1h0.8M355.3 73.6h0.8M371.0 70.0h0.8M356.0 72.7h0.8M354.9 74.8h0.8M357.9 69.7h0.8M355.8 67.1h0.8M367.5 68.5h0.8M356.7 68.9h0.8M354.0 72.8h0.8M353.0 67.5h0.8M357.2 75.7h0.8M359.6 70.8h0.8M352.5 73.0h0.8M354.7 67.5h0.8M348.4 70.9h0.8M354.9 67.6h0.8M372.1 61.3h0.8M355.1 67.4h0.8M363.5 70.9h0.8M353.6 75.7h0.8M355.0 67.7h0.8M343.5 73.6h0.8M356.5 75.9h0.8M351.2 76.2h0.8M367.2 65.8h0.8M362.7 71.8h0.8M351.5 75.1h0.8M362.4 63.8h0.8M368.4 71.0h0.8M350.8 68.1h0.8M358.1 68.6h0.8M357.3 73.1h0.8M361.9 75.1h0.8M362.5 72.2h0.8M355.2 69.9h0.8M362.9 72.6h0.8M358.2 72.6h0.8M358.4 71.5h0.8M354.3 68.2h0.8M364.7 71.9h0.8M356.1 74.1h0.8M355.6 73.6h0.8M373.1 65.1h0.8M363.1 72.7h0.8M347.8 67.3h0.8M356.1 70.6h0.8M353.9 72.6h0.8M358.2 67.1h0.8M358.4 73.0h0.8M349.8 71.1h0.8M361.7 71.0h0.8M361.7 71.3h0.8M358.4 74.1h0.8M344.7 75.4h0.8M359.4 70.8h0.8M353.7 72.1h0.8M360.7 75.4h0.8M360.2 69.9h0.8M360.5 72.4h0.8M357.0 67.1h0.8M350.5 73.1h0.8M359.4 68.6h0.8M367.0 72.7h0.8M367.3 68.6h0.8M373.6 67.9h0.8M359.1 68.9h0.8M342.2 74.0h0.8M342.7 74.6h0.8M338.6 75.5h0.8M342.1 75.9h0.8M345.7 74.6h0.8M344.2 75.8h0.8M342.6 75.8h0.8M339.8 74.3h0.8M342.0 74.7h0.8M342.4 74.8h0.8M341.8 75.5h0.8M339.5 75.5h0.8M340.4 75.9h0.8M341.6 75.7h0.8M339.2 76.2h0.8M339.9 75.4h0.8M339.7 75.3h0.8M341.8 76.4h0.8M339.5 75.9h0.8M340.7 75.0h0.8M339.1 75.8h0.8M338.3 75.8h0.8M342.8 74.8h0.8M339.7 76.0h0.8M341.9 75.0h0.8M339.5 76.3h0.8M342.0 76.1h0.8M342.4 76.0h0.8M338.6 75.2h0.8M339.0 76.0h0.8M342.2 74.7h0.8M338.8 75.7h0.8M339.6 75.0h0.8M339.1 74.9h0.8M339.8 75.3h0.8M338.7 76.4h0.8M343.8 75.5h0.8M341.8 76.3h0.8M338.6 75.4h0.8M342.8 76.0h0.8M340.0 74.6h0.8M338.6 75.3h0.8M342.5 74.8h0.8M342.2 74.7h0.8M339.7 75.1h0.8M343.6 73.9h0.8M345.8 73.9h0.8M338.4 75.6h0.8M341.7 75.2h0.8M340.5 75.9h0.8M340.9 74.6h0.8M341.8 75.5h0.8M344.0 76.4h0.8M339.2 76.0h0.8M339.5 75.9h0.8M340.4 76.2h0.8M342.3 74.1h0.8M340.1 75.2h0.8M338.4 76.4h0.8M340.1 75.0h0.8M340.1 76.2h0.8M342.2 73.5h0.8M338.2 76.2h0.8M344.9 74.6h0.8M343.6 73.8h0.8M338.5 75.4h0.8M340.3 75.7h0.8M345.2 74.8h0.8M338.3 75.8h0.8M344.1 74.8h0.8M341.8 75.4h0.8M340.1 76.2h0.8M339.6 76.4h0.8M342.2 75.5h0.8M343.5 75.0h0.8M340.5 75.3h0.8M343.2 73.9h0.8M342.7 74.1h0.8M342.4 76.1h0.8M339.6 75.7h0.8M338.9 75.5h0.8M339.0 74.9h0.8M342.3 76.2h0.8M339.9 76.1h0.8M344.6 75.3h0.8M343.0 74.4h0.8M343.2 74.9h0.8M340.2 76.1h0.8M338.2 76.3h0.8M341.8 75.8h0.8M339.3 74.6h0.8M338.9 74.6h0.8M339.3 76.4h0.8M341.1 75.0h0.8M342.2 74.9h0.8M339.2 76.3h0.8M340.1 74.6h0.8M342.7 74.6h0.8M338.6 75.3h0.8M339.5 75.4h0.8M341.7 75.2h0.8M340.0 76.3h0.8M339.6 75.6h0.8M340.6 75.8h0.8M338.8 75.9h0.8M342.0 75.1h0.8M344.1 74.7h0.8M341.1 76.1h0.8M344.3 74.1h0.8M339.3 76.3h0.8" stroke="#5f6ec8" stroke-opacity="0.5" stroke-width="0.8" fill="none"/>
<g transform="rotate(-18 353.51 73.49)">
<ellipse cx="356.01" cy="72.99" rx="11.02" ry="3.2" fill="#70a8e0" fill-opacity="0.55" filter="url(#sb)"/>
<ellipse cx="354.01" cy="73.49" rx="7.19" ry="2.2" fill="#50b8b0" fill-opacity="0.8" filter="url(#sb)"/>
<ellipse cx="353.21" cy="73.69" rx="4.87" ry="1.6" fill="#90cc40" fill-opacity="0.95" filter="url(#sb)"/>
<ellipse cx="352.71" cy="73.79" rx="2.32" ry="1.1" fill="#f09020" fill-opacity="0.95" filter="url(#sb)"/>
</g>
<ellipse cx="338.9" cy="76.09" rx="1.8" ry="1.3" fill="#b8c830" fill-opacity="0.9" filter="url(#sb)"/>
<rect x="348.4" y="57" width="27.1" height="18.8" fill="none" stroke="#8a8a8a" stroke-width="0.75"/>
<rect x="357.95" y="61" width="8" height="6.8" fill="#fff" fill-opacity="0.9" stroke="#b0b0b0" stroke-width="0.3"/>
<line x1="358.75" y1="63.2" x2="365.15" y2="63.2" stroke="#777" stroke-width="0.7"/>
<line x1="359.95" y1="66" x2="363.95" y2="66" stroke="#999" stroke-width="0.7"/>
<rect x="337.6" y="21.6" width="62.1" height="54.8" fill="none" stroke="#111" stroke-width="1.2"/>
<line x1="334.6" y1="116.2" x2="337.6" y2="116.2" stroke="#111" stroke-width="0.9"/>
<line x1="334.6" y1="135" x2="337.6" y2="135" stroke="#111" stroke-width="0.9"/>
<line x1="334.6" y1="152.3" x2="337.6" y2="152.3" stroke="#111" stroke-width="0.9"/>
<line x1="334.6" y1="161.7" x2="337.6" y2="161.7" stroke="#111" stroke-width="0.9"/>
<line x1="334.6" y1="172.6" x2="337.6" y2="172.6" stroke="#111" stroke-width="0.9"/>
<text x="333" y="119.1" font-size="8.4" fill="#1a1a1a" text-anchor="end" stroke="#1a1a1a" stroke-width="0.15">10<tspan dy="-3" font-size="6.4">5</tspan></text>
<text x="333" y="137.9" font-size="8.4" fill="#1a1a1a" text-anchor="end" stroke="#1a1a1a" stroke-width="0.15">10<tspan dy="-3" font-size="6.4">4</tspan></text>
<text x="333" y="155.2" font-size="8.4" fill="#1a1a1a" text-anchor="end" stroke="#1a1a1a" stroke-width="0.15">10<tspan dy="-3" font-size="6.4">3</tspan></text>
<text x="332.1" y="164.6" font-size="8.4" fill="#1a1a1a" text-anchor="end" transform="translate(332.1 164.6) scale(1.1 1) translate(-332.1 -164.6)" stroke="#1a1a1a" stroke-width="0.15">0</text>
<text x="333" y="175.5" font-size="8.4" fill="#1a1a1a" text-anchor="end" stroke="#1a1a1a" stroke-width="0.15">-10<tspan dy="-3" font-size="6.4">3</tspan></text>
<line x1="335.9" y1="129.34" x2="337.6" y2="129.34" stroke="#111" stroke-width="0.6"/>
<line x1="335.9" y1="126.03" x2="337.6" y2="126.03" stroke="#111" stroke-width="0.6"/>
<line x1="335.9" y1="123.68" x2="337.6" y2="123.68" stroke="#111" stroke-width="0.6"/>
<line x1="335.9" y1="121.86" x2="337.6" y2="121.86" stroke="#111" stroke-width="0.6"/>
<line x1="335.9" y1="120.37" x2="337.6" y2="120.37" stroke="#111" stroke-width="0.6"/>
<line x1="335.9" y1="119.11" x2="337.6" y2="119.11" stroke="#111" stroke-width="0.6"/>
<line x1="335.9" y1="118.02" x2="337.6" y2="118.02" stroke="#111" stroke-width="0.6"/>
<line x1="335.9" y1="117.06" x2="337.6" y2="117.06" stroke="#111" stroke-width="0.6"/>
<line x1="335.9" y1="147.09" x2="337.6" y2="147.09" stroke="#111" stroke-width="0.6"/>
<line x1="335.9" y1="144.05" x2="337.6" y2="144.05" stroke="#111" stroke-width="0.6"/>
<line x1="335.9" y1="141.88" x2="337.6" y2="141.88" stroke="#111" stroke-width="0.6"/>
<line x1="335.9" y1="140.21" x2="337.6" y2="140.21" stroke="#111" stroke-width="0.6"/>
<line x1="335.9" y1="138.84" x2="337.6" y2="138.84" stroke="#111" stroke-width="0.6"/>
<line x1="335.9" y1="137.68" x2="337.6" y2="137.68" stroke="#111" stroke-width="0.6"/>
<line x1="335.9" y1="136.68" x2="337.6" y2="136.68" stroke="#111" stroke-width="0.6"/>
<line x1="335.9" y1="135.79" x2="337.6" y2="135.79" stroke="#111" stroke-width="0.6"/>
<line x1="335.9" y1="155.4" x2="337.6" y2="155.4" stroke="#111" stroke-width="0.6"/>
<line x1="335.9" y1="165.3" x2="337.6" y2="165.3" stroke="#111" stroke-width="0.6"/>
<line x1="335.9" y1="158.5" x2="337.6" y2="158.5" stroke="#111" stroke-width="0.6"/>
<line x1="335.9" y1="168.89" x2="337.6" y2="168.89" stroke="#111" stroke-width="0.6"/>
<rect x="335.2" y="159.9" width="2.4" height="3.6" fill="#111"/>
<line x1="338.2" y1="176.3" x2="338.2" y2="179.3" stroke="#111" stroke-width="0.9"/>
<text x="341" y="185.5" font-size="7" fill="#1a1a1a" text-anchor="end" transform="rotate(-45 341 185.5) translate(341 185.5) scale(1.08 1) translate(-341 -185.5)" stroke="#1a1a1a" stroke-width="0.15">0</text>
<line x1="349.8" y1="176.3" x2="349.8" y2="179.3" stroke="#111" stroke-width="0.9"/>
<text x="352.6" y="185.5" font-size="7" fill="#1a1a1a" text-anchor="end" transform="rotate(-45 352.6 185.5) translate(352.6 185.5) scale(1.2 1) translate(-352.6 -185.5)" stroke="#1a1a1a" stroke-width="0.15">50K</text>
<line x1="361.4" y1="176.3" x2="361.4" y2="179.3" stroke="#111" stroke-width="0.9"/>
<text x="364.2" y="185.5" font-size="7" fill="#1a1a1a" text-anchor="end" transform="rotate(-45 364.2 185.5) translate(364.2 185.5) scale(1.2 1) translate(-364.2 -185.5)" stroke="#1a1a1a" stroke-width="0.15">100K</text>
<line x1="373" y1="176.3" x2="373" y2="179.3" stroke="#111" stroke-width="0.9"/>
<text x="375.8" y="185.5" font-size="7" fill="#1a1a1a" text-anchor="end" transform="rotate(-45 375.8 185.5) translate(375.8 185.5) scale(1.2 1) translate(-375.8 -185.5)" stroke="#1a1a1a" stroke-width="0.15">150K</text>
<line x1="384.6" y1="176.3" x2="384.6" y2="179.3" stroke="#111" stroke-width="0.9"/>
<text x="387.4" y="185.5" font-size="7" fill="#1a1a1a" text-anchor="end" transform="rotate(-45 387.4 185.5) translate(387.4 185.5) scale(1.21 1) translate(-387.4 -185.5)" stroke="#1a1a1a" stroke-width="0.15">200K</text>
<line x1="396.2" y1="176.3" x2="396.2" y2="179.3" stroke="#111" stroke-width="0.9"/>
<text x="399" y="185.5" font-size="7" fill="#1a1a1a" text-anchor="end" transform="rotate(-45 399 185.5) translate(399 185.5) scale(1.21 1) translate(-399 -185.5)" stroke="#1a1a1a" stroke-width="0.15">250K</text>
<line x1="338.2" y1="176.3" x2="338.2" y2="178" stroke="#111" stroke-width="0.6"/>
<line x1="340.52" y1="176.3" x2="340.52" y2="178" stroke="#111" stroke-width="0.6"/>
<line x1="342.84" y1="176.3" x2="342.84" y2="178" stroke="#111" stroke-width="0.6"/>
<line x1="345.16" y1="176.3" x2="345.16" y2="178" stroke="#111" stroke-width="0.6"/>
<line x1="347.48" y1="176.3" x2="347.48" y2="178" stroke="#111" stroke-width="0.6"/>
<line x1="349.8" y1="176.3" x2="349.8" y2="178" stroke="#111" stroke-width="0.6"/>
<line x1="352.12" y1="176.3" x2="352.12" y2="178" stroke="#111" stroke-width="0.6"/>
<line x1="354.44" y1="176.3" x2="354.44" y2="178" stroke="#111" stroke-width="0.6"/>
<line x1="356.76" y1="176.3" x2="356.76" y2="178" stroke="#111" stroke-width="0.6"/>
<line x1="359.08" y1="176.3" x2="359.08" y2="178" stroke="#111" stroke-width="0.6"/>
<line x1="361.4" y1="176.3" x2="361.4" y2="178" stroke="#111" stroke-width="0.6"/>
<line x1="363.72" y1="176.3" x2="363.72" y2="178" stroke="#111" stroke-width="0.6"/>
<line x1="366.04" y1="176.3" x2="366.04" y2="178" stroke="#111" stroke-width="0.6"/>
<line x1="368.36" y1="176.3" x2="368.36" y2="178" stroke="#111" stroke-width="0.6"/>
<line x1="370.68" y1="176.3" x2="370.68" y2="178" stroke="#111" stroke-width="0.6"/>
<line x1="373" y1="176.3" x2="373" y2="178" stroke="#111" stroke-width="0.6"/>
<line x1="375.32" y1="176.3" x2="375.32" y2="178" stroke="#111" stroke-width="0.6"/>
<line x1="377.64" y1="176.3" x2="377.64" y2="178" stroke="#111" stroke-width="0.6"/>
<line x1="379.96" y1="176.3" x2="379.96" y2="178" stroke="#111" stroke-width="0.6"/>
<line x1="382.28" y1="176.3" x2="382.28" y2="178" stroke="#111" stroke-width="0.6"/>
<line x1="384.6" y1="176.3" x2="384.6" y2="178" stroke="#111" stroke-width="0.6"/>
<line x1="386.92" y1="176.3" x2="386.92" y2="178" stroke="#111" stroke-width="0.6"/>
<line x1="389.24" y1="176.3" x2="389.24" y2="178" stroke="#111" stroke-width="0.6"/>
<line x1="391.56" y1="176.3" x2="391.56" y2="178" stroke="#111" stroke-width="0.6"/>
<line x1="393.88" y1="176.3" x2="393.88" y2="178" stroke="#111" stroke-width="0.6"/>
<line x1="396.2" y1="176.3" x2="396.2" y2="178" stroke="#111" stroke-width="0.6"/>
<line x1="398.52" y1="176.3" x2="398.52" y2="178" stroke="#111" stroke-width="0.6"/>
<path d="M349.8 119.5h0.8M367.3 134.4h0.8M372.0 121.4h0.8M362.9 153.4h0.8M354.6 122.6h0.8M348.8 121.9h0.8M362.9 144.8h0.8M356.1 121.1h0.8M372.8 120.4h0.8M359.6 120.4h0.8M374.3 135.7h0.8M356.8 156.4h0.8M369.4 135.1h0.8M362.5 117.9h0.8M362.2 157.9h0.8M361.6 120.9h0.8M372.2 130.3h0.8M374.2 153.8h0.8M372.6 117.7h0.8M371.9 152.0h0.8M367.0 152.2h0.8M369.0 126.2h0.8M364.6 140.6h0.8M349.1 150.0h0.8M363.1 120.0h0.8M356.6 151.3h0.8M371.5 121.1h0.8M367.7 159.5h0.8M367.6 118.6h0.8M366.5 118.4h0.8M350.9 119.2h0.8M370.3 118.2h0.8M354.1 159.2h0.8M356.3 142.3h0.8M360.0 128.9h0.8M356.5 121.6h0.8M349.6 121.0h0.8M375.0 123.1h0.8M354.7 155.0h0.8M373.1 157.3h0.8M368.5 128.9h0.8M357.6 150.3h0.8M367.4 131.4h0.8M368.0 121.6h0.8M365.0 126.0h0.8M358.8 142.4h0.8M348.5 152.0h0.8M358.3 139.6h0.8M371.8 136.4h0.8M371.3 120.8h0.8M372.8 121.9h0.8M368.8 153.6h0.8M368.8 145.0h0.8M367.7 123.3h0.8M375.4 132.8h0.8M374.5 130.6h0.8M349.2 124.2h0.8M358.7 157.4h0.8M371.8 150.3h0.8M354.4 153.2h0.8M349.9 131.6h0.8M348.8 123.8h0.8M353.9 128.2h0.8M362.2 156.4h0.8M348.8 157.6h0.8M359.3 119.3h0.8M361.1 121.6h0.8M371.4 157.0h0.8M361.0 152.7h0.8M365.5 125.7h0.8M352.9 121.8h0.8M357.1 158.7h0.8M361.9 145.3h0.8M375.5 144.1h0.8M369.8 123.0h0.8M366.9 148.6h0.8M373.3 120.1h0.8M365.9 122.8h0.8M349.3 143.0h0.8M369.1 121.5h0.8M369.2 118.7h0.8M350.0 150.0h0.8M366.2 160.1h0.8M375.5 151.4h0.8M363.3 132.4h0.8M374.2 141.8h0.8M363.3 130.8h0.8M369.1 122.9h0.8M358.0 156.1h0.8M350.0 144.4h0.8M355.3 152.4h0.8M359.5 153.9h0.8M349.4 133.7h0.8M363.9 150.4h0.8M368.1 147.1h0.8M364.1 122.4h0.8M373.7 127.2h0.8M361.4 121.8h0.8M371.5 124.0h0.8M349.4 118.5h0.8M361.4 122.1h0.8M357.5 127.0h0.8M361.2 141.1h0.8M355.9 119.8h0.8M373.4 154.0h0.8M369.8 137.6h0.8M369.4 121.2h0.8M357.3 151.1h0.8M367.4 142.4h0.8M367.6 152.8h0.8M355.1 128.1h0.8M355.2 137.5h0.8M360.9 130.7h0.8M351.5 118.3h0.8M351.0 157.8h0.8M370.1 150.5h0.8M362.5 152.9h0.8M362.9 119.6h0.8M370.4 120.3h0.8M365.8 129.6h0.8M360.3 157.8h0.8M356.8 151.7h0.8M357.6 117.8h0.8M367.8 119.4h0.8M352.4 136.5h0.8M348.1 150.9h0.8M351.5 121.9h0.8M356.0 150.4h0.8M348.8 160.5h0.8M370.2 151.6h0.8M359.9 131.2h0.8M368.7 152.0h0.8M355.5 145.6h0.8M372.8 131.1h0.8M358.0 143.4h0.8M371.9 127.1h0.8M372.5 138.3h0.8M373.0 119.0h0.8M367.2 159.7h0.8M349.5 122.8h0.8M350.4 119.2h0.8M359.2 149.8h0.8M367.1 141.6h0.8M368.8 160.4h0.8M349.7 155.8h0.8M356.7 148.3h0.8M350.5 121.9h0.8M349.0 158.2h0.8M361.9 158.6h0.8M365.4 122.7h0.8M365.8 129.0h0.8M352.9 152.9h0.8M365.3 142.5h0.8M371.4 128.4h0.8M349.3 122.5h0.8M360.2 134.3h0.8M365.3 155.7h0.8M367.7 144.8h0.8M353.3 159.5h0.8M349.7 126.1h0.8M355.2 158.5h0.8M374.4 129.5h0.8M360.7 134.5h0.8M368.3 130.8h0.8M348.0 144.4h0.8M350.0 152.3h0.8M374.7 155.0h0.8M366.6 159.8h0.8M354.8 150.9h0.8M370.3 121.4h0.8M350.7 121.4h0.8M360.4 118.5h0.8M354.8 155.0h0.8M366.3 124.3h0.8M354.8 139.3h0.8M366.4 143.3h0.8M363.2 123.6h0.8M366.1 160.7h0.8M360.1 158.4h0.8M364.6 120.1h0.8M356.5 154.6h0.8M361.2 119.1h0.8M347.9 158.2h0.8M372.8 135.0h0.8M354.5 120.6h0.8M360.5 155.7h0.8M371.3 134.2h0.8M368.1 159.0h0.8M370.5 160.4h0.8M348.1 136.2h0.8M352.5 125.8h0.8M351.4 142.6h0.8M349.6 156.6h0.8M372.1 119.4h0.8M350.0 148.7h0.8M361.8 152.0h0.8M373.5 142.2h0.8M370.7 144.5h0.8M363.5 121.9h0.8M351.3 117.8h0.8M354.9 133.5h0.8M365.3 135.7h0.8M349.7 121.8h0.8M353.6 123.4h0.8M362.8 145.7h0.8M356.9 143.8h0.8M372.6 157.1h0.8M363.6 160.0h0.8M365.1 130.9h0.8M361.6 157.1h0.8M361.8 143.6h0.8M353.2 156.7h0.8M359.4 151.2h0.8M360.1 121.1h0.8M374.4 120.1h0.8M368.9 133.6h0.8M358.9 152.6h0.8M370.3 155.2h0.8M357.7 150.8h0.8M372.0 135.3h0.8M359.1 119.3h0.8M367.9 122.0h0.8M354.8 159.8h0.8M358.4 141.7h0.8M361.8 121.8h0.8M358.7 143.9h0.8M358.5 151.5h0.8M363.7 140.4h0.8M353.3 159.1h0.8M357.9 154.6h0.8M375.6 129.2h0.8M349.5 156.6h0.8M356.9 140.0h0.8M348.4 119.6h0.8M373.6 156.3h0.8M372.9 157.5h0.8M349.9 142.3h0.8M369.0 122.6h0.8M352.5 152.3h0.8M352.2 152.0h0.8M368.3 143.3h0.8M350.8 155.1h0.8M358.5 143.1h0.8M373.2 156.6h0.8M364.3 154.9h0.8M368.6 119.8h0.8M367.5 156.8h0.8M353.0 117.8h0.8M359.7 156.0h0.8M365.3 138.8h0.8M366.5 150.0h0.8M375.6 123.0h0.8M360.3 134.8h0.8M352.4 154.5h0.8M371.1 120.0h0.8M364.3 124.9h0.8M353.2 148.8h0.8M359.9 152.3h0.8M356.5 157.3h0.8M367.7 142.3h0.8M375.6 118.4h0.8M356.8 134.2h0.8M375.0 122.2h0.8M362.6 128.2h0.8M371.0 118.6h0.8M373.2 151.7h0.8M349.1 134.6h0.8M365.1 152.2h0.8M371.7 156.0h0.8M355.3 146.8h0.8M354.6 149.1h0.8M348.5 136.0h0.8M371.5 154.2h0.8M353.0 154.9h0.8M362.7 147.4h0.8M365.6 123.8h0.8M351.0 151.3h0.8M365.8 121.0h0.8M371.2 123.9h0.8M371.0 121.7h0.8M353.9 120.1h0.8M348.2 155.6h0.8M366.5 143.0h0.8M349.9 157.9h0.8M348.2 151.6h0.8M348.4 123.2h0.8M350.0 153.1h0.8M358.1 133.6h0.8M367.1 158.2h0.8M370.1 135.1h0.8M370.7 157.7h0.8M371.2 118.7h0.8M366.4 150.3h0.8M351.4 148.1h0.8M363.8 118.6h0.8M371.5 156.2h0.8M368.1 157.6h0.8M373.7 148.7h0.8M360.5 152.5h0.8M358.4 141.9h0.8M372.6 156.2h0.8M374.1 154.9h0.8M348.0 151.6h0.8M354.4 123.0h0.8M367.4 151.8h0.8M369.7 157.4h0.8M366.5 151.0h0.8M371.9 160.3h0.8M354.1 160.4h0.8M356.9 121.5h0.8M369.9 117.7h0.8M362.6 140.6h0.8M371.0 138.7h0.8M352.7 133.3h0.8M366.0 126.6h0.8M361.2 128.4h0.8M364.6 160.4h0.8M352.9 150.5h0.8M373.3 120.8h0.8M348.3 118.7h0.8M374.1 151.2h0.8M368.1 159.7h0.8M352.0 133.9h0.8M365.1 144.6h0.8M370.6 138.3h0.8M369.4 118.8h0.8M371.2 118.6h0.8M359.0 124.7h0.8M368.2 144.6h0.8M359.7 120.0h0.8M359.2 126.1h0.8M359.5 156.1h0.8M367.3 124.0h0.8M363.1 141.3h0.8M354.1 122.7h0.8M372.1 152.2h0.8M365.0 150.6h0.8M373.4 131.6h0.8M366.3 151.1h0.8M358.1 139.1h0.8M373.3 153.9h0.8M361.6 140.1h0.8M350.8 138.7h0.8M351.6 122.1h0.8M368.3 151.2h0.8M359.4 134.7h0.8M348.2 149.7h0.8M351.7 137.7h0.8M352.5 125.5h0.8M363.1 146.3h0.8M354.8 151.2h0.8M364.8 122.8h0.8M368.0 131.6h0.8M357.7 121.7h0.8M363.5 121.9h0.8M357.9 120.8h0.8M350.4 134.1h0.8M357.1 153.5h0.8M369.0 160.5h0.8M371.1 121.6h0.8M348.0 119.2h0.8M369.2 121.2h0.8M359.0 120.6h0.8M370.5 150.5h0.8M372.2 144.9h0.8M362.0 128.8h0.8M372.1 151.0h0.8M361.4 121.0h0.8M348.1 120.8h0.8M359.0 150.4h0.8M364.8 153.1h0.8M355.1 127.7h0.8M353.6 155.5h0.8M359.7 159.9h0.8M355.7 150.4h0.8M371.9 142.6h0.8M363.9 155.2h0.8M366.1 156.3h0.8M351.2 145.2h0.8M371.7 152.1h0.8M368.7 122.3h0.8M373.6 124.0h0.8M369.1 159.0h0.8M357.8 156.7h0.8M365.5 152.6h0.8M360.0 145.0h0.8M368.2 153.3h0.8M349.0 154.5h0.8M363.2 130.6h0.8M351.8 160.3h0.8M369.8 151.0h0.8M352.4 141.8h0.8M351.8 150.9h0.8M348.6 154.9h0.8M361.6 158.8h0.8M374.2 151.8h0.8M364.0 141.2h0.8M370.4 153.2h0.8M359.2 144.1h0.8M351.4 143.5h0.8M358.7 135.4h0.8M351.7 134.3h0.8M368.2 120.1h0.8M351.0 151.2h0.8M353.4 136.9h0.8M360.9 160.2h0.8M374.0 153.1h0.8M361.1 123.3h0.8M371.0 158.1h0.8M351.2 127.9h0.8M351.1 154.6h0.8M373.5 152.4h0.8M369.5 145.5h0.8M354.8 120.3h0.8M354.3 119.4h0.8M356.6 120.6h0.8M360.0 152.2h0.8M358.1 156.2h0.8M374.1 133.9h0.8M375.5 123.3h0.8M349.1 156.8h0.8M354.8 134.3h0.8M368.7 121.3h0.8M350.1 158.7h0.8M351.1 140.2h0.8M353.2 135.4h0.8M354.5 136.9h0.8M357.3 118.7h0.8M372.7 118.0h0.8M362.2 133.5h0.8M355.9 158.5h0.8M370.5 150.7h0.8M368.0 124.0h0.8M362.6 159.6h0.8M375.1 148.7h0.8M349.1 120.7h0.8M360.8 122.4h0.8M358.6 153.3h0.8M353.9 149.9h0.8M358.2 158.9h0.8M367.8 157.8h0.8M353.7 120.4h0.8M371.9 140.1h0.8M364.6 130.6h0.8M365.5 158.7h0.8M369.9 157.4h0.8M349.1 138.1h0.8M363.6 137.7h0.8M353.8 124.1h0.8M370.1 127.7h0.8M371.1 140.0h0.8M362.9 118.1h0.8M359.7 137.6h0.8M372.7 145.6h0.8M363.7 155.3h0.8M366.7 123.2h0.8M372.0 120.2h0.8M368.5 160.7h0.8M357.0 148.8h0.8M372.5 125.7h0.8M367.5 141.9h0.8M358.7 122.2h0.8M370.1 150.7h0.8M359.1 123.8h0.8M368.3 120.0h0.8M370.3 134.6h0.8M349.7 146.4h0.8M356.0 133.8h0.8M358.7 156.0h0.8M361.0 160.4h0.8M369.4 140.5h0.8M366.2 117.9h0.8M365.4 150.5h0.8M358.5 121.7h0.8M352.6 148.4h0.8M365.9 128.9h0.8M359.5 121.1h0.8M353.2 157.8h0.8M352.9 157.6h0.8M368.5 123.8h0.8M356.6 146.4h0.8M369.5 139.7h0.8M360.7 120.1h0.8M373.3 123.1h0.8M350.2 121.0h0.8M351.3 157.6h0.8M353.2 122.0h0.8M372.2 120.1h0.8M362.2 134.6h0.8M369.4 153.6h0.8M362.3 143.0h0.8M353.2 128.1h0.8M367.4 153.7h0.8M348.1 119.8h0.8M369.9 132.3h0.8M371.8 150.0h0.8M365.2 142.0h0.8M356.4 121.0h0.8M348.1 155.6h0.8M350.4 129.4h0.8M365.6 147.3h0.8M370.6 122.3h0.8M366.2 135.9h0.8M360.6 121.9h0.8M350.1 125.7h0.8M352.6 132.9h0.8M372.1 124.8h0.8M367.9 150.6h0.8M353.0 136.0h0.8M351.5 154.4h0.8M369.8 159.6h0.8M362.8 131.0h0.8M365.0 145.2h0.8M371.3 134.4h0.8M367.4 148.5h0.8M362.1 151.1h0.8M372.7 128.0h0.8M352.0 152.6h0.8M361.9 150.6h0.8M356.8 120.7h0.8" stroke="#7c86d0" stroke-opacity="0.4" stroke-width="0.8" fill="none"/>
<path d="M369.9 159.9h0.8M359.3 159.8h0.8M349.3 155.6h0.8M351.4 156.9h0.8M357.9 159.7h0.8M364.3 156.9h0.8M367.8 155.8h0.8M364.6 156.9h0.8M370.0 157.3h0.8M352.1 163.9h0.8M362.0 154.1h0.8M365.1 160.6h0.8M364.1 156.5h0.8M360.4 156.5h0.8M355.9 157.8h0.8M361.2 158.9h0.8M354.4 155.5h0.8M365.9 156.1h0.8M350.1 154.8h0.8M368.0 163.1h0.8M363.3 160.8h0.8M349.5 155.2h0.8M357.0 157.2h0.8M367.1 158.1h0.8M357.0 154.2h0.8M363.6 157.3h0.8M348.9 160.1h0.8M355.3 157.1h0.8M365.7 154.8h0.8M374.7 160.1h0.8M355.2 159.6h0.8M360.1 158.4h0.8M357.1 155.2h0.8M350.9 160.6h0.8M350.2 157.6h0.8M357.5 164.8h0.8M364.3 160.3h0.8M355.6 157.5h0.8M362.6 157.1h0.8M358.3 156.0h0.8M367.6 157.7h0.8M350.7 157.8h0.8M359.1 156.0h0.8M358.8 158.3h0.8M349.1 154.2h0.8M363.0 158.4h0.8M358.6 155.8h0.8M366.8 156.8h0.8M365.9 156.5h0.8M359.2 160.8h0.8M351.3 158.4h0.8M357.3 156.1h0.8M350.2 155.9h0.8M356.6 156.7h0.8M365.4 159.0h0.8M354.2 159.8h0.8M351.4 157.0h0.8M375.4 158.4h0.8M364.7 160.4h0.8M361.6 159.0h0.8M348.9 154.3h0.8M360.6 155.3h0.8M359.9 161.4h0.8M357.2 157.3h0.8M350.8 162.3h0.8M372.4 156.8h0.8M354.5 157.6h0.8M369.3 158.3h0.8M360.2 159.4h0.8M368.7 158.6h0.8M366.6 159.0h0.8M348.9 157.5h0.8M351.5 158.9h0.8M358.3 157.3h0.8M358.8 158.8h0.8M367.9 160.9h0.8M370.8 158.7h0.8M361.1 157.1h0.8M363.3 158.3h0.8M361.4 160.1h0.8M353.4 159.7h0.8M370.4 158.0h0.8M355.4 160.2h0.8M352.2 160.8h0.8M353.3 159.6h0.8M358.3 155.1h0.8M360.8 160.1h0.8M365.4 162.2h0.8M362.7 156.2h0.8M360.7 158.3h0.8M365.0 159.5h0.8M352.0 157.5h0.8M351.9 158.7h0.8M355.1 155.3h0.8M357.5 153.5h0.8M356.2 157.5h0.8M359.5 159.3h0.8M358.4 158.8h0.8M352.0 155.4h0.8M371.9 157.7h0.8M365.6 157.1h0.8M356.4 156.4h0.8M357.4 162.0h0.8M372.2 157.1h0.8M357.1 156.2h0.8M364.2 160.6h0.8M361.2 158.7h0.8M368.2 158.0h0.8M356.5 160.6h0.8M360.0 159.6h0.8M362.5 160.9h0.8M351.1 158.6h0.8M358.0 159.2h0.8M361.4 159.2h0.8M350.3 159.8h0.8M360.3 160.7h0.8M364.0 155.9h0.8M368.7 159.2h0.8M357.3 159.8h0.8M357.6 158.2h0.8M364.5 156.3h0.8M354.4 158.7h0.8M357.4 161.1h0.8M358.2 158.2h0.8M356.1 161.2h0.8M357.6 159.4h0.8M375.7 159.9h0.8M353.2 157.6h0.8M352.4 157.4h0.8M359.7 158.5h0.8M364.5 156.6h0.8M357.6 157.3h0.8M362.9 157.3h0.8M360.5 158.2h0.8M365.9 155.9h0.8M371.9 160.1h0.8M367.1 157.3h0.8M363.9 157.5h0.8M371.6 160.0h0.8M370.7 155.0h0.8M359.4 156.3h0.8M350.8 159.5h0.8M349.7 157.3h0.8M368.2 157.6h0.8M361.2 157.9h0.8M364.6 158.3h0.8M365.9 155.6h0.8M365.8 156.2h0.8M363.0 159.3h0.8M363.6 159.0h0.8M357.1 159.0h0.8M355.9 157.0h0.8M363.2 157.9h0.8M361.3 155.3h0.8M369.7 158.0h0.8M357.8 154.3h0.8M363.0 157.8h0.8M361.4 157.9h0.8M350.3 159.4h0.8M365.1 160.2h0.8M359.9 159.4h0.8M351.3 161.5h0.8M374.1 156.9h0.8M361.7 154.4h0.8M356.7 154.6h0.8M359.2 160.3h0.8M354.5 157.4h0.8M354.5 156.6h0.8M362.1 158.8h0.8M363.9 157.4h0.8M367.8 155.8h0.8M362.2 161.3h0.8M358.8 159.3h0.8M358.4 157.8h0.8M363.4 157.1h0.8M371.8 158.1h0.8M361.2 161.9h0.8M366.8 158.0h0.8M364.7 159.7h0.8M369.4 158.0h0.8M363.7 158.3h0.8M351.0 157.6h0.8M360.9 160.6h0.8M359.4 157.4h0.8M359.9 157.3h0.8M359.8 157.9h0.8M359.9 156.2h0.8M353.2 156.6h0.8M371.8 157.1h0.8M372.5 160.5h0.8M352.1 158.7h0.8M369.5 157.7h0.8M373.3 158.1h0.8M359.2 153.2h0.8M357.7 155.2h0.8M357.0 158.8h0.8M352.6 161.5h0.8M364.2 157.0h0.8M364.2 158.3h0.8M356.1 159.4h0.8M364.9 160.6h0.8M353.2 159.6h0.8M350.5 155.9h0.8M353.3 155.8h0.8M368.0 157.6h0.8M361.7 159.0h0.8M364.3 156.7h0.8M355.2 160.4h0.8M372.2 160.6h0.8M355.4 155.9h0.8M364.4 157.4h0.8M360.6 157.1h0.8M360.1 155.6h0.8M367.6 158.1h0.8M363.4 157.7h0.8M352.4 159.3h0.8M358.1 158.2h0.8M359.9 157.2h0.8M361.7 158.9h0.8M364.3 159.8h0.8M360.0 160.7h0.8M360.7 159.0h0.8M357.1 160.3h0.8M354.2 156.6h0.8M353.9 159.8h0.8M365.6 156.0h0.8M370.1 158.7h0.8M370.4 158.8h0.8M355.1 156.3h0.8M351.8 161.6h0.8M358.8 157.3h0.8M370.3 160.0h0.8M352.5 156.8h0.8M363.8 154.8h0.8M360.1 161.6h0.8M362.8 157.6h0.8M361.9 159.3h0.8M357.1 154.1h0.8M361.2 159.4h0.8M370.3 156.3h0.8M361.6 157.8h0.8M350.5 155.0h0.8M361.2 155.0h0.8M372.7 159.2h0.8M359.4 160.6h0.8M369.7 162.4h0.8M368.0 157.6h0.8M352.3 161.2h0.8M349.6 156.9h0.8M358.8 155.1h0.8M356.4 159.2h0.8M360.1 155.7h0.8M360.9 158.2h0.8M351.0 157.0h0.8M374.8 160.8h0.8M355.0 156.3h0.8M358.6 157.3h0.8M357.4 160.1h0.8M360.7 157.6h0.8M358.8 158.2h0.8M363.2 157.7h0.8M365.7 160.5h0.8M361.5 158.6h0.8M349.3 153.5h0.8M353.7 157.4h0.8M355.6 159.3h0.8M372.8 153.9h0.8M363.1 159.8h0.8M356.1 157.5h0.8M358.0 156.9h0.8M359.1 158.8h0.8M376.4 158.6h0.8M359.5 157.2h0.8M361.9 159.2h0.8M361.9 162.6h0.8M364.6 162.1h0.8M355.8 158.9h0.8M359.7 157.5h0.8M350.4 160.3h0.8M360.7 155.7h0.8M359.8 154.1h0.8M362.1 160.2h0.8M365.0 159.9h0.8M371.3 155.9h0.8M367.3 159.4h0.8M371.1 161.0h0.8M351.6 157.4h0.8M364.3 157.5h0.8M356.3 161.7h0.8M361.8 161.0h0.8M367.9 156.1h0.8M370.7 159.0h0.8M357.2 159.5h0.8M358.7 159.2h0.8M369.3 159.4h0.8M374.9 157.8h0.8M355.1 156.7h0.8M349.8 158.0h0.8M367.6 155.1h0.8M357.6 157.8h0.8M353.5 161.6h0.8M372.6 156.3h0.8M363.4 161.6h0.8M361.6 156.7h0.8M363.7 156.9h0.8M351.9 159.4h0.8M374.5 159.2h0.8M358.3 158.3h0.8M354.7 159.2h0.8M360.2 157.3h0.8M368.1 155.6h0.8M359.0 160.5h0.8M364.2 155.8h0.8M358.7 156.3h0.8M355.5 161.1h0.8M357.0 158.0h0.8M371.8 160.3h0.8M354.7 157.2h0.8M354.1 160.5h0.8M362.5 158.4h0.8M363.4 158.1h0.8M372.3 160.2h0.8M362.0 157.2h0.8M360.5 157.0h0.8M361.8 160.1h0.8M361.9 154.4h0.8M360.2 154.0h0.8M354.5 159.3h0.8M360.9 156.9h0.8M356.5 159.2h0.8" stroke="#5a6cc8" stroke-opacity="0.5" stroke-width="0.8" fill="none"/>
<rect x="347.94" y="158.3" width="16.7" height="3.2" fill="#78b4e4" fill-opacity="0.6" filter="url(#sb)"/>
<rect x="347.94" y="159" width="18.33" height="2.2" fill="url(#pig)" rx="1"/>
<rect x="338.2" y="150.3" width="60.9" height="25.4" fill="none" stroke="#aaa" stroke-width="0.75"/>
<text x="362.56" y="162.9" font-size="2.7" fill="#777">N-Negative</text>
<text x="366.5" y="166.3" font-size="2.7" fill="#777">93.x</text>
<rect x="337.6" y="113" width="62.1" height="63.3" fill="none" stroke="#111" stroke-width="1.2"/>
<text x="474.5" y="16.4" font-size="10.4" fill="#111" text-anchor="middle" stroke="#111" stroke-width="0.15">RPMI</text>
<line x1="440" y1="76.4" x2="443" y2="76.4" stroke="#111" stroke-width="0.9"/>
<text x="437" y="79" font-size="7" fill="#1a1a1a" text-anchor="end" transform="translate(437 79) scale(1.08 1) translate(-437 -79)" stroke="#1a1a1a" stroke-width="0.15">0</text>
<line x1="440" y1="66.02" x2="443" y2="66.02" stroke="#111" stroke-width="0.9"/>
<text x="437" y="68.62" font-size="7" fill="#1a1a1a" text-anchor="end" transform="translate(437 68.62) scale(1.2 1) translate(-437 -68.62)" stroke="#1a1a1a" stroke-width="0.15">50K</text>
<line x1="440" y1="55.64" x2="443" y2="55.64" stroke="#111" stroke-width="0.9"/>
<text x="437" y="58.24" font-size="7" fill="#1a1a1a" text-anchor="end" transform="translate(437 58.24) scale(1.2 1) translate(-437 -58.24)" stroke="#1a1a1a" stroke-width="0.15">100K</text>
<line x1="440" y1="45.26" x2="443" y2="45.26" stroke="#111" stroke-width="0.9"/>
<text x="437" y="47.86" font-size="7" fill="#1a1a1a" text-anchor="end" transform="translate(437 47.86) scale(1.2 1) translate(-437 -47.86)" stroke="#1a1a1a" stroke-width="0.15">150K</text>
<line x1="440" y1="34.88" x2="443" y2="34.88" stroke="#111" stroke-width="0.9"/>
<text x="437" y="37.48" font-size="7" fill="#1a1a1a" text-anchor="end" transform="translate(437 37.48) scale(1.21 1) translate(-437 -37.48)" stroke="#1a1a1a" stroke-width="0.15">200K</text>
<line x1="440" y1="24.5" x2="443" y2="24.5" stroke="#111" stroke-width="0.9"/>
<text x="437" y="27.1" font-size="7" fill="#1a1a1a" text-anchor="end" transform="translate(437 27.1) scale(1.21 1) translate(-437 -27.1)" stroke="#1a1a1a" stroke-width="0.15">250K</text>
<line x1="441.3" y1="76.4" x2="443" y2="76.4" stroke="#111" stroke-width="0.6"/>
<line x1="441.3" y1="74.32" x2="443" y2="74.32" stroke="#111" stroke-width="0.6"/>
<line x1="441.3" y1="72.25" x2="443" y2="72.25" stroke="#111" stroke-width="0.6"/>
<line x1="441.3" y1="70.17" x2="443" y2="70.17" stroke="#111" stroke-width="0.6"/>
<line x1="441.3" y1="68.1" x2="443" y2="68.1" stroke="#111" stroke-width="0.6"/>
<line x1="441.3" y1="66.02" x2="443" y2="66.02" stroke="#111" stroke-width="0.6"/>
<line x1="441.3" y1="63.94" x2="443" y2="63.94" stroke="#111" stroke-width="0.6"/>
<line x1="441.3" y1="61.87" x2="443" y2="61.87" stroke="#111" stroke-width="0.6"/>
<line x1="441.3" y1="59.79" x2="443" y2="59.79" stroke="#111" stroke-width="0.6"/>
<line x1="441.3" y1="57.72" x2="443" y2="57.72" stroke="#111" stroke-width="0.6"/>
<line x1="441.3" y1="55.64" x2="443" y2="55.64" stroke="#111" stroke-width="0.6"/>
<line x1="441.3" y1="53.56" x2="443" y2="53.56" stroke="#111" stroke-width="0.6"/>
<line x1="441.3" y1="51.49" x2="443" y2="51.49" stroke="#111" stroke-width="0.6"/>
<line x1="441.3" y1="49.41" x2="443" y2="49.41" stroke="#111" stroke-width="0.6"/>
<line x1="441.3" y1="47.34" x2="443" y2="47.34" stroke="#111" stroke-width="0.6"/>
<line x1="441.3" y1="45.26" x2="443" y2="45.26" stroke="#111" stroke-width="0.6"/>
<line x1="441.3" y1="43.18" x2="443" y2="43.18" stroke="#111" stroke-width="0.6"/>
<line x1="441.3" y1="41.11" x2="443" y2="41.11" stroke="#111" stroke-width="0.6"/>
<line x1="441.3" y1="39.03" x2="443" y2="39.03" stroke="#111" stroke-width="0.6"/>
<line x1="441.3" y1="36.96" x2="443" y2="36.96" stroke="#111" stroke-width="0.6"/>
<line x1="441.3" y1="34.88" x2="443" y2="34.88" stroke="#111" stroke-width="0.6"/>
<line x1="441.3" y1="32.8" x2="443" y2="32.8" stroke="#111" stroke-width="0.6"/>
<line x1="441.3" y1="30.73" x2="443" y2="30.73" stroke="#111" stroke-width="0.6"/>
<line x1="441.3" y1="28.65" x2="443" y2="28.65" stroke="#111" stroke-width="0.6"/>
<line x1="441.3" y1="26.58" x2="443" y2="26.58" stroke="#111" stroke-width="0.6"/>
<line x1="441.3" y1="24.5" x2="443" y2="24.5" stroke="#111" stroke-width="0.6"/>
<line x1="443.6" y1="76.4" x2="443.6" y2="79.4" stroke="#111" stroke-width="0.9"/>
<text x="446.4" y="85.6" font-size="7" fill="#1a1a1a" text-anchor="end" transform="rotate(-45 446.4 85.6) translate(446.4 85.6) scale(1.08 1) translate(-446.4 -85.6)" stroke="#1a1a1a" stroke-width="0.15">0</text>
<line x1="456.2" y1="76.4" x2="456.2" y2="79.4" stroke="#111" stroke-width="0.9"/>
<text x="459" y="85.6" font-size="7" fill="#1a1a1a" text-anchor="end" transform="rotate(-45 459 85.6) translate(459 85.6) scale(1.2 1) translate(-459 -85.6)" stroke="#1a1a1a" stroke-width="0.15">50K</text>
<line x1="468.8" y1="76.4" x2="468.8" y2="79.4" stroke="#111" stroke-width="0.9"/>
<text x="471.6" y="85.6" font-size="7" fill="#1a1a1a" text-anchor="end" transform="rotate(-45 471.6 85.6) translate(471.6 85.6) scale(1.2 1) translate(-471.6 -85.6)" stroke="#1a1a1a" stroke-width="0.15">100K</text>
<line x1="481.4" y1="76.4" x2="481.4" y2="79.4" stroke="#111" stroke-width="0.9"/>
<text x="484.2" y="85.6" font-size="7" fill="#1a1a1a" text-anchor="end" transform="rotate(-45 484.2 85.6) translate(484.2 85.6) scale(1.2 1) translate(-484.2 -85.6)" stroke="#1a1a1a" stroke-width="0.15">150K</text>
<line x1="494" y1="76.4" x2="494" y2="79.4" stroke="#111" stroke-width="0.9"/>
<text x="496.8" y="85.6" font-size="7" fill="#1a1a1a" text-anchor="end" transform="rotate(-45 496.8 85.6) translate(496.8 85.6) scale(1.21 1) translate(-496.8 -85.6)" stroke="#1a1a1a" stroke-width="0.15">200K</text>
<line x1="506.6" y1="76.4" x2="506.6" y2="79.4" stroke="#111" stroke-width="0.9"/>
<text x="509.4" y="85.6" font-size="7" fill="#1a1a1a" text-anchor="end" transform="rotate(-45 509.4 85.6) translate(509.4 85.6) scale(1.21 1) translate(-509.4 -85.6)" stroke="#1a1a1a" stroke-width="0.15">250K</text>
<line x1="443.6" y1="76.4" x2="443.6" y2="78.1" stroke="#111" stroke-width="0.6"/>
<line x1="446.12" y1="76.4" x2="446.12" y2="78.1" stroke="#111" stroke-width="0.6"/>
<line x1="448.64" y1="76.4" x2="448.64" y2="78.1" stroke="#111" stroke-width="0.6"/>
<line x1="451.16" y1="76.4" x2="451.16" y2="78.1" stroke="#111" stroke-width="0.6"/>
<line x1="453.68" y1="76.4" x2="453.68" y2="78.1" stroke="#111" stroke-width="0.6"/>
<line x1="456.2" y1="76.4" x2="456.2" y2="78.1" stroke="#111" stroke-width="0.6"/>
<line x1="458.72" y1="76.4" x2="458.72" y2="78.1" stroke="#111" stroke-width="0.6"/>
<line x1="461.24" y1="76.4" x2="461.24" y2="78.1" stroke="#111" stroke-width="0.6"/>
<line x1="463.76" y1="76.4" x2="463.76" y2="78.1" stroke="#111" stroke-width="0.6"/>
<line x1="466.28" y1="76.4" x2="466.28" y2="78.1" stroke="#111" stroke-width="0.6"/>
<line x1="468.8" y1="76.4" x2="468.8" y2="78.1" stroke="#111" stroke-width="0.6"/>
<line x1="471.32" y1="76.4" x2="471.32" y2="78.1" stroke="#111" stroke-width="0.6"/>
<line x1="473.84" y1="76.4" x2="473.84" y2="78.1" stroke="#111" stroke-width="0.6"/>
<line x1="476.36" y1="76.4" x2="476.36" y2="78.1" stroke="#111" stroke-width="0.6"/>
<line x1="478.88" y1="76.4" x2="478.88" y2="78.1" stroke="#111" stroke-width="0.6"/>
<line x1="481.4" y1="76.4" x2="481.4" y2="78.1" stroke="#111" stroke-width="0.6"/>
<line x1="483.92" y1="76.4" x2="483.92" y2="78.1" stroke="#111" stroke-width="0.6"/>
<line x1="486.44" y1="76.4" x2="486.44" y2="78.1" stroke="#111" stroke-width="0.6"/>
<line x1="488.96" y1="76.4" x2="488.96" y2="78.1" stroke="#111" stroke-width="0.6"/>
<line x1="491.48" y1="76.4" x2="491.48" y2="78.1" stroke="#111" stroke-width="0.6"/>
<line x1="494" y1="76.4" x2="494" y2="78.1" stroke="#111" stroke-width="0.6"/>
<line x1="496.52" y1="76.4" x2="496.52" y2="78.1" stroke="#111" stroke-width="0.6"/>
<line x1="499.04" y1="76.4" x2="499.04" y2="78.1" stroke="#111" stroke-width="0.6"/>
<line x1="501.56" y1="76.4" x2="501.56" y2="78.1" stroke="#111" stroke-width="0.6"/>
<line x1="504.08" y1="76.4" x2="504.08" y2="78.1" stroke="#111" stroke-width="0.6"/>
<line x1="506.6" y1="76.4" x2="506.6" y2="78.1" stroke="#111" stroke-width="0.6"/>
<line x1="509.12" y1="76.4" x2="509.12" y2="78.1" stroke="#111" stroke-width="0.6"/>
<path d="M467.9 69.7h0.8M485.7 61.3h0.8M481.9 67.2h0.8M480.5 54.8h0.8M479.0 63.3h0.8M493.8 55.5h0.8M470.7 71.8h0.8M467.1 63.3h0.8M481.9 69.7h0.8M476.7 67.3h0.8M479.4 61.5h0.8M467.8 73.5h0.8M484.1 65.8h0.8M471.3 60.1h0.8M484.8 55.7h0.8M478.7 61.8h0.8M475.5 70.2h0.8M495.6 51.8h0.8M481.2 56.7h0.8M482.7 67.7h0.8M476.7 59.2h0.8M484.0 49.8h0.8M483.0 67.8h0.8M477.5 55.4h0.8M482.5 62.4h0.8M493.1 57.9h0.8M487.0 64.0h0.8M481.6 52.4h0.8M479.5 66.1h0.8M501.7 57.9h0.8M498.0 54.2h0.8M498.5 51.5h0.8M492.5 53.2h0.8M494.0 58.6h0.8M484.6 55.7h0.8M498.2 51.3h0.8M483.8 52.4h0.8M470.5 68.6h0.8M477.8 60.3h0.8M470.8 59.6h0.8M468.0 63.4h0.8M466.7 63.1h0.8M473.3 58.6h0.8M486.4 62.5h0.8M469.4 63.4h0.8M472.8 64.6h0.8M477.4 66.8h0.8M489.8 53.1h0.8M491.7 62.3h0.8M483.1 59.3h0.8M468.7 63.4h0.8M489.1 66.8h0.8M500.9 43.6h0.8M496.5 54.5h0.8M472.2 64.5h0.8M470.4 71.6h0.8M496.7 61.9h0.8M485.4 49.5h0.8M477.7 64.6h0.8M491.4 57.7h0.8M486.3 46.9h0.8M493.0 51.3h0.8M499.0 50.9h0.8M467.7 75.3h0.8M477.9 59.4h0.8M493.8 49.1h0.8M467.3 68.6h0.8M496.1 58.7h0.8M467.5 65.4h0.8M459.1 75.3h0.8M480.2 63.8h0.8M496.9 69.9h0.8M464.1 66.8h0.8M487.6 57.2h0.8M478.6 70.2h0.8M477.6 65.4h0.8M472.1 53.6h0.8M485.3 66.6h0.8M500.0 54.6h0.8M485.0 59.8h0.8M466.0 67.4h0.8M470.0 75.3h0.8M468.1 62.8h0.8M502.3 49.3h0.8M470.7 62.7h0.8M473.9 66.3h0.8M477.6 73.0h0.8M471.1 51.9h0.8M477.9 61.2h0.8M484.9 55.9h0.8M473.9 74.1h0.8M465.3 67.0h0.8M477.0 49.9h0.8M504.2 50.6h0.8M479.3 59.2h0.8M477.6 62.6h0.8M492.0 61.3h0.8M476.9 58.0h0.8M475.0 56.5h0.8M473.5 60.5h0.8M490.2 66.9h0.8M484.5 48.1h0.8M482.8 66.4h0.8M472.4 53.3h0.8M492.5 48.8h0.8M494.6 55.6h0.8M497.4 42.5h0.8M470.0 61.6h0.8M470.4 64.9h0.8M484.5 53.8h0.8M484.8 70.0h0.8M502.3 44.0h0.8M496.7 54.8h0.8M486.0 58.2h0.8M468.8 57.4h0.8M475.5 62.8h0.8M479.5 62.2h0.8M476.5 63.2h0.8M479.1 59.2h0.8M473.8 58.5h0.8M484.4 55.3h0.8M464.8 67.4h0.8M477.6 65.0h0.8M474.6 54.8h0.8M486.7 69.1h0.8M472.7 70.1h0.8M478.7 50.7h0.8M482.8 60.6h0.8M475.1 67.6h0.8M499.5 58.7h0.8M468.2 55.3h0.8M459.8 75.7h0.8M481.5 60.6h0.8M488.1 49.9h0.8M474.8 61.6h0.8M495.5 46.4h0.8M486.9 69.5h0.8M474.1 69.9h0.8M474.7 69.2h0.8M472.6 72.9h0.8M474.4 60.3h0.8M475.2 58.0h0.8M465.5 71.5h0.8M489.8 61.5h0.8M471.2 67.0h0.8M474.7 56.9h0.8M473.6 65.2h0.8M468.1 63.7h0.8M493.8 60.1h0.8M480.2 52.2h0.8M495.2 35.4h0.8M487.2 66.8h0.8M498.9 59.2h0.8M469.7 65.2h0.8M476.0 51.7h0.8M503.4 46.5h0.8M468.3 73.4h0.8M482.0 67.3h0.8M488.5 62.5h0.8M477.8 55.2h0.8M468.4 72.0h0.8M490.5 49.3h0.8M497.1 40.8h0.8M469.6 62.7h0.8M477.1 52.6h0.8M474.9 63.4h0.8M467.2 73.0h0.8M480.0 49.1h0.8M487.1 65.8h0.8M475.3 47.5h0.8M465.9 71.4h0.8M468.9 59.2h0.8M488.1 62.7h0.8M470.9 55.7h0.8M478.2 64.4h0.8M472.6 68.3h0.8M491.5 60.8h0.8M482.2 56.4h0.8M484.9 53.3h0.8M492.3 62.0h0.8M494.6 41.2h0.8M485.0 65.5h0.8M485.1 61.3h0.8M496.7 51.5h0.8M475.9 67.4h0.8M487.5 50.6h0.8M491.0 47.4h0.8M498.2 45.2h0.8M502.3 43.0h0.8M494.4 57.7h0.8M481.3 48.9h0.8M466.9 67.1h0.8M495.4 69.8h0.8M477.3 65.6h0.8M492.2 54.6h0.8M472.1 62.5h0.8M497.4 51.1h0.8M476.0 62.3h0.8M477.9 64.6h0.8M487.1 57.4h0.8M477.9 66.4h0.8M490.1 54.0h0.8M481.2 62.1h0.8M494.4 63.1h0.8M472.8 72.4h0.8M478.2 50.1h0.8M480.4 59.9h0.8M469.1 61.8h0.8M461.8 71.1h0.8M486.2 49.8h0.8M467.4 62.2h0.8M460.8 70.6h0.8M483.7 68.6h0.8M485.6 59.5h0.8M476.2 66.9h0.8M481.4 54.2h0.8M478.1 69.2h0.8M490.5 53.6h0.8M469.2 70.2h0.8M458.5 67.7h0.8M480.9 64.1h0.8M479.2 70.1h0.8M483.6 72.6h0.8M468.8 70.1h0.8M475.1 61.6h0.8M486.9 63.4h0.8M492.8 63.0h0.8M506.7 49.2h0.8M483.2 49.4h0.8M461.2 63.0h0.8M484.2 59.6h0.8M470.8 68.3h0.8M501.0 50.1h0.8M462.4 59.5h0.8M480.8 56.1h0.8M473.5 54.5h0.8M476.9 66.3h0.8M485.7 46.1h0.8M474.6 68.8h0.8M488.3 56.2h0.8M505.0 43.4h0.8M486.6 64.9h0.8M476.6 57.8h0.8M485.5 65.9h0.8M476.1 64.0h0.8M493.8 53.1h0.8M475.5 67.8h0.8M495.1 55.4h0.8M482.6 68.9h0.8M469.8 75.8h0.8M476.7 67.2h0.8M475.8 71.2h0.8M470.4 61.7h0.8M490.6 45.9h0.8M479.2 57.0h0.8M471.4 65.1h0.8M468.4 61.1h0.8M505.0 50.3h0.8M483.7 56.8h0.8M502.0 52.3h0.8M481.1 56.0h0.8M473.6 72.5h0.8M506.8 46.8h0.8M474.9 70.2h0.8M480.6 52.9h0.8M493.6 63.6h0.8M478.7 57.9h0.8M481.7 64.3h0.8M466.9 66.8h0.8M475.5 55.3h0.8M478.4 61.9h0.8M476.9 61.6h0.8M475.3 69.4h0.8M473.8 70.8h0.8M481.7 63.7h0.8M497.8 58.2h0.8M504.9 42.1h0.8M486.9 51.3h0.8M482.8 63.4h0.8M467.1 61.9h0.8M488.7 45.5h0.8M476.5 68.9h0.8M496.4 50.7h0.8M489.7 65.4h0.8M488.5 48.1h0.8M483.3 59.0h0.8M474.4 59.8h0.8M475.2 56.9h0.8M466.3 67.0h0.8M457.5 74.5h0.8M468.9 56.1h0.8M501.2 46.7h0.8M472.0 53.3h0.8M493.6 67.7h0.8M476.8 63.1h0.8M472.3 63.6h0.8M467.1 67.9h0.8M471.3 69.2h0.8M481.0 60.3h0.8M487.8 58.1h0.8M467.5 59.2h0.8M475.2 62.0h0.8M475.4 64.0h0.8M481.8 61.2h0.8M467.8 59.6h0.8M470.2 68.2h0.8M479.2 63.7h0.8M487.8 56.3h0.8M476.4 56.6h0.8M490.8 65.6h0.8M499.3 54.8h0.8M480.7 52.6h0.8M482.2 60.5h0.8M483.4 70.9h0.8M481.7 63.9h0.8M472.1 65.7h0.8M466.7 74.6h0.8M470.6 70.6h0.8M474.9 60.9h0.8M479.6 64.2h0.8M478.8 67.0h0.8M499.3 51.4h0.8M480.3 63.7h0.8M462.1 69.3h0.8M477.5 63.2h0.8M485.6 48.6h0.8M463.7 72.7h0.8M483.3 55.7h0.8M480.5 59.7h0.8M477.8 63.6h0.8M486.3 57.3h0.8M476.8 60.9h0.8M470.9 52.9h0.8M486.9 54.4h0.8M484.1 51.8h0.8M476.7 70.4h0.8M487.9 43.1h0.8M493.5 61.8h0.8M489.1 41.4h0.8M482.7 63.1h0.8M476.1 69.3h0.8M476.5 60.7h0.8M480.7 58.4h0.8M469.3 59.0h0.8M480.1 55.8h0.8M478.3 58.4h0.8M479.6 60.8h0.8M463.9 63.8h0.8M498.7 48.8h0.8M487.9 48.7h0.8M466.0 75.0h0.8M486.1 65.6h0.8M468.9 61.4h0.8M473.9 58.9h0.8M472.1 62.3h0.8M498.0 68.4h0.8M464.6 64.5h0.8M488.2 51.2h0.8M487.8 55.8h0.8M480.2 64.0h0.8M463.2 73.5h0.8M473.3 75.8h0.8M475.0 51.2h0.8M473.9 57.9h0.8M472.3 67.5h0.8M504.2 47.6h0.8M497.8 59.5h0.8M478.0 63.9h0.8M497.8 48.5h0.8M484.3 58.2h0.8M473.2 67.2h0.8M476.4 62.8h0.8M497.5 56.2h0.8M492.1 64.1h0.8M468.9 70.7h0.8M472.1 67.0h0.8M504.8 57.8h0.8M480.0 65.3h0.8M478.2 57.3h0.8M488.7 56.8h0.8M475.0 70.6h0.8M482.1 57.2h0.8M474.1 56.8h0.8" stroke="#7c84d0" stroke-opacity="0.38" stroke-width="0.8" fill="none"/>
<path d="M477.1 67.9h0.8M471.2 68.7h0.8M479.3 67.1h0.8M465.0 76.1h0.8M468.5 70.9h0.8M482.0 63.5h0.8M468.6 71.6h0.8M450.8 73.9h0.8M464.2 72.2h0.8M468.7 65.2h0.8M469.2 68.5h0.8M467.9 72.5h0.8M461.8 73.3h0.8M470.4 66.9h0.8M467.3 73.8h0.8M466.1 66.7h0.8M465.6 71.9h0.8M461.4 75.6h0.8M476.0 69.0h0.8M463.5 72.7h0.8M463.4 71.9h0.8M470.1 67.2h0.8M477.9 74.2h0.8M470.5 73.1h0.8M454.7 72.9h0.8M464.8 71.2h0.8M474.0 71.9h0.8M467.3 72.8h0.8M467.2 65.2h0.8M460.4 73.0h0.8M468.7 71.6h0.8M462.9 68.8h0.8M477.8 75.4h0.8M471.2 68.4h0.8M450.7 72.0h0.8M462.1 74.4h0.8M461.4 73.4h0.8M470.9 72.3h0.8M463.0 72.2h0.8M465.1 71.2h0.8M446.0 72.9h0.8M472.8 66.0h0.8M467.4 74.0h0.8M467.2 72.2h0.8M481.5 71.5h0.8M466.6 70.1h0.8M472.6 72.4h0.8M475.3 69.2h0.8M466.5 68.9h0.8M462.2 74.6h0.8M478.8 68.6h0.8M468.1 73.5h0.8M459.5 75.0h0.8M469.4 70.0h0.8M465.6 70.7h0.8M471.9 72.3h0.8M465.8 70.1h0.8M462.4 75.0h0.8M472.6 72.7h0.8M482.1 62.7h0.8M471.1 71.8h0.8M468.8 74.5h0.8M470.2 68.9h0.8M461.6 69.1h0.8M456.0 74.0h0.8M472.8 69.0h0.8M470.8 68.0h0.8M469.2 70.5h0.8M473.5 69.1h0.8M463.5 71.2h0.8M474.4 73.1h0.8M470.8 73.8h0.8M456.1 74.2h0.8M466.5 70.6h0.8M481.4 68.9h0.8M464.1 68.3h0.8M476.2 65.0h0.8M483.0 71.5h0.8M482.8 62.5h0.8M475.9 65.8h0.8M470.4 70.5h0.8M469.6 75.6h0.8M461.3 75.6h0.8M453.3 75.8h0.8M465.7 75.7h0.8M469.9 72.0h0.8M461.9 69.9h0.8M464.8 67.1h0.8M483.8 66.0h0.8M471.8 66.3h0.8M465.5 73.8h0.8M487.3 63.9h0.8M473.4 71.1h0.8M466.5 67.8h0.8M462.8 73.1h0.8M467.2 68.4h0.8M461.2 71.0h0.8M462.1 71.8h0.8M458.2 68.3h0.8M461.8 75.2h0.8M470.5 68.2h0.8M463.9 75.1h0.8M466.6 75.6h0.8M454.1 74.4h0.8M458.9 73.3h0.8M478.1 68.5h0.8M465.0 71.3h0.8M459.1 72.6h0.8M479.5 73.0h0.8M465.4 72.2h0.8M463.7 73.7h0.8M484.5 63.4h0.8M469.8 73.0h0.8M458.9 73.7h0.8M475.9 75.2h0.8M452.8 73.7h0.8M469.1 69.5h0.8M469.9 71.1h0.8M479.1 65.6h0.8M457.5 74.8h0.8M464.0 74.7h0.8M472.4 72.4h0.8M467.0 74.1h0.8M459.8 71.7h0.8M471.6 64.4h0.8M457.8 75.0h0.8M468.1 71.9h0.8M465.0 71.9h0.8M480.4 61.7h0.8M479.4 67.0h0.8M477.5 68.5h0.8M470.1 70.5h0.8M463.8 75.9h0.8M462.8 72.2h0.8M478.4 66.0h0.8M471.2 66.1h0.8M472.5 66.3h0.8M484.6 63.8h0.8M463.6 73.9h0.8M470.1 70.6h0.8M455.8 73.5h0.8M472.8 66.0h0.8M464.4 66.5h0.8M483.0 68.0h0.8M472.4 67.5h0.8M465.0 72.3h0.8M478.8 67.4h0.8M464.3 73.6h0.8M463.6 68.4h0.8M466.0 72.3h0.8M489.2 66.2h0.8M472.5 76.0h0.8M461.0 71.0h0.8M466.8 73.2h0.8M465.2 67.5h0.8M451.7 71.2h0.8M470.3 68.1h0.8M470.6 71.7h0.8M464.3 75.2h0.8M469.8 70.9h0.8M459.1 73.3h0.8M470.5 72.8h0.8M465.7 70.5h0.8M460.9 70.8h0.8M460.8 73.0h0.8M469.5 72.7h0.8M463.7 73.0h0.8M475.8 66.0h0.8M455.0 73.4h0.8M471.2 71.5h0.8M456.7 70.6h0.8M469.6 67.2h0.8M476.6 65.9h0.8M465.0 69.6h0.8M452.7 74.2h0.8M460.6 75.0h0.8M472.1 67.8h0.8M474.3 69.0h0.8M474.8 66.4h0.8M470.7 72.1h0.8M475.8 69.5h0.8M456.7 72.6h0.8M469.6 74.9h0.8M480.3 71.2h0.8M471.1 64.1h0.8M471.8 71.3h0.8M461.2 75.2h0.8M460.9 70.1h0.8M472.7 70.0h0.8M479.1 66.4h0.8M466.0 70.8h0.8M467.0 69.2h0.8M462.7 72.8h0.8M475.0 71.8h0.8M481.9 68.7h0.8M478.8 72.9h0.8M458.7 68.2h0.8M451.4 71.3h0.8M476.2 67.7h0.8M450.8 74.9h0.8M468.7 66.2h0.8M454.2 67.1h0.8M458.2 73.7h0.8M472.5 73.0h0.8M465.5 76.0h0.8M476.8 67.7h0.8M477.6 68.3h0.8M462.3 72.9h0.8M457.7 73.6h0.8M468.7 68.4h0.8M465.4 70.8h0.8M452.3 74.4h0.8M475.0 71.1h0.8M466.6 70.5h0.8M463.2 72.7h0.8M462.4 70.4h0.8M471.6 62.1h0.8M459.4 72.0h0.8M455.4 75.9h0.8M456.5 72.1h0.8M469.0 69.3h0.8M460.3 69.5h0.8M459.3 72.9h0.8M464.5 71.0h0.8M465.2 69.0h0.8M461.7 71.9h0.8M478.7 66.0h0.8M451.1 75.8h0.8M465.4 74.4h0.8M468.6 68.7h0.8M454.7 74.3h0.8M463.2 69.5h0.8M465.8 68.7h0.8M460.6 70.1h0.8M478.5 66.7h0.8M467.7 74.7h0.8M466.6 74.9h0.8M449.7 75.5h0.8M481.4 70.0h0.8M472.5 69.9h0.8M457.9 69.5h0.8M460.6 70.3h0.8M455.2 70.9h0.8M465.7 70.9h0.8M474.4 71.2h0.8M471.0 71.1h0.8M468.2 70.6h0.8M459.1 72.9h0.8M475.6 63.2h0.8M471.1 70.4h0.8M474.4 75.8h0.8M461.9 73.9h0.8M471.7 68.6h0.8M481.4 65.2h0.8M471.9 71.1h0.8M471.7 65.6h0.8M466.6 68.1h0.8M484.5 70.4h0.8M461.4 70.4h0.8M459.1 73.0h0.8M469.3 70.3h0.8M458.1 72.2h0.8M469.3 71.0h0.8M466.7 70.6h0.8M464.9 70.2h0.8M459.8 74.2h0.8M471.3 70.9h0.8M457.9 72.7h0.8M465.4 73.6h0.8M478.4 66.7h0.8M467.4 66.7h0.8M462.7 75.7h0.8M462.0 74.3h0.8M469.6 72.0h0.8M471.9 70.9h0.8M460.3 75.5h0.8M464.5 69.8h0.8M453.2 73.6h0.8M470.7 71.5h0.8M462.0 72.8h0.8M476.2 71.4h0.8M471.0 64.0h0.8M464.5 75.5h0.8M457.7 75.4h0.8M468.2 73.5h0.8M461.4 70.4h0.8M478.4 64.3h0.8M465.5 69.9h0.8M460.8 71.5h0.8M468.6 71.9h0.8M467.1 75.1h0.8M471.9 69.1h0.8M469.6 74.0h0.8M454.5 73.7h0.8M484.2 68.1h0.8M462.7 70.5h0.8M463.7 75.5h0.8M478.7 71.6h0.8M466.7 71.7h0.8M460.4 67.2h0.8M468.9 71.2h0.8M484.2 66.3h0.8M475.7 66.2h0.8M472.8 73.2h0.8M459.2 71.0h0.8M466.6 70.3h0.8M469.3 70.2h0.8M469.0 71.1h0.8M470.4 71.7h0.8M466.4 70.6h0.8M470.1 65.7h0.8M460.8 72.1h0.8M460.1 70.4h0.8M474.5 69.4h0.8M465.6 72.0h0.8M473.0 71.6h0.8M458.9 67.9h0.8M467.3 70.1h0.8M477.5 72.5h0.8M465.3 69.0h0.8M463.0 74.2h0.8M461.1 72.8h0.8M470.1 71.6h0.8M451.2 75.5h0.8M472.6 72.9h0.8M465.8 70.1h0.8M457.0 75.3h0.8M464.5 75.1h0.8M456.9 75.7h0.8M476.7 72.6h0.8M480.9 65.0h0.8M463.0 70.9h0.8M471.1 69.1h0.8M458.8 72.0h0.8M468.7 71.8h0.8M476.8 66.8h0.8M464.0 69.0h0.8M472.2 71.5h0.8M458.8 70.5h0.8M467.7 73.2h0.8M452.0 73.4h0.8M463.8 73.1h0.8M459.2 75.3h0.8M457.0 72.2h0.8M475.1 66.2h0.8M471.4 69.6h0.8M461.6 72.5h0.8M463.2 71.9h0.8M485.8 63.7h0.8M469.3 69.1h0.8M453.7 76.1h0.8M467.8 70.4h0.8M477.4 70.4h0.8M465.8 71.4h0.8M473.4 66.8h0.8M469.7 71.8h0.8M465.4 76.1h0.8M457.3 75.7h0.8M456.4 73.1h0.8M460.6 74.3h0.8M468.2 69.3h0.8M475.5 72.4h0.8M466.4 69.2h0.8M470.1 71.4h0.8M469.7 70.0h0.8M476.1 60.6h0.8M473.5 70.4h0.8M470.7 68.4h0.8M456.9 68.9h0.8M472.1 75.1h0.8M467.4 71.9h0.8M459.4 71.9h0.8M486.5 65.6h0.8M465.1 69.8h0.8M463.7 71.9h0.8M457.1 74.7h0.8M471.4 71.6h0.8M474.4 68.5h0.8M473.0 72.7h0.8M464.9 74.8h0.8M462.6 69.4h0.8M457.5 75.8h0.8M462.1 67.9h0.8M450.8 74.4h0.8M471.9 72.0h0.8M462.1 68.9h0.8M458.5 70.5h0.8M462.4 70.7h0.8M470.2 69.3h0.8M472.4 68.6h0.8M464.8 73.3h0.8M474.4 70.0h0.8M469.4 74.3h0.8M470.3 67.1h0.8M454.7 76.2h0.8M471.9 70.6h0.8M449.8 73.2h0.8M465.7 72.9h0.8M465.6 67.5h0.8M476.2 69.4h0.8M476.2 73.9h0.8M456.1 76.0h0.8M459.3 74.1h0.8M462.5 71.8h0.8M467.9 75.6h0.8M465.5 71.0h0.8M461.5 74.0h0.8M467.3 70.2h0.8M464.6 70.7h0.8M457.0 69.2h0.8M470.9 75.4h0.8M468.7 73.6h0.8M452.1 71.2h0.8M456.3 72.3h0.8M475.2 67.9h0.8M476.9 66.9h0.8M457.6 75.2h0.8M459.3 74.4h0.8M462.9 71.1h0.8M454.2 72.7h0.8M456.8 74.3h0.8M470.0 72.8h0.8M459.5 66.2h0.8M461.5 70.1h0.8M460.1 70.9h0.8M462.6 68.3h0.8M476.7 72.5h0.8M486.9 66.4h0.8M465.3 73.9h0.8M462.4 75.6h0.8M461.3 73.0h0.8M458.9 72.1h0.8M455.5 71.9h0.8M460.9 71.0h0.8M458.1 70.3h0.8M470.7 70.1h0.8M466.6 73.0h0.8M458.8 70.9h0.8M454.5 75.0h0.8M457.4 72.9h0.8M463.3 70.0h0.8M468.8 70.5h0.8M466.1 71.1h0.8M475.1 71.9h0.8M459.0 75.3h0.8M470.4 70.2h0.8M451.8 74.6h0.8M474.1 67.6h0.8M471.2 65.7h0.8M459.3 75.0h0.8M468.2 69.8h0.8M460.8 70.9h0.8M467.0 68.7h0.8M474.5 72.4h0.8M477.3 70.1h0.8M470.1 69.9h0.8M466.5 68.5h0.8M468.5 73.6h0.8M476.7 69.2h0.8M466.5 76.2h0.8M471.8 64.7h0.8M473.3 70.1h0.8M473.9 70.9h0.8M453.9 73.3h0.8M470.5 69.1h0.8M468.6 67.7h0.8M480.6 66.5h0.8M466.4 71.4h0.8M463.4 69.9h0.8M461.6 74.6h0.8M462.6 69.7h0.8M466.0 72.0h0.8M463.5 70.2h0.8M459.9 70.7h0.8M468.4 75.0h0.8M469.6 72.6h0.8M473.9 67.0h0.8M467.8 64.5h0.8M471.2 70.1h0.8M465.3 71.5h0.8M476.1 71.2h0.8M455.2 72.9h0.8M457.6 75.4h0.8M473.5 73.6h0.8M461.4 72.2h0.8M473.0 68.1h0.8M460.7 74.6h0.8M460.4 68.7h0.8M462.8 70.1h0.8M468.9 70.8h0.8M463.3 68.1h0.8M463.9 65.5h0.8M464.8 69.6h0.8M458.5 71.9h0.8M472.6 67.0h0.8M464.7 67.3h0.8M470.3 70.5h0.8M457.9 68.9h0.8M463.6 68.7h0.8M465.6 68.6h0.8M473.4 69.7h0.8M469.2 67.4h0.8M475.1 66.8h0.8M466.1 71.9h0.8M464.8 70.4h0.8M468.0 70.4h0.8M467.3 69.0h0.8M464.5 70.1h0.8M461.6 70.2h0.8M481.8 71.2h0.8M466.4 71.2h0.8M471.2 66.7h0.8M484.9 69.7h0.8M469.2 71.3h0.8M470.2 68.7h0.8M473.3 73.8h0.8M459.6 75.7h0.8M465.0 70.3h0.8M457.1 75.5h0.8M465.3 73.0h0.8M466.2 71.9h0.8M462.4 74.8h0.8M463.9 74.8h0.8M460.0 68.8h0.8M479.2 66.0h0.8M472.2 67.3h0.8M468.1 73.1h0.8M468.8 74.0h0.8M470.5 68.1h0.8M466.1 72.0h0.8M456.7 69.4h0.8M474.5 67.1h0.8M480.7 63.8h0.8M470.6 72.0h0.8M470.3 66.8h0.8M470.8 73.1h0.8M466.9 68.8h0.8M460.5 73.1h0.8M469.4 67.9h0.8M470.3 68.3h0.8M460.0 70.7h0.8M464.9 71.9h0.8M465.4 71.9h0.8M461.4 68.4h0.8M462.6 73.7h0.8M470.8 65.2h0.8M462.5 73.1h0.8M459.6 72.0h0.8M466.8 76.3h0.8M463.1 69.1h0.8M479.0 67.9h0.8M467.0 68.5h0.8M470.4 68.2h0.8M461.7 71.5h0.8M471.2 70.0h0.8M474.4 65.2h0.8M464.1 70.9h0.8M460.2 67.9h0.8M480.1 67.6h0.8M482.5 71.4h0.8M460.4 76.3h0.8M472.0 69.0h0.8M464.2 73.9h0.8M464.5 71.2h0.8M448.2 74.4h0.8M453.7 71.1h0.8M467.5 70.6h0.8M470.5 68.4h0.8M459.1 74.4h0.8M465.7 71.5h0.8M463.8 69.2h0.8M466.2 71.4h0.8M459.1 73.0h0.8M458.0 74.5h0.8M468.8 69.4h0.8M464.8 73.4h0.8M461.0 74.3h0.8M467.4 72.7h0.8M462.6 75.2h0.8M454.4 73.1h0.8M478.1 61.4h0.8M473.1 71.3h0.8M465.0 67.7h0.8M459.3 73.7h0.8M461.9 74.0h0.8M477.3 69.2h0.8M471.4 65.8h0.8M474.3 71.8h0.8M460.4 68.9h0.8M472.1 68.5h0.8M456.4 67.6h0.8M469.5 68.8h0.8M459.6 65.2h0.8M471.1 74.7h0.8M452.7 71.1h0.8M461.8 70.7h0.8M471.1 68.3h0.8M479.7 65.0h0.8M459.6 71.6h0.8M466.6 65.7h0.8M469.9 71.3h0.8M472.3 70.5h0.8M477.3 71.3h0.8M464.4 72.6h0.8M459.5 69.3h0.8M466.4 73.4h0.8M462.3 72.1h0.8M474.2 68.0h0.8M475.0 71.5h0.8M475.3 73.2h0.8M460.4 70.1h0.8M456.7 75.0h0.8M462.4 72.2h0.8M462.7 74.1h0.8M474.5 69.6h0.8M464.5 69.6h0.8M466.8 72.5h0.8M477.5 64.1h0.8M474.8 74.1h0.8M482.3 70.9h0.8M469.9 67.4h0.8M478.3 67.4h0.8M472.5 69.8h0.8M470.9 66.8h0.8M457.7 74.2h0.8M479.2 71.0h0.8M461.9 74.9h0.8M474.4 65.3h0.8M465.4 67.8h0.8M457.8 71.6h0.8M460.4 73.5h0.8M467.6 72.9h0.8M460.0 67.3h0.8M471.2 74.2h0.8M467.8 73.1h0.8M461.7 73.5h0.8M470.1 70.8h0.8M459.8 74.8h0.8M464.4 70.7h0.8M455.8 70.4h0.8M467.1 67.7h0.8M464.3 68.1h0.8M468.9 64.3h0.8M457.8 66.8h0.8M457.9 76.3h0.8M462.1 74.2h0.8M479.8 68.8h0.8M462.4 69.5h0.8M457.4 68.8h0.8M472.5 68.4h0.8M450.8 75.6h0.8M451.3 73.4h0.8M446.6 76.0h0.8M445.6 76.0h0.8M447.8 75.5h0.8M450.7 74.8h0.8M445.1 75.6h0.8M443.7 75.3h0.8M449.2 73.6h0.8M445.9 76.0h0.8M443.9 75.5h0.8M448.0 75.3h0.8M443.9 75.7h0.8M448.4 74.8h0.8M447.3 76.2h0.8M444.5 75.9h0.8M446.8 75.8h0.8M443.7 76.3h0.8M445.5 76.0h0.8M444.2 75.3h0.8M448.5 75.8h0.8M445.9 75.0h0.8M446.3 75.8h0.8M444.2 76.1h0.8M444.6 76.3h0.8M447.0 75.8h0.8M448.4 74.6h0.8M445.1 76.2h0.8M449.4 75.9h0.8M448.4 75.4h0.8M446.4 74.5h0.8M444.4 76.0h0.8M445.5 76.0h0.8M444.0 76.1h0.8M446.7 74.9h0.8M445.9 75.7h0.8M443.7 76.4h0.8M450.3 74.0h0.8M446.8 76.2h0.8M453.8 73.7h0.8M448.8 73.9h0.8M450.3 75.4h0.8M446.0 75.6h0.8M443.8 75.7h0.8M445.4 74.8h0.8M446.4 75.9h0.8M451.2 74.3h0.8M449.4 75.5h0.8M444.0 74.4h0.8M444.6 76.3h0.8M452.2 76.1h0.8M444.4 76.3h0.8M444.3 75.7h0.8M446.8 75.9h0.8M446.1 76.0h0.8M448.9 74.7h0.8M447.1 76.3h0.8M445.3 76.3h0.8M450.0 74.7h0.8M450.5 73.4h0.8M447.5 76.0h0.8M448.9 76.1h0.8M444.5 76.0h0.8M446.2 75.4h0.8M444.5 76.1h0.8M445.5 75.5h0.8M443.7 75.8h0.8M446.9 74.5h0.8M443.6 74.5h0.8M448.8 76.4h0.8M447.1 76.1h0.8M444.4 74.3h0.8M449.3 76.0h0.8M446.1 76.2h0.8M444.7 75.8h0.8M447.4 76.4h0.8M446.5 75.2h0.8M448.7 74.3h0.8M452.0 73.6h0.8M448.7 76.2h0.8M445.5 76.4h0.8M448.5 76.1h0.8M444.6 76.3h0.8M446.2 75.7h0.8M447.8 75.9h0.8M448.7 75.4h0.8M447.9 74.9h0.8M444.4 75.6h0.8M445.0 75.9h0.8M447.7 74.8h0.8M446.7 75.1h0.8M447.9 75.9h0.8M448.5 75.1h0.8M447.5 75.4h0.8M444.1 75.7h0.8M447.9 75.7h0.8M445.4 74.7h0.8M447.2 76.1h0.8M447.5 74.8h0.8M446.5 76.1h0.8M447.3 75.5h0.8M449.7 75.0h0.8M444.9 74.0h0.8M445.6 75.5h0.8M447.0 75.5h0.8M445.8 76.1h0.8M444.3 76.3h0.8M446.7 75.5h0.8M450.5 75.1h0.8M446.8 76.3h0.8" stroke="#5f6ec8" stroke-opacity="0.5" stroke-width="0.8" fill="none"/>
<g transform="rotate(-6 464.26 73.91)">
<ellipse cx="466.76" cy="73.41" rx="11.97" ry="3.2" fill="#70a8e0" fill-opacity="0.55" filter="url(#sb)"/>
<ellipse cx="464.76" cy="73.91" rx="7.81" ry="2.2" fill="#50b8b0" fill-opacity="0.8" filter="url(#sb)"/>
<ellipse cx="463.96" cy="74.11" rx="5.29" ry="1.6" fill="#90cc40" fill-opacity="0.95" filter="url(#sb)"/>
<ellipse cx="463.46" cy="74.21" rx="2.52" ry="1.1" fill="#f09020" fill-opacity="0.95" filter="url(#sb)"/>
</g>
<ellipse cx="444.36" cy="76.09" rx="1.8" ry="1.3" fill="#b8c830" fill-opacity="0.9" filter="url(#sb)"/>
<rect x="452.1" y="59.1" width="35.5" height="16.7" fill="none" stroke="#8a8a8a" stroke-width="0.75"/>
<rect x="463.05" y="63.1" width="8" height="6.8" fill="#fff" fill-opacity="0.9" stroke="#b0b0b0" stroke-width="0.3"/>
<line x1="463.85" y1="65.3" x2="470.25" y2="65.3" stroke="#777" stroke-width="0.7"/>
<line x1="465.05" y1="68.1" x2="469.05" y2="68.1" stroke="#999" stroke-width="0.7"/>
<rect x="443" y="21.6" width="67.4" height="54.8" fill="none" stroke="#111" stroke-width="1.2"/>
<line x1="440" y1="116.2" x2="443" y2="116.2" stroke="#111" stroke-width="0.9"/>
<line x1="440" y1="135" x2="443" y2="135" stroke="#111" stroke-width="0.9"/>
<line x1="440" y1="152.3" x2="443" y2="152.3" stroke="#111" stroke-width="0.9"/>
<line x1="440" y1="161.7" x2="443" y2="161.7" stroke="#111" stroke-width="0.9"/>
<line x1="440" y1="172.6" x2="443" y2="172.6" stroke="#111" stroke-width="0.9"/>
<text x="438.4" y="119.1" font-size="8.4" fill="#1a1a1a" text-anchor="end" stroke="#1a1a1a" stroke-width="0.15">10<tspan dy="-3" font-size="6.4">5</tspan></text>
<text x="438.4" y="137.9" font-size="8.4" fill="#1a1a1a" text-anchor="end" stroke="#1a1a1a" stroke-width="0.15">10<tspan dy="-3" font-size="6.4">4</tspan></text>
<text x="438.4" y="155.2" font-size="8.4" fill="#1a1a1a" text-anchor="end" stroke="#1a1a1a" stroke-width="0.15">10<tspan dy="-3" font-size="6.4">3</tspan></text>
<text x="437.5" y="164.6" font-size="8.4" fill="#1a1a1a" text-anchor="end" transform="translate(437.5 164.6) scale(1.1 1) translate(-437.5 -164.6)" stroke="#1a1a1a" stroke-width="0.15">0</text>
<text x="438.4" y="175.5" font-size="8.4" fill="#1a1a1a" text-anchor="end" stroke="#1a1a1a" stroke-width="0.15">-10<tspan dy="-3" font-size="6.4">3</tspan></text>
<line x1="441.3" y1="129.34" x2="443" y2="129.34" stroke="#111" stroke-width="0.6"/>
<line x1="441.3" y1="126.03" x2="443" y2="126.03" stroke="#111" stroke-width="0.6"/>
<line x1="441.3" y1="123.68" x2="443" y2="123.68" stroke="#111" stroke-width="0.6"/>
<line x1="441.3" y1="121.86" x2="443" y2="121.86" stroke="#111" stroke-width="0.6"/>
<line x1="441.3" y1="120.37" x2="443" y2="120.37" stroke="#111" stroke-width="0.6"/>
<line x1="441.3" y1="119.11" x2="443" y2="119.11" stroke="#111" stroke-width="0.6"/>
<line x1="441.3" y1="118.02" x2="443" y2="118.02" stroke="#111" stroke-width="0.6"/>
<line x1="441.3" y1="117.06" x2="443" y2="117.06" stroke="#111" stroke-width="0.6"/>
<line x1="441.3" y1="147.09" x2="443" y2="147.09" stroke="#111" stroke-width="0.6"/>
<line x1="441.3" y1="144.05" x2="443" y2="144.05" stroke="#111" stroke-width="0.6"/>
<line x1="441.3" y1="141.88" x2="443" y2="141.88" stroke="#111" stroke-width="0.6"/>
<line x1="441.3" y1="140.21" x2="443" y2="140.21" stroke="#111" stroke-width="0.6"/>
<line x1="441.3" y1="138.84" x2="443" y2="138.84" stroke="#111" stroke-width="0.6"/>
<line x1="441.3" y1="137.68" x2="443" y2="137.68" stroke="#111" stroke-width="0.6"/>
<line x1="441.3" y1="136.68" x2="443" y2="136.68" stroke="#111" stroke-width="0.6"/>
<line x1="441.3" y1="135.79" x2="443" y2="135.79" stroke="#111" stroke-width="0.6"/>
<line x1="441.3" y1="155.4" x2="443" y2="155.4" stroke="#111" stroke-width="0.6"/>
<line x1="441.3" y1="165.3" x2="443" y2="165.3" stroke="#111" stroke-width="0.6"/>
<line x1="441.3" y1="158.5" x2="443" y2="158.5" stroke="#111" stroke-width="0.6"/>
<line x1="441.3" y1="168.89" x2="443" y2="168.89" stroke="#111" stroke-width="0.6"/>
<rect x="440.6" y="159.9" width="2.4" height="3.6" fill="#111"/>
<line x1="443.6" y1="176.3" x2="443.6" y2="179.3" stroke="#111" stroke-width="0.9"/>
<text x="446.4" y="185.5" font-size="7" fill="#1a1a1a" text-anchor="end" transform="rotate(-45 446.4 185.5) translate(446.4 185.5) scale(1.08 1) translate(-446.4 -185.5)" stroke="#1a1a1a" stroke-width="0.15">0</text>
<line x1="456.2" y1="176.3" x2="456.2" y2="179.3" stroke="#111" stroke-width="0.9"/>
<text x="459" y="185.5" font-size="7" fill="#1a1a1a" text-anchor="end" transform="rotate(-45 459 185.5) translate(459 185.5) scale(1.2 1) translate(-459 -185.5)" stroke="#1a1a1a" stroke-width="0.15">50K</text>
<line x1="468.8" y1="176.3" x2="468.8" y2="179.3" stroke="#111" stroke-width="0.9"/>
<text x="471.6" y="185.5" font-size="7" fill="#1a1a1a" text-anchor="end" transform="rotate(-45 471.6 185.5) translate(471.6 185.5) scale(1.2 1) translate(-471.6 -185.5)" stroke="#1a1a1a" stroke-width="0.15">100K</text>
<line x1="481.4" y1="176.3" x2="481.4" y2="179.3" stroke="#111" stroke-width="0.9"/>
<text x="484.2" y="185.5" font-size="7" fill="#1a1a1a" text-anchor="end" transform="rotate(-45 484.2 185.5) translate(484.2 185.5) scale(1.2 1) translate(-484.2 -185.5)" stroke="#1a1a1a" stroke-width="0.15">150K</text>
<line x1="494" y1="176.3" x2="494" y2="179.3" stroke="#111" stroke-width="0.9"/>
<text x="496.8" y="185.5" font-size="7" fill="#1a1a1a" text-anchor="end" transform="rotate(-45 496.8 185.5) translate(496.8 185.5) scale(1.21 1) translate(-496.8 -185.5)" stroke="#1a1a1a" stroke-width="0.15">200K</text>
<line x1="506.6" y1="176.3" x2="506.6" y2="179.3" stroke="#111" stroke-width="0.9"/>
<text x="509.4" y="185.5" font-size="7" fill="#1a1a1a" text-anchor="end" transform="rotate(-45 509.4 185.5) translate(509.4 185.5) scale(1.21 1) translate(-509.4 -185.5)" stroke="#1a1a1a" stroke-width="0.15">250K</text>
<line x1="443.6" y1="176.3" x2="443.6" y2="178" stroke="#111" stroke-width="0.6"/>
<line x1="446.12" y1="176.3" x2="446.12" y2="178" stroke="#111" stroke-width="0.6"/>
<line x1="448.64" y1="176.3" x2="448.64" y2="178" stroke="#111" stroke-width="0.6"/>
<line x1="451.16" y1="176.3" x2="451.16" y2="178" stroke="#111" stroke-width="0.6"/>
<line x1="453.68" y1="176.3" x2="453.68" y2="178" stroke="#111" stroke-width="0.6"/>
<line x1="456.2" y1="176.3" x2="456.2" y2="178" stroke="#111" stroke-width="0.6"/>
<line x1="458.72" y1="176.3" x2="458.72" y2="178" stroke="#111" stroke-width="0.6"/>
<line x1="461.24" y1="176.3" x2="461.24" y2="178" stroke="#111" stroke-width="0.6"/>
<line x1="463.76" y1="176.3" x2="463.76" y2="178" stroke="#111" stroke-width="0.6"/>
<line x1="466.28" y1="176.3" x2="466.28" y2="178" stroke="#111" stroke-width="0.6"/>
<line x1="468.8" y1="176.3" x2="468.8" y2="178" stroke="#111" stroke-width="0.6"/>
<line x1="471.32" y1="176.3" x2="471.32" y2="178" stroke="#111" stroke-width="0.6"/>
<line x1="473.84" y1="176.3" x2="473.84" y2="178" stroke="#111" stroke-width="0.6"/>
<line x1="476.36" y1="176.3" x2="476.36" y2="178" stroke="#111" stroke-width="0.6"/>
<line x1="478.88" y1="176.3" x2="478.88" y2="178" stroke="#111" stroke-width="0.6"/>
<line x1="481.4" y1="176.3" x2="481.4" y2="178" stroke="#111" stroke-width="0.6"/>
<line x1="483.92" y1="176.3" x2="483.92" y2="178" stroke="#111" stroke-width="0.6"/>
<line x1="486.44" y1="176.3" x2="486.44" y2="178" stroke="#111" stroke-width="0.6"/>
<line x1="488.96" y1="176.3" x2="488.96" y2="178" stroke="#111" stroke-width="0.6"/>
<line x1="491.48" y1="176.3" x2="491.48" y2="178" stroke="#111" stroke-width="0.6"/>
<line x1="494" y1="176.3" x2="494" y2="178" stroke="#111" stroke-width="0.6"/>
<line x1="496.52" y1="176.3" x2="496.52" y2="178" stroke="#111" stroke-width="0.6"/>
<line x1="499.04" y1="176.3" x2="499.04" y2="178" stroke="#111" stroke-width="0.6"/>
<line x1="501.56" y1="176.3" x2="501.56" y2="178" stroke="#111" stroke-width="0.6"/>
<line x1="504.08" y1="176.3" x2="504.08" y2="178" stroke="#111" stroke-width="0.6"/>
<line x1="506.6" y1="176.3" x2="506.6" y2="178" stroke="#111" stroke-width="0.6"/>
<line x1="509.12" y1="176.3" x2="509.12" y2="178" stroke="#111" stroke-width="0.6"/>
<path d="M478.5 157.3h0.8M485.4 155.8h0.8M459.5 135.3h0.8M470.3 155.1h0.8M476.8 155.2h0.8M481.8 123.5h0.8M478.7 159.8h0.8M456.9 122.2h0.8M459.4 152.7h0.8M459.2 128.1h0.8M460.9 119.0h0.8M470.3 156.1h0.8M464.5 130.0h0.8M453.2 151.8h0.8M485.8 159.3h0.8M475.5 151.8h0.8M484.4 150.9h0.8M453.2 130.1h0.8M473.1 150.4h0.8M454.8 140.9h0.8M452.9 124.6h0.8M459.6 121.2h0.8M469.5 145.7h0.8M468.6 120.7h0.8M460.6 120.4h0.8M474.5 135.7h0.8M469.9 131.1h0.8M469.1 118.9h0.8M470.8 145.3h0.8M471.4 126.6h0.8M462.8 135.2h0.8M476.3 148.9h0.8M466.8 121.5h0.8M479.3 129.8h0.8M472.2 125.8h0.8M474.1 119.0h0.8M467.6 142.7h0.8M462.4 160.7h0.8M466.0 118.5h0.8M466.4 118.0h0.8M465.1 119.5h0.8M463.7 142.4h0.8M475.1 132.4h0.8M483.8 144.1h0.8M473.9 148.5h0.8M471.0 130.0h0.8M470.4 143.2h0.8M459.4 120.6h0.8M465.5 133.1h0.8M470.9 124.6h0.8M476.9 160.0h0.8M475.1 119.3h0.8M469.0 159.0h0.8M469.4 146.1h0.8M465.4 154.1h0.8M483.1 119.9h0.8M470.3 157.0h0.8M474.5 118.5h0.8M481.7 149.1h0.8M473.6 141.3h0.8M457.2 129.5h0.8M459.7 118.1h0.8M472.6 136.4h0.8M473.8 159.5h0.8M478.3 151.2h0.8M466.8 152.7h0.8M477.2 121.6h0.8M470.8 119.4h0.8M476.6 156.4h0.8M466.8 121.3h0.8M460.8 155.6h0.8M466.5 123.7h0.8M474.0 126.6h0.8M458.0 156.3h0.8M474.8 143.0h0.8M459.1 159.1h0.8M465.6 148.2h0.8M477.6 156.6h0.8M465.8 122.9h0.8M468.6 120.7h0.8M483.4 151.1h0.8M468.1 129.0h0.8M458.7 147.3h0.8M466.7 157.8h0.8M456.6 150.9h0.8M481.3 144.5h0.8M466.3 137.9h0.8M456.3 123.4h0.8M472.8 143.0h0.8M482.0 158.0h0.8M454.4 146.3h0.8M481.3 136.0h0.8M462.8 150.8h0.8M452.9 121.1h0.8M477.8 120.9h0.8M471.9 152.7h0.8M474.8 121.3h0.8M485.1 148.8h0.8M474.8 152.4h0.8M465.0 151.9h0.8M486.2 123.4h0.8M465.0 145.2h0.8M456.0 130.5h0.8M459.0 122.0h0.8M478.7 143.1h0.8M472.8 127.4h0.8M484.0 136.0h0.8M471.4 159.3h0.8M486.3 137.1h0.8M454.3 131.1h0.8M458.0 157.9h0.8M478.6 151.6h0.8M475.0 155.6h0.8M479.8 118.2h0.8M473.4 157.6h0.8M461.0 158.3h0.8M460.4 148.1h0.8M483.7 158.8h0.8M456.5 124.5h0.8M478.9 118.0h0.8M481.9 151.8h0.8M465.6 123.0h0.8M470.3 119.8h0.8M453.4 119.6h0.8M477.8 128.7h0.8M469.1 119.7h0.8M480.6 146.9h0.8M460.9 118.8h0.8M462.2 134.5h0.8M461.3 121.5h0.8M480.0 130.0h0.8M467.7 118.5h0.8M463.7 124.1h0.8M456.7 129.9h0.8M457.7 155.0h0.8M483.4 156.5h0.8M485.3 157.4h0.8M456.4 124.8h0.8M457.3 123.7h0.8M467.6 143.8h0.8M453.2 124.3h0.8M462.9 119.9h0.8M483.4 151.8h0.8M464.0 160.1h0.8M453.4 127.6h0.8M460.5 142.1h0.8M462.4 130.5h0.8M474.1 151.5h0.8M462.9 118.0h0.8M465.6 157.7h0.8M467.3 127.5h0.8M469.4 153.8h0.8M466.7 157.5h0.8M455.6 154.7h0.8M471.2 154.0h0.8M484.5 158.8h0.8M468.6 131.6h0.8M484.3 120.9h0.8M476.6 120.9h0.8M485.8 122.1h0.8M480.0 150.4h0.8M479.9 153.0h0.8M464.9 149.1h0.8M484.6 123.1h0.8M477.7 154.1h0.8M461.5 122.3h0.8M471.9 159.0h0.8M481.5 132.6h0.8M485.3 142.5h0.8M456.2 117.7h0.8M482.2 152.5h0.8M479.5 159.8h0.8M485.0 152.1h0.8M462.9 158.5h0.8M465.0 133.6h0.8M458.3 154.5h0.8M465.8 128.4h0.8M469.7 122.7h0.8M458.0 155.8h0.8M467.7 129.0h0.8M454.2 128.0h0.8M464.9 135.6h0.8M468.2 152.9h0.8M454.0 123.9h0.8M466.5 120.3h0.8M461.8 131.1h0.8M472.4 118.5h0.8M454.5 138.6h0.8M469.6 120.4h0.8M458.2 122.4h0.8M481.2 124.1h0.8M472.3 127.1h0.8M476.0 123.4h0.8M483.9 153.1h0.8M483.4 158.5h0.8M474.4 154.4h0.8M461.4 123.9h0.8M486.0 145.5h0.8M464.1 122.6h0.8M453.4 122.1h0.8M482.7 139.6h0.8M453.1 134.4h0.8M478.4 151.3h0.8M483.2 145.9h0.8M480.3 127.1h0.8M464.9 160.0h0.8M470.5 152.4h0.8M465.9 120.5h0.8M453.6 153.4h0.8M455.1 120.2h0.8M470.2 139.3h0.8M456.3 141.3h0.8M455.7 146.8h0.8M478.5 138.5h0.8M472.9 119.8h0.8M476.6 119.9h0.8M467.6 133.5h0.8M475.1 160.4h0.8M484.7 129.5h0.8M457.2 157.8h0.8M464.8 124.5h0.8M468.9 150.6h0.8M476.9 119.2h0.8M476.0 129.0h0.8M460.8 134.1h0.8M479.0 123.4h0.8M467.7 155.4h0.8M464.7 152.6h0.8M473.8 157.2h0.8M470.7 152.7h0.8M477.9 118.3h0.8M463.4 120.7h0.8M470.7 151.2h0.8M475.2 153.5h0.8M470.7 137.2h0.8M485.8 142.8h0.8M459.2 118.4h0.8M481.5 156.2h0.8M465.4 152.3h0.8M479.3 122.6h0.8M473.4 155.3h0.8M485.9 142.5h0.8M463.3 118.9h0.8M463.8 158.7h0.8M475.5 127.2h0.8M472.0 122.5h0.8M482.6 119.8h0.8M485.7 123.3h0.8M454.1 150.4h0.8M484.8 147.6h0.8M468.7 135.9h0.8M467.9 153.1h0.8M464.6 127.4h0.8M465.2 126.5h0.8M463.0 159.3h0.8M461.5 122.2h0.8M457.1 122.1h0.8M479.2 118.1h0.8M477.8 154.4h0.8M457.5 148.9h0.8M461.2 159.1h0.8M471.2 141.8h0.8M458.1 148.9h0.8M473.7 130.1h0.8M484.9 151.8h0.8M486.1 125.9h0.8M484.1 153.9h0.8M479.4 132.1h0.8M471.0 147.5h0.8M463.3 154.5h0.8M472.0 130.1h0.8M455.9 146.0h0.8M455.6 129.6h0.8M458.7 118.1h0.8M463.5 121.2h0.8M471.4 143.4h0.8M482.2 157.8h0.8M459.2 120.1h0.8M468.4 150.9h0.8M472.7 144.9h0.8M476.0 130.3h0.8M456.0 147.1h0.8M484.3 148.6h0.8M475.0 145.1h0.8M457.5 123.6h0.8M481.4 152.8h0.8M456.8 157.0h0.8M460.6 151.6h0.8M463.3 142.4h0.8M462.1 124.6h0.8M483.9 121.8h0.8M462.3 130.1h0.8M483.7 123.0h0.8M467.1 119.1h0.8M484.3 127.3h0.8M455.5 126.8h0.8M472.2 141.2h0.8M466.7 137.9h0.8M484.3 153.4h0.8M472.3 127.6h0.8M484.2 120.2h0.8M474.9 123.5h0.8M459.7 135.1h0.8M475.9 129.4h0.8M456.3 150.7h0.8M478.3 147.3h0.8M467.1 124.5h0.8M476.2 147.5h0.8M480.7 157.0h0.8M480.8 153.2h0.8M482.4 118.4h0.8M481.6 147.6h0.8M480.9 140.3h0.8M459.9 152.8h0.8M468.4 120.7h0.8M477.4 128.2h0.8M480.5 149.3h0.8M472.4 123.7h0.8M473.0 121.6h0.8M458.8 147.8h0.8M464.2 152.6h0.8M484.7 121.8h0.8M484.3 153.1h0.8M463.4 150.5h0.8M480.9 135.2h0.8M481.3 151.4h0.8M459.6 145.0h0.8M452.7 150.1h0.8M482.7 145.1h0.8M467.1 126.7h0.8M478.7 120.4h0.8M469.1 122.8h0.8M468.5 122.0h0.8M468.8 149.5h0.8M470.3 124.6h0.8M475.7 130.7h0.8M485.4 119.5h0.8M484.2 150.6h0.8M472.0 146.6h0.8M453.7 157.2h0.8M473.8 119.7h0.8M468.2 133.6h0.8M472.2 124.6h0.8M455.6 143.5h0.8M463.4 155.0h0.8M473.5 157.3h0.8M484.1 124.7h0.8M476.8 159.8h0.8M480.5 124.0h0.8M462.2 123.9h0.8M453.6 136.2h0.8M480.9 138.2h0.8M467.7 159.1h0.8M474.8 123.1h0.8M479.6 140.4h0.8M483.4 128.4h0.8M465.9 151.7h0.8M486.3 154.0h0.8M465.7 148.7h0.8M483.3 152.1h0.8M475.9 155.7h0.8M469.7 132.4h0.8M480.1 152.3h0.8M475.1 154.4h0.8M472.1 129.3h0.8M475.8 118.7h0.8M455.1 117.9h0.8M485.1 128.2h0.8M453.4 133.6h0.8M479.8 132.0h0.8M459.8 159.1h0.8M454.5 151.5h0.8M471.3 130.7h0.8M483.4 151.9h0.8M483.1 151.1h0.8M472.6 154.6h0.8M463.5 135.4h0.8M471.7 142.3h0.8M467.7 123.0h0.8M484.1 147.4h0.8M456.2 156.0h0.8M471.5 152.4h0.8M484.3 154.7h0.8M479.5 154.4h0.8M465.3 118.0h0.8M462.4 160.4h0.8M465.0 141.5h0.8M468.7 156.1h0.8M473.7 150.3h0.8M484.5 132.4h0.8M467.0 127.4h0.8M486.4 148.9h0.8M460.0 136.4h0.8M460.3 145.7h0.8M482.2 155.8h0.8M455.6 152.5h0.8M477.2 127.2h0.8M476.2 156.1h0.8M453.7 158.3h0.8M465.4 158.5h0.8M472.8 157.7h0.8M469.8 148.7h0.8M475.9 137.8h0.8M455.0 139.0h0.8M475.9 154.8h0.8M484.3 119.1h0.8M462.6 153.3h0.8M468.1 122.3h0.8M480.1 157.8h0.8M460.3 151.0h0.8M459.8 118.3h0.8M474.5 142.2h0.8M464.1 135.5h0.8M471.4 136.4h0.8M466.1 145.0h0.8M480.9 141.2h0.8M482.5 119.3h0.8M464.8 154.2h0.8M481.4 157.4h0.8M468.9 153.5h0.8M468.3 154.3h0.8M457.0 126.0h0.8M460.0 133.4h0.8M479.7 135.9h0.8M470.9 155.6h0.8M479.2 120.8h0.8M467.1 136.0h0.8M468.0 139.3h0.8M459.2 124.0h0.8M458.3 151.7h0.8M479.1 123.5h0.8M478.5 160.4h0.8M462.3 125.0h0.8M458.2 141.5h0.8M482.2 146.7h0.8M474.2 134.7h0.8M478.8 121.0h0.8M478.2 154.9h0.8M454.3 146.4h0.8M461.9 125.4h0.8M463.7 131.1h0.8M471.3 158.7h0.8M462.4 121.6h0.8M470.2 146.6h0.8M470.7 153.9h0.8M453.4 150.2h0.8M456.1 157.0h0.8M457.0 132.8h0.8M460.9 153.3h0.8M482.4 118.6h0.8M461.7 152.3h0.8M466.8 158.3h0.8M467.5 130.0h0.8M468.1 128.6h0.8M483.3 158.8h0.8M458.7 153.1h0.8M475.4 140.7h0.8M476.9 138.1h0.8M485.2 124.8h0.8M464.8 123.2h0.8M468.7 139.3h0.8M475.8 149.8h0.8M460.4 130.0h0.8M455.2 156.6h0.8M465.8 123.7h0.8M466.1 141.3h0.8M453.5 153.7h0.8M476.4 159.1h0.8M475.4 158.7h0.8M468.1 157.4h0.8M465.0 140.1h0.8M476.2 127.2h0.8M467.9 118.2h0.8M479.2 118.9h0.8M469.3 148.9h0.8M481.3 152.7h0.8M464.5 119.8h0.8M463.6 140.8h0.8M466.1 117.8h0.8M467.9 144.2h0.8M470.4 129.4h0.8M466.2 135.5h0.8M461.2 128.3h0.8M477.7 155.8h0.8M460.8 155.8h0.8M469.3 129.0h0.8M477.7 153.0h0.8M454.7 122.6h0.8M470.4 132.4h0.8M475.1 121.4h0.8M484.7 160.0h0.8M473.9 159.6h0.8M468.7 118.2h0.8M474.9 123.7h0.8M453.2 120.3h0.8M460.1 158.6h0.8M464.8 140.2h0.8M454.4 158.2h0.8M472.4 152.6h0.8M468.6 154.3h0.8M459.2 148.8h0.8M485.3 130.1h0.8M459.6 119.9h0.8M473.5 122.0h0.8M455.6 137.2h0.8M462.3 128.3h0.8M476.0 152.8h0.8M481.1 122.8h0.8M465.6 147.9h0.8M466.1 118.2h0.8M480.6 123.2h0.8M464.1 157.6h0.8M475.7 146.8h0.8M456.6 123.6h0.8M455.3 129.8h0.8M454.2 137.3h0.8M467.8 158.5h0.8M480.1 153.4h0.8M481.6 141.8h0.8M472.6 133.0h0.8" stroke="#7c86d0" stroke-opacity="0.4" stroke-width="0.8" fill="none"/>
<path d="M474.0 158.1h0.8M467.1 159.0h0.8M466.7 155.9h0.8M468.3 157.2h0.8M466.9 159.6h0.8M463.6 155.3h0.8M477.3 158.9h0.8M473.7 158.6h0.8M469.7 157.8h0.8M478.6 158.5h0.8M469.8 156.7h0.8M457.2 160.2h0.8M477.1 161.4h0.8M469.8 157.3h0.8M462.0 158.0h0.8M468.7 159.2h0.8M459.2 159.6h0.8M464.5 157.9h0.8M470.8 158.4h0.8M458.7 159.9h0.8M469.7 159.9h0.8M460.9 157.2h0.8M466.1 157.1h0.8M475.0 162.9h0.8M460.9 156.2h0.8M456.8 159.6h0.8M477.1 156.9h0.8M460.4 157.4h0.8M456.1 159.3h0.8M467.3 159.1h0.8M476.0 159.9h0.8M461.1 158.2h0.8M463.1 156.5h0.8M460.2 158.7h0.8M471.6 159.8h0.8M480.0 158.6h0.8M469.8 158.3h0.8M458.8 161.2h0.8M459.0 159.2h0.8M459.6 161.3h0.8M455.8 159.2h0.8M466.2 154.4h0.8M480.2 155.3h0.8M470.3 161.5h0.8M463.2 155.9h0.8M469.4 160.4h0.8M465.6 157.4h0.8M466.5 160.2h0.8M472.1 157.8h0.8M461.0 156.1h0.8M470.1 159.1h0.8M462.5 156.8h0.8M478.2 159.6h0.8M475.2 157.2h0.8M461.3 159.8h0.8M475.4 159.8h0.8M458.6 158.8h0.8M458.9 154.7h0.8M470.1 157.3h0.8M474.0 158.2h0.8M464.2 159.1h0.8M471.6 158.1h0.8M466.7 160.0h0.8M465.6 158.1h0.8M456.4 158.6h0.8M462.6 161.0h0.8M473.9 159.9h0.8M479.6 158.7h0.8M476.1 157.8h0.8M467.4 158.8h0.8M464.9 157.7h0.8M462.4 156.9h0.8M466.5 156.5h0.8M464.6 157.6h0.8M480.9 153.9h0.8M465.7 160.9h0.8M470.9 162.7h0.8M458.3 157.2h0.8M467.8 155.4h0.8M461.2 157.2h0.8M465.9 159.1h0.8M460.1 159.9h0.8M478.3 157.0h0.8M458.5 158.5h0.8M480.4 157.3h0.8M475.3 155.4h0.8M481.2 158.0h0.8M464.9 160.8h0.8M476.7 158.8h0.8M471.6 155.7h0.8M459.1 158.8h0.8M472.0 158.6h0.8M460.4 157.4h0.8M469.4 158.3h0.8M461.9 162.0h0.8M468.0 157.1h0.8M477.9 159.9h0.8M469.0 160.4h0.8M467.9 158.6h0.8M468.9 163.1h0.8M468.0 162.1h0.8M467.2 158.3h0.8M455.0 154.2h0.8M463.4 161.6h0.8M473.1 157.2h0.8M466.1 157.5h0.8M469.7 157.2h0.8M463.8 160.2h0.8M470.0 159.3h0.8M469.8 157.2h0.8M459.7 158.6h0.8M472.0 160.1h0.8M458.8 158.4h0.8M470.4 160.5h0.8M475.4 155.5h0.8M468.0 157.2h0.8M476.8 157.3h0.8M469.3 157.7h0.8M463.5 156.3h0.8M462.0 160.3h0.8M457.8 156.1h0.8M460.2 163.7h0.8M465.5 158.6h0.8M475.4 158.9h0.8M472.9 159.2h0.8M466.4 156.8h0.8M480.5 157.7h0.8M476.8 158.6h0.8M471.1 157.7h0.8M468.8 159.0h0.8M470.4 157.9h0.8M479.4 157.7h0.8M462.3 158.4h0.8M472.0 160.7h0.8M462.6 159.2h0.8M467.0 156.5h0.8M456.9 159.5h0.8M474.8 161.4h0.8M462.5 156.6h0.8M460.4 159.1h0.8M467.7 155.4h0.8M473.5 154.6h0.8M466.1 159.9h0.8M471.0 158.7h0.8M465.2 156.3h0.8M468.2 160.0h0.8M469.0 158.9h0.8M478.4 155.4h0.8M458.1 157.1h0.8M465.8 158.3h0.8M472.5 156.3h0.8M458.6 153.6h0.8M469.5 157.7h0.8M467.4 157.4h0.8M471.9 153.9h0.8M472.2 155.3h0.8M465.6 155.9h0.8M473.4 159.3h0.8M468.5 155.4h0.8M477.7 161.0h0.8M461.3 155.0h0.8M460.1 155.9h0.8M470.2 158.2h0.8M482.4 156.8h0.8M478.5 154.7h0.8M473.0 158.6h0.8M474.3 158.4h0.8M467.4 160.4h0.8M470.2 156.1h0.8M456.4 157.1h0.8M455.6 157.2h0.8M474.8 160.1h0.8M460.4 157.8h0.8M474.4 160.7h0.8M470.2 161.0h0.8M471.0 157.1h0.8M469.8 158.4h0.8M471.3 157.2h0.8M484.7 160.2h0.8M460.0 159.2h0.8M475.8 159.4h0.8M465.8 159.1h0.8M471.6 160.5h0.8M476.4 154.4h0.8M471.2 154.6h0.8M474.2 159.0h0.8M473.1 158.2h0.8M463.8 158.7h0.8M470.3 159.1h0.8M455.1 159.0h0.8M462.4 161.5h0.8M466.6 160.5h0.8M466.4 161.3h0.8M480.9 156.1h0.8M459.3 158.7h0.8M467.1 160.1h0.8M483.2 155.6h0.8M467.4 158.5h0.8M472.9 159.4h0.8M467.9 157.6h0.8M472.1 156.8h0.8M475.1 158.4h0.8M470.2 158.0h0.8M466.5 159.9h0.8M475.4 162.1h0.8M468.5 160.2h0.8M473.6 155.2h0.8M463.8 158.0h0.8M467.6 159.8h0.8M457.6 158.3h0.8M467.3 157.9h0.8M459.0 157.4h0.8M476.8 161.9h0.8M465.4 158.1h0.8M473.2 157.6h0.8M469.3 158.0h0.8M473.2 154.9h0.8M457.7 156.8h0.8M456.5 158.2h0.8M480.4 156.0h0.8M462.3 160.0h0.8M466.4 158.6h0.8M455.7 160.8h0.8M462.9 158.6h0.8M462.5 160.0h0.8M467.9 154.3h0.8M478.8 157.5h0.8M466.5 159.5h0.8M463.1 156.7h0.8M460.9 159.0h0.8M470.4 161.7h0.8M457.5 156.5h0.8M457.3 155.7h0.8M477.4 155.1h0.8M471.3 159.0h0.8M479.2 158.6h0.8M463.6 158.9h0.8M461.6 159.7h0.8M465.4 157.8h0.8M463.6 160.1h0.8M475.7 155.8h0.8M460.0 162.0h0.8M471.4 153.5h0.8M476.8 159.9h0.8M465.3 156.3h0.8M461.1 157.1h0.8M465.3 155.2h0.8M471.4 153.3h0.8M461.4 164.0h0.8M463.9 157.5h0.8M479.6 158.9h0.8M472.4 160.0h0.8M481.5 156.6h0.8M456.2 159.5h0.8M456.1 159.4h0.8M466.5 160.4h0.8M473.7 161.8h0.8M470.6 156.9h0.8M462.7 162.8h0.8M464.1 158.6h0.8M470.2 155.1h0.8M467.5 158.0h0.8M470.5 158.3h0.8M464.8 159.2h0.8M455.1 160.9h0.8M467.3 159.5h0.8M469.8 158.0h0.8M467.7 156.1h0.8M467.6 161.3h0.8M466.0 159.2h0.8M478.9 160.6h0.8M475.1 158.8h0.8M457.0 158.4h0.8M466.3 160.4h0.8M469.6 158.9h0.8M468.0 157.5h0.8M462.8 159.3h0.8M467.5 158.3h0.8M465.8 156.9h0.8M468.7 159.5h0.8M469.4 157.4h0.8M471.6 155.7h0.8M456.4 159.5h0.8M456.8 156.6h0.8M466.9 158.0h0.8M468.0 156.1h0.8M474.4 156.5h0.8M466.3 160.2h0.8M465.0 157.9h0.8M482.4 160.2h0.8M475.6 158.9h0.8M462.9 157.1h0.8M472.5 160.5h0.8M471.2 158.1h0.8M459.2 160.5h0.8M466.0 154.1h0.8M469.4 160.0h0.8M469.2 157.9h0.8M474.7 160.7h0.8M476.4 158.0h0.8M478.8 162.0h0.8M469.4 156.6h0.8M470.9 159.2h0.8M475.9 157.1h0.8M469.4 159.5h0.8M466.3 160.6h0.8M466.4 163.9h0.8M466.8 158.6h0.8M460.9 156.8h0.8M462.8 158.1h0.8M466.3 157.0h0.8M475.3 162.0h0.8M464.6 157.0h0.8M476.0 159.1h0.8M478.1 161.3h0.8M465.3 160.3h0.8M457.5 161.2h0.8M466.1 161.7h0.8M470.2 159.1h0.8M461.1 155.3h0.8M456.8 159.0h0.8M463.4 161.0h0.8M460.2 159.6h0.8M465.9 159.2h0.8M463.7 157.5h0.8M468.5 155.4h0.8M465.0 156.0h0.8M471.7 159.6h0.8M457.1 157.8h0.8M473.7 157.5h0.8M463.7 156.9h0.8M470.0 160.3h0.8" stroke="#5a6cc8" stroke-opacity="0.5" stroke-width="0.8" fill="none"/>
<rect x="452.67" y="158.3" width="18.14" height="3.2" fill="#78b4e4" fill-opacity="0.6" filter="url(#sb)"/>
<rect x="452.67" y="159" width="19.91" height="2.2" fill="url(#pig)" rx="1"/>
<line x1="443" y1="153.1" x2="510.4" y2="153.1" stroke="#b8b8b8" stroke-width="0.85"/>
<text x="470.06" y="162.9" font-size="2.7" fill="#777">N-Negative</text>
<text x="474.34" y="166.3" font-size="2.7" fill="#777">93.x</text>
<rect x="443" y="113" width="67.4" height="63.3" fill="none" stroke="#111" stroke-width="1.2"/>
<text x="200.6" y="48.8" font-size="10.4" fill="#1a1a1a" text-anchor="middle" transform="rotate(-90 200.6 48.8) translate(200.6 48.8) scale(0.56 1) translate(-200.6 -48.8)" stroke="#1a1a1a" stroke-width="0.28">SSC</text>
<text x="199.6" y="144.2" font-size="9" fill="#1a1a1a" text-anchor="middle" transform="rotate(-90 199.6 144.2) translate(199.6 144.2) scale(0.73 1) translate(-199.6 -144.2)" stroke="#1a1a1a" stroke-width="0.25">PI</text>
<line x1="245.4" y1="211" x2="252.2" y2="211" stroke="#c0264a" stroke-width="1.4"/>
<text x="255.4" y="213.7" font-size="7.6" fill="#1a1a1a" transform="translate(255.4 213.7) scale(0.95 1) translate(-255.4 -213.7)" stroke="#1a1a1a" stroke-width="0.22">Isotype</text>
<line x1="245.4" y1="222.2" x2="252.2" y2="222.2" stroke="#3a5a9a" stroke-width="1.4"/>
<text x="255.4" y="224.9" font-size="7.6" fill="#1a1a1a" transform="translate(255.4 224.9) scale(0.98 1) translate(-255.4 -224.9)" stroke="#1a1a1a" stroke-width="0.22">ITGB3</text>
<line x1="229.3" y1="285.7" x2="232.3" y2="285.7" stroke="#111" stroke-width="0.9"/>
<text x="226.1" y="288.4" font-size="7.4" fill="#1a1a1a" text-anchor="end" transform="translate(226.1 288.4) scale(1.14 1) translate(-226.1 -288.4)" stroke="#1a1a1a" stroke-width="0.15">0</text>
<line x1="229.3" y1="271.6" x2="232.3" y2="271.6" stroke="#111" stroke-width="0.9"/>
<text x="226.1" y="274.3" font-size="7.4" fill="#1a1a1a" text-anchor="end" transform="translate(226.1 274.3) scale(1.14 1) translate(-226.1 -274.3)" stroke="#1a1a1a" stroke-width="0.15">200</text>
<line x1="229.3" y1="257.5" x2="232.3" y2="257.5" stroke="#111" stroke-width="0.9"/>
<text x="226.1" y="260.2" font-size="7.4" fill="#1a1a1a" text-anchor="end" transform="translate(226.1 260.2) scale(1.14 1) translate(-226.1 -260.2)" stroke="#1a1a1a" stroke-width="0.15">400</text>
<line x1="229.3" y1="243.4" x2="232.3" y2="243.4" stroke="#111" stroke-width="0.9"/>
<text x="226.1" y="246.1" font-size="7.4" fill="#1a1a1a" text-anchor="end" transform="translate(226.1 246.1) scale(1.14 1) translate(-226.1 -246.1)" stroke="#1a1a1a" stroke-width="0.15">600</text>
<line x1="230.6" y1="285.7" x2="232.3" y2="285.7" stroke="#111" stroke-width="0.6"/>
<line x1="230.6" y1="282.18" x2="232.3" y2="282.18" stroke="#111" stroke-width="0.6"/>
<line x1="230.6" y1="278.65" x2="232.3" y2="278.65" stroke="#111" stroke-width="0.6"/>
<line x1="230.6" y1="275.12" x2="232.3" y2="275.12" stroke="#111" stroke-width="0.6"/>
<line x1="230.6" y1="271.6" x2="232.3" y2="271.6" stroke="#111" stroke-width="0.6"/>
<line x1="230.6" y1="268.07" x2="232.3" y2="268.07" stroke="#111" stroke-width="0.6"/>
<line x1="230.6" y1="264.55" x2="232.3" y2="264.55" stroke="#111" stroke-width="0.6"/>
<line x1="230.6" y1="261.02" x2="232.3" y2="261.02" stroke="#111" stroke-width="0.6"/>
<line x1="230.6" y1="257.5" x2="232.3" y2="257.5" stroke="#111" stroke-width="0.6"/>
<line x1="230.6" y1="253.97" x2="232.3" y2="253.97" stroke="#111" stroke-width="0.6"/>
<line x1="230.6" y1="250.45" x2="232.3" y2="250.45" stroke="#111" stroke-width="0.6"/>
<line x1="230.6" y1="246.92" x2="232.3" y2="246.92" stroke="#111" stroke-width="0.6"/>
<line x1="230.6" y1="243.4" x2="232.3" y2="243.4" stroke="#111" stroke-width="0.6"/>
<line x1="230.6" y1="239.88" x2="232.3" y2="239.88" stroke="#111" stroke-width="0.6"/>
<line x1="230.6" y1="236.35" x2="232.3" y2="236.35" stroke="#111" stroke-width="0.6"/>
<line x1="230.6" y1="232.82" x2="232.3" y2="232.82" stroke="#111" stroke-width="0.6"/>
<line x1="234.5" y1="286.1" x2="234.5" y2="288.9" stroke="#111" stroke-width="0.9"/>
<text x="239.9" y="295.9" font-size="8.3" fill="#1a1a1a" text-anchor="end" transform="rotate(-45 239.9 295.9)" stroke="#1a1a1a" stroke-width="0.15">-10<tspan dy="-2.6" font-size="6.6">3</tspan></text>
<line x1="245.7" y1="286.1" x2="245.7" y2="288.9" stroke="#111" stroke-width="0.9"/>
<text x="251.1" y="295.9" font-size="8.3" fill="#1a1a1a" text-anchor="end" transform="rotate(-45 251.1 295.9)" stroke="#1a1a1a" stroke-width="0.15">0</text>
<line x1="254.7" y1="286.1" x2="254.7" y2="288.9" stroke="#111" stroke-width="0.9"/>
<text x="260.1" y="295.9" font-size="8.3" fill="#1a1a1a" text-anchor="end" transform="rotate(-45 260.1 295.9)" stroke="#1a1a1a" stroke-width="0.15">10<tspan dy="-2.6" font-size="6.6">3</tspan></text>
<line x1="271.6" y1="286.1" x2="271.6" y2="288.9" stroke="#111" stroke-width="0.9"/>
<text x="277" y="295.9" font-size="8.3" fill="#1a1a1a" text-anchor="end" transform="rotate(-45 277 295.9)" stroke="#1a1a1a" stroke-width="0.15">10<tspan dy="-2.6" font-size="6.6">4</tspan></text>
<line x1="286.4" y1="286.1" x2="286.4" y2="288.9" stroke="#111" stroke-width="0.9"/>
<text x="291.8" y="295.9" font-size="8.3" fill="#1a1a1a" text-anchor="end" transform="rotate(-45 291.8 295.9)" stroke="#1a1a1a" stroke-width="0.15">10<tspan dy="-2.6" font-size="6.6">5</tspan></text>
<line x1="259.79" y1="286.1" x2="259.79" y2="287.8" stroke="#111" stroke-width="0.6"/>
<line x1="262.76" y1="286.1" x2="262.76" y2="287.8" stroke="#111" stroke-width="0.6"/>
<line x1="264.87" y1="286.1" x2="264.87" y2="287.8" stroke="#111" stroke-width="0.6"/>
<line x1="266.51" y1="286.1" x2="266.51" y2="287.8" stroke="#111" stroke-width="0.6"/>
<line x1="267.85" y1="286.1" x2="267.85" y2="287.8" stroke="#111" stroke-width="0.6"/>
<line x1="268.98" y1="286.1" x2="268.98" y2="287.8" stroke="#111" stroke-width="0.6"/>
<line x1="269.96" y1="286.1" x2="269.96" y2="287.8" stroke="#111" stroke-width="0.6"/>
<line x1="270.83" y1="286.1" x2="270.83" y2="287.8" stroke="#111" stroke-width="0.6"/>
<line x1="276.06" y1="286.1" x2="276.06" y2="287.8" stroke="#111" stroke-width="0.6"/>
<line x1="278.66" y1="286.1" x2="278.66" y2="287.8" stroke="#111" stroke-width="0.6"/>
<line x1="280.51" y1="286.1" x2="280.51" y2="287.8" stroke="#111" stroke-width="0.6"/>
<line x1="281.94" y1="286.1" x2="281.94" y2="287.8" stroke="#111" stroke-width="0.6"/>
<line x1="283.12" y1="286.1" x2="283.12" y2="287.8" stroke="#111" stroke-width="0.6"/>
<line x1="284.11" y1="286.1" x2="284.11" y2="287.8" stroke="#111" stroke-width="0.6"/>
<line x1="284.97" y1="286.1" x2="284.97" y2="287.8" stroke="#111" stroke-width="0.6"/>
<line x1="285.72" y1="286.1" x2="285.72" y2="287.8" stroke="#111" stroke-width="0.6"/>
<line x1="237.3" y1="286.1" x2="237.3" y2="287.8" stroke="#111" stroke-width="0.6"/>
<line x1="240.1" y1="286.1" x2="240.1" y2="287.8" stroke="#111" stroke-width="0.6"/>
<line x1="242.9" y1="286.1" x2="242.9" y2="287.8" stroke="#111" stroke-width="0.6"/>
<rect x="244.1" y="286.1" width="3.2" height="2.4" fill="#111"/>
<path d="M245.2 285.7 C246.4 282.7 247.1 239.94 247.6 234.94 C248.1 241.94 249.4 280.7 251.2 285.7 Z" fill="#d46080" fill-opacity="0.55" stroke="#b5163e" stroke-width="1"/>
<path d="M247.2 285.7 C248.2 282.7 249 272.19 250.2 270.19 C251.8 271.19 253.2 277.7 256.2 283.7 C258.2 285.3 261.2 285.7 264.2 285.7 Z" fill="#a0b0dc" fill-opacity="0.4" stroke="#3b5a9c" stroke-width="1"/>
<rect x="232.3" y="230.7" width="62" height="55.4" fill="none" stroke="#111" stroke-width="1.2"/>
<line x1="350.3" y1="211" x2="357.1" y2="211" stroke="#c0264a" stroke-width="1.4"/>
<text x="360.3" y="213.7" font-size="7.6" fill="#1a1a1a" transform="translate(360.3 213.7) scale(0.95 1) translate(-360.3 -213.7)" stroke="#1a1a1a" stroke-width="0.22">Isotype</text>
<line x1="350.3" y1="222.2" x2="357.1" y2="222.2" stroke="#3a5a9a" stroke-width="1.4"/>
<text x="360.3" y="224.9" font-size="7.6" fill="#1a1a1a" transform="translate(360.3 224.9) scale(0.98 1) translate(-360.3 -224.9)" stroke="#1a1a1a" stroke-width="0.22">ITGB3</text>
<line x1="334.7" y1="285.7" x2="337.7" y2="285.7" stroke="#111" stroke-width="0.9"/>
<text x="331.5" y="288.4" font-size="7.4" fill="#1a1a1a" text-anchor="end" transform="translate(331.5 288.4) scale(1.14 1) translate(-331.5 -288.4)" stroke="#1a1a1a" stroke-width="0.15">0</text>
<line x1="334.7" y1="268.2" x2="337.7" y2="268.2" stroke="#111" stroke-width="0.9"/>
<text x="331.5" y="270.9" font-size="7.4" fill="#1a1a1a" text-anchor="end" transform="translate(331.5 270.9) scale(1.14 1) translate(-331.5 -270.9)" stroke="#1a1a1a" stroke-width="0.15">200</text>
<line x1="334.7" y1="250.7" x2="337.7" y2="250.7" stroke="#111" stroke-width="0.9"/>
<text x="331.5" y="253.4" font-size="7.4" fill="#1a1a1a" text-anchor="end" transform="translate(331.5 253.4) scale(1.14 1) translate(-331.5 -253.4)" stroke="#1a1a1a" stroke-width="0.15">400</text>
<line x1="334.7" y1="233.2" x2="337.7" y2="233.2" stroke="#111" stroke-width="0.9"/>
<text x="331.5" y="235.9" font-size="7.4" fill="#1a1a1a" text-anchor="end" transform="translate(331.5 235.9) scale(1.14 1) translate(-331.5 -235.9)" stroke="#1a1a1a" stroke-width="0.15">600</text>
<line x1="336" y1="285.7" x2="337.7" y2="285.7" stroke="#111" stroke-width="0.6"/>
<line x1="336" y1="281.32" x2="337.7" y2="281.32" stroke="#111" stroke-width="0.6"/>
<line x1="336" y1="276.95" x2="337.7" y2="276.95" stroke="#111" stroke-width="0.6"/>
<line x1="336" y1="272.57" x2="337.7" y2="272.57" stroke="#111" stroke-width="0.6"/>
<line x1="336" y1="268.2" x2="337.7" y2="268.2" stroke="#111" stroke-width="0.6"/>
<line x1="336" y1="263.82" x2="337.7" y2="263.82" stroke="#111" stroke-width="0.6"/>
<line x1="336" y1="259.45" x2="337.7" y2="259.45" stroke="#111" stroke-width="0.6"/>
<line x1="336" y1="255.07" x2="337.7" y2="255.07" stroke="#111" stroke-width="0.6"/>
<line x1="336" y1="250.7" x2="337.7" y2="250.7" stroke="#111" stroke-width="0.6"/>
<line x1="336" y1="246.32" x2="337.7" y2="246.32" stroke="#111" stroke-width="0.6"/>
<line x1="336" y1="241.95" x2="337.7" y2="241.95" stroke="#111" stroke-width="0.6"/>
<line x1="336" y1="237.57" x2="337.7" y2="237.57" stroke="#111" stroke-width="0.6"/>
<line x1="336" y1="233.2" x2="337.7" y2="233.2" stroke="#111" stroke-width="0.6"/>
<line x1="339.9" y1="286.1" x2="339.9" y2="288.9" stroke="#111" stroke-width="0.9"/>
<text x="345.3" y="295.9" font-size="8.3" fill="#1a1a1a" text-anchor="end" transform="rotate(-45 345.3 295.9)" stroke="#1a1a1a" stroke-width="0.15">-10<tspan dy="-2.6" font-size="6.6">3</tspan></text>
<line x1="351.1" y1="286.1" x2="351.1" y2="288.9" stroke="#111" stroke-width="0.9"/>
<text x="356.5" y="295.9" font-size="8.3" fill="#1a1a1a" text-anchor="end" transform="rotate(-45 356.5 295.9)" stroke="#1a1a1a" stroke-width="0.15">0</text>
<line x1="360.1" y1="286.1" x2="360.1" y2="288.9" stroke="#111" stroke-width="0.9"/>
<text x="365.5" y="295.9" font-size="8.3" fill="#1a1a1a" text-anchor="end" transform="rotate(-45 365.5 295.9)" stroke="#1a1a1a" stroke-width="0.15">10<tspan dy="-2.6" font-size="6.6">3</tspan></text>
<line x1="377" y1="286.1" x2="377" y2="288.9" stroke="#111" stroke-width="0.9"/>
<text x="382.4" y="295.9" font-size="8.3" fill="#1a1a1a" text-anchor="end" transform="rotate(-45 382.4 295.9)" stroke="#1a1a1a" stroke-width="0.15">10<tspan dy="-2.6" font-size="6.6">4</tspan></text>
<line x1="391.8" y1="286.1" x2="391.8" y2="288.9" stroke="#111" stroke-width="0.9"/>
<text x="397.2" y="295.9" font-size="8.3" fill="#1a1a1a" text-anchor="end" transform="rotate(-45 397.2 295.9)" stroke="#1a1a1a" stroke-width="0.15">10<tspan dy="-2.6" font-size="6.6">5</tspan></text>
<line x1="365.19" y1="286.1" x2="365.19" y2="287.8" stroke="#111" stroke-width="0.6"/>
<line x1="368.16" y1="286.1" x2="368.16" y2="287.8" stroke="#111" stroke-width="0.6"/>
<line x1="370.27" y1="286.1" x2="370.27" y2="287.8" stroke="#111" stroke-width="0.6"/>
<line x1="371.91" y1="286.1" x2="371.91" y2="287.8" stroke="#111" stroke-width="0.6"/>
<line x1="373.25" y1="286.1" x2="373.25" y2="287.8" stroke="#111" stroke-width="0.6"/>
<line x1="374.38" y1="286.1" x2="374.38" y2="287.8" stroke="#111" stroke-width="0.6"/>
<line x1="375.36" y1="286.1" x2="375.36" y2="287.8" stroke="#111" stroke-width="0.6"/>
<line x1="376.23" y1="286.1" x2="376.23" y2="287.8" stroke="#111" stroke-width="0.6"/>
<line x1="381.46" y1="286.1" x2="381.46" y2="287.8" stroke="#111" stroke-width="0.6"/>
<line x1="384.06" y1="286.1" x2="384.06" y2="287.8" stroke="#111" stroke-width="0.6"/>
<line x1="385.91" y1="286.1" x2="385.91" y2="287.8" stroke="#111" stroke-width="0.6"/>
<line x1="387.34" y1="286.1" x2="387.34" y2="287.8" stroke="#111" stroke-width="0.6"/>
<line x1="388.52" y1="286.1" x2="388.52" y2="287.8" stroke="#111" stroke-width="0.6"/>
<line x1="389.51" y1="286.1" x2="389.51" y2="287.8" stroke="#111" stroke-width="0.6"/>
<line x1="390.37" y1="286.1" x2="390.37" y2="287.8" stroke="#111" stroke-width="0.6"/>
<line x1="391.12" y1="286.1" x2="391.12" y2="287.8" stroke="#111" stroke-width="0.6"/>
<line x1="342.7" y1="286.1" x2="342.7" y2="287.8" stroke="#111" stroke-width="0.6"/>
<line x1="345.5" y1="286.1" x2="345.5" y2="287.8" stroke="#111" stroke-width="0.6"/>
<line x1="348.3" y1="286.1" x2="348.3" y2="287.8" stroke="#111" stroke-width="0.6"/>
<rect x="349.5" y="286.1" width="3.2" height="2.4" fill="#111"/>
<path d="M350.5 285.7 C351.7 282.7 352.4 240.82 352.9 235.82 C353.4 242.82 354.7 280.7 356.5 285.7 Z" fill="#d46080" fill-opacity="0.55" stroke="#b5163e" stroke-width="1"/>
<path d="M352.4 285.7 C353.4 282.7 354.2 267.14 355.4 265.14 C357 266.14 358.4 277.7 361.4 283.7 C363.4 285.3 366.4 285.7 369.4 285.7 Z" fill="#a0b0dc" fill-opacity="0.4" stroke="#3b5a9c" stroke-width="1"/>
<rect x="337.7" y="230.7" width="61.7" height="55.4" fill="none" stroke="#111" stroke-width="1.2"/>
<line x1="456.1" y1="211" x2="462.9" y2="211" stroke="#c0264a" stroke-width="1.4"/>
<text x="466.1" y="213.7" font-size="7.6" fill="#1a1a1a" transform="translate(466.1 213.7) scale(0.95 1) translate(-466.1 -213.7)" stroke="#1a1a1a" stroke-width="0.22">Isotype</text>
<line x1="456.1" y1="222.2" x2="462.9" y2="222.2" stroke="#3a5a9a" stroke-width="1.4"/>
<text x="466.1" y="224.9" font-size="7.6" fill="#1a1a1a" transform="translate(466.1 224.9) scale(0.98 1) translate(-466.1 -224.9)" stroke="#1a1a1a" stroke-width="0.22">ITGB3</text>
<line x1="439.8" y1="285.7" x2="442.8" y2="285.7" stroke="#111" stroke-width="0.9"/>
<text x="436.6" y="288.4" font-size="7.4" fill="#1a1a1a" text-anchor="end" transform="translate(436.6 288.4) scale(1.14 1) translate(-436.6 -288.4)" stroke="#1a1a1a" stroke-width="0.15">0</text>
<line x1="439.8" y1="270.9" x2="442.8" y2="270.9" stroke="#111" stroke-width="0.9"/>
<text x="436.6" y="273.6" font-size="7.4" fill="#1a1a1a" text-anchor="end" transform="translate(436.6 273.6) scale(1.14 1) translate(-436.6 -273.6)" stroke="#1a1a1a" stroke-width="0.15">200</text>
<line x1="439.8" y1="256.1" x2="442.8" y2="256.1" stroke="#111" stroke-width="0.9"/>
<text x="436.6" y="258.8" font-size="7.4" fill="#1a1a1a" text-anchor="end" transform="translate(436.6 258.8) scale(1.14 1) translate(-436.6 -258.8)" stroke="#1a1a1a" stroke-width="0.15">400</text>
<line x1="439.8" y1="241.3" x2="442.8" y2="241.3" stroke="#111" stroke-width="0.9"/>
<text x="436.6" y="244" font-size="7.4" fill="#1a1a1a" text-anchor="end" transform="translate(436.6 244) scale(1.14 1) translate(-436.6 -244)" stroke="#1a1a1a" stroke-width="0.15">600</text>
<line x1="441.1" y1="285.7" x2="442.8" y2="285.7" stroke="#111" stroke-width="0.6"/>
<line x1="441.1" y1="282" x2="442.8" y2="282" stroke="#111" stroke-width="0.6"/>
<line x1="441.1" y1="278.3" x2="442.8" y2="278.3" stroke="#111" stroke-width="0.6"/>
<line x1="441.1" y1="274.6" x2="442.8" y2="274.6" stroke="#111" stroke-width="0.6"/>
<line x1="441.1" y1="270.9" x2="442.8" y2="270.9" stroke="#111" stroke-width="0.6"/>
<line x1="441.1" y1="267.2" x2="442.8" y2="267.2" stroke="#111" stroke-width="0.6"/>
<line x1="441.1" y1="263.5" x2="442.8" y2="263.5" stroke="#111" stroke-width="0.6"/>
<line x1="441.1" y1="259.8" x2="442.8" y2="259.8" stroke="#111" stroke-width="0.6"/>
<line x1="441.1" y1="256.1" x2="442.8" y2="256.1" stroke="#111" stroke-width="0.6"/>
<line x1="441.1" y1="252.4" x2="442.8" y2="252.4" stroke="#111" stroke-width="0.6"/>
<line x1="441.1" y1="248.7" x2="442.8" y2="248.7" stroke="#111" stroke-width="0.6"/>
<line x1="441.1" y1="245" x2="442.8" y2="245" stroke="#111" stroke-width="0.6"/>
<line x1="441.1" y1="241.3" x2="442.8" y2="241.3" stroke="#111" stroke-width="0.6"/>
<line x1="441.1" y1="237.6" x2="442.8" y2="237.6" stroke="#111" stroke-width="0.6"/>
<line x1="441.1" y1="233.9" x2="442.8" y2="233.9" stroke="#111" stroke-width="0.6"/>
<line x1="445" y1="286.1" x2="445" y2="288.9" stroke="#111" stroke-width="0.9"/>
<text x="450.4" y="295.9" font-size="8.3" fill="#1a1a1a" text-anchor="end" transform="rotate(-45 450.4 295.9)" stroke="#1a1a1a" stroke-width="0.15">-10<tspan dy="-2.6" font-size="6.6">3</tspan></text>
<line x1="456.2" y1="286.1" x2="456.2" y2="288.9" stroke="#111" stroke-width="0.9"/>
<text x="461.6" y="295.9" font-size="8.3" fill="#1a1a1a" text-anchor="end" transform="rotate(-45 461.6 295.9)" stroke="#1a1a1a" stroke-width="0.15">0</text>
<line x1="465.2" y1="286.1" x2="465.2" y2="288.9" stroke="#111" stroke-width="0.9"/>
<text x="470.6" y="295.9" font-size="8.3" fill="#1a1a1a" text-anchor="end" transform="rotate(-45 470.6 295.9)" stroke="#1a1a1a" stroke-width="0.15">10<tspan dy="-2.6" font-size="6.6">3</tspan></text>
<line x1="482.1" y1="286.1" x2="482.1" y2="288.9" stroke="#111" stroke-width="0.9"/>
<text x="487.5" y="295.9" font-size="8.3" fill="#1a1a1a" text-anchor="end" transform="rotate(-45 487.5 295.9)" stroke="#1a1a1a" stroke-width="0.15">10<tspan dy="-2.6" font-size="6.6">4</tspan></text>
<line x1="496.9" y1="286.1" x2="496.9" y2="288.9" stroke="#111" stroke-width="0.9"/>
<text x="502.3" y="295.9" font-size="8.3" fill="#1a1a1a" text-anchor="end" transform="rotate(-45 502.3 295.9)" stroke="#1a1a1a" stroke-width="0.15">10<tspan dy="-2.6" font-size="6.6">5</tspan></text>
<line x1="470.29" y1="286.1" x2="470.29" y2="287.8" stroke="#111" stroke-width="0.6"/>
<line x1="473.26" y1="286.1" x2="473.26" y2="287.8" stroke="#111" stroke-width="0.6"/>
<line x1="475.37" y1="286.1" x2="475.37" y2="287.8" stroke="#111" stroke-width="0.6"/>
<line x1="477.01" y1="286.1" x2="477.01" y2="287.8" stroke="#111" stroke-width="0.6"/>
<line x1="478.35" y1="286.1" x2="478.35" y2="287.8" stroke="#111" stroke-width="0.6"/>
<line x1="479.48" y1="286.1" x2="479.48" y2="287.8" stroke="#111" stroke-width="0.6"/>
<line x1="480.46" y1="286.1" x2="480.46" y2="287.8" stroke="#111" stroke-width="0.6"/>
<line x1="481.33" y1="286.1" x2="481.33" y2="287.8" stroke="#111" stroke-width="0.6"/>
<line x1="486.56" y1="286.1" x2="486.56" y2="287.8" stroke="#111" stroke-width="0.6"/>
<line x1="489.16" y1="286.1" x2="489.16" y2="287.8" stroke="#111" stroke-width="0.6"/>
<line x1="491.01" y1="286.1" x2="491.01" y2="287.8" stroke="#111" stroke-width="0.6"/>
<line x1="492.44" y1="286.1" x2="492.44" y2="287.8" stroke="#111" stroke-width="0.6"/>
<line x1="493.62" y1="286.1" x2="493.62" y2="287.8" stroke="#111" stroke-width="0.6"/>
<line x1="494.61" y1="286.1" x2="494.61" y2="287.8" stroke="#111" stroke-width="0.6"/>
<line x1="495.47" y1="286.1" x2="495.47" y2="287.8" stroke="#111" stroke-width="0.6"/>
<line x1="496.22" y1="286.1" x2="496.22" y2="287.8" stroke="#111" stroke-width="0.6"/>
<line x1="447.8" y1="286.1" x2="447.8" y2="287.8" stroke="#111" stroke-width="0.6"/>
<line x1="450.6" y1="286.1" x2="450.6" y2="287.8" stroke="#111" stroke-width="0.6"/>
<line x1="453.4" y1="286.1" x2="453.4" y2="287.8" stroke="#111" stroke-width="0.6"/>
<rect x="454.6" y="286.1" width="3.2" height="2.4" fill="#111"/>
<path d="M456.3 285.7 C457.5 282.7 458.2 239.64 458.7 234.64 C459.2 241.64 460.5 280.7 462.3 285.7 Z" fill="#d46080" fill-opacity="0.55" stroke="#b5163e" stroke-width="1"/>
<path d="M458.2 285.7 C459.2 282.7 460 271.79 461.2 269.79 C462.8 270.79 464.2 277.7 467.2 283.7 C469.2 285.3 472.2 285.7 475.2 285.7 Z" fill="#a0b0dc" fill-opacity="0.4" stroke="#3b5a9c" stroke-width="1"/>
<rect x="442.8" y="230.7" width="62.4" height="55.4" fill="none" stroke="#111" stroke-width="1.2"/>
<line x1="206.2" y1="310.3" x2="206.2" y2="258" stroke="#111" stroke-width="1"/>
<path d="M206.2 254.2 L203.9 260 L206.2 259 L208.5 260 Z" fill="#111"/>
<line x1="206.2" y1="310.3" x2="267.5" y2="310.3" stroke="#111" stroke-width="1"/>
<path d="M271.6 310.3 L265.8 308 L266.8 310.3 L265.8 312.6 Z" fill="#111"/>
<text x="201.4" y="282" font-size="10.3" fill="#1a1a1a" text-anchor="middle" transform="rotate(-90 201.4 282) translate(201.4 282) scale(0.65 1) translate(-201.4 -282)" stroke="#1a1a1a" stroke-width="0.28">Count</text>
<text x="230.2" y="321.9" font-size="9.4" fill="#1a1a1a" transform="translate(230.2 321.9) scale(0.66 1) translate(-230.2 -321.9)" stroke="#1a1a1a" stroke-width="0.2">ITGB3</text>
<text x="7.6" y="351.2" font-size="12.4" fill="#000" font-weight="bold" stroke="#000" stroke-width="0.45">D</text>
<line x1="56.7" y1="358.6" x2="63.5" y2="358.6" stroke="#6aaa3c" stroke-width="1.4"/>
<text x="66.8" y="361.4" font-size="8" fill="#1a1a1a" transform="translate(66.8 361.4) scale(0.94 1) translate(-66.8 -361.4)" stroke="#1a1a1a" stroke-width="0.22">Mock</text>
<line x1="56.7" y1="369.8" x2="63.5" y2="369.8" stroke="#c0264a" stroke-width="1.4"/>
<text x="66.8" y="372.6" font-size="8" fill="#1a1a1a" transform="translate(66.8 372.6) scale(0.99 1) translate(-66.8 -372.6)" stroke="#1a1a1a" stroke-width="0.22">ITGB3 OE</text>
<line x1="44.6" y1="445.3" x2="47.6" y2="445.3" stroke="#111" stroke-width="0.9"/>
<text x="41.6" y="448.3" font-size="7.9" fill="#1a1a1a" text-anchor="end" transform="translate(41.6 448.3) scale(1.1 1) translate(-41.6 -448.3)" stroke="#1a1a1a" stroke-width="0.22">0</text>
<line x1="44.6" y1="429.7" x2="47.6" y2="429.7" stroke="#111" stroke-width="0.9"/>
<text x="41.6" y="432.7" font-size="7.9" fill="#1a1a1a" text-anchor="end" transform="translate(41.6 432.7) scale(1.1 1) translate(-41.6 -432.7)" stroke="#1a1a1a" stroke-width="0.22">30</text>
<line x1="44.6" y1="414.1" x2="47.6" y2="414.1" stroke="#111" stroke-width="0.9"/>
<text x="41.6" y="417.1" font-size="7.9" fill="#1a1a1a" text-anchor="end" transform="translate(41.6 417.1) scale(1.1 1) translate(-41.6 -417.1)" stroke="#1a1a1a" stroke-width="0.22">60</text>
<line x1="44.6" y1="398.5" x2="47.6" y2="398.5" stroke="#111" stroke-width="0.9"/>
<text x="41.6" y="401.5" font-size="7.9" fill="#1a1a1a" text-anchor="end" transform="translate(41.6 401.5) scale(1.1 1) translate(-41.6 -401.5)" stroke="#1a1a1a" stroke-width="0.22">90</text>
<line x1="44.6" y1="382.9" x2="47.6" y2="382.9" stroke="#111" stroke-width="0.9"/>
<text x="41.6" y="385.9" font-size="7.9" fill="#1a1a1a" text-anchor="end" transform="translate(41.6 385.9) scale(1.1 1) translate(-41.6 -385.9)" stroke="#1a1a1a" stroke-width="0.22">120</text>
<line x1="45.9" y1="445.3" x2="47.6" y2="445.3" stroke="#111" stroke-width="0.6"/>
<line x1="45.9" y1="441.4" x2="47.6" y2="441.4" stroke="#111" stroke-width="0.6"/>
<line x1="45.9" y1="437.5" x2="47.6" y2="437.5" stroke="#111" stroke-width="0.6"/>
<line x1="45.9" y1="433.6" x2="47.6" y2="433.6" stroke="#111" stroke-width="0.6"/>
<line x1="45.9" y1="429.7" x2="47.6" y2="429.7" stroke="#111" stroke-width="0.6"/>
<line x1="45.9" y1="425.8" x2="47.6" y2="425.8" stroke="#111" stroke-width="0.6"/>
<line x1="45.9" y1="421.9" x2="47.6" y2="421.9" stroke="#111" stroke-width="0.6"/>
<line x1="45.9" y1="418" x2="47.6" y2="418" stroke="#111" stroke-width="0.6"/>
<line x1="45.9" y1="414.1" x2="47.6" y2="414.1" stroke="#111" stroke-width="0.6"/>
<line x1="45.9" y1="410.2" x2="47.6" y2="410.2" stroke="#111" stroke-width="0.6"/>
<line x1="45.9" y1="406.3" x2="47.6" y2="406.3" stroke="#111" stroke-width="0.6"/>
<line x1="45.9" y1="402.4" x2="47.6" y2="402.4" stroke="#111" stroke-width="0.6"/>
<line x1="45.9" y1="398.5" x2="47.6" y2="398.5" stroke="#111" stroke-width="0.6"/>
<line x1="45.9" y1="394.6" x2="47.6" y2="394.6" stroke="#111" stroke-width="0.6"/>
<line x1="45.9" y1="390.7" x2="47.6" y2="390.7" stroke="#111" stroke-width="0.6"/>
<line x1="45.9" y1="386.8" x2="47.6" y2="386.8" stroke="#111" stroke-width="0.6"/>
<line x1="45.9" y1="382.9" x2="47.6" y2="382.9" stroke="#111" stroke-width="0.6"/>
<line x1="48.6" y1="445.3" x2="48.6" y2="447.8" stroke="#111" stroke-width="0.6"/>
<line x1="51.2" y1="445.3" x2="51.2" y2="446.8" stroke="#111" stroke-width="0.6"/>
<line x1="53.8" y1="445.3" x2="53.8" y2="446.8" stroke="#111" stroke-width="0.6"/>
<line x1="56.4" y1="445.3" x2="56.4" y2="446.8" stroke="#111" stroke-width="0.6"/>
<line x1="59" y1="445.3" x2="59" y2="446.8" stroke="#111" stroke-width="0.6"/>
<line x1="61.6" y1="445.3" x2="61.6" y2="447.8" stroke="#111" stroke-width="0.6"/>
<line x1="64.2" y1="445.3" x2="64.2" y2="446.8" stroke="#111" stroke-width="0.6"/>
<line x1="66.8" y1="445.3" x2="66.8" y2="446.8" stroke="#111" stroke-width="0.6"/>
<line x1="69.4" y1="445.3" x2="69.4" y2="446.8" stroke="#111" stroke-width="0.6"/>
<line x1="72" y1="445.3" x2="72" y2="446.8" stroke="#111" stroke-width="0.6"/>
<line x1="74.6" y1="445.3" x2="74.6" y2="447.8" stroke="#111" stroke-width="0.6"/>
<line x1="77.2" y1="445.3" x2="77.2" y2="446.8" stroke="#111" stroke-width="0.6"/>
<line x1="79.8" y1="445.3" x2="79.8" y2="446.8" stroke="#111" stroke-width="0.6"/>
<line x1="82.4" y1="445.3" x2="82.4" y2="446.8" stroke="#111" stroke-width="0.6"/>
<line x1="85" y1="445.3" x2="85" y2="446.8" stroke="#111" stroke-width="0.6"/>
<line x1="87.6" y1="445.3" x2="87.6" y2="447.8" stroke="#111" stroke-width="0.6"/>
<line x1="90.2" y1="445.3" x2="90.2" y2="446.8" stroke="#111" stroke-width="0.6"/>
<line x1="92.8" y1="445.3" x2="92.8" y2="446.8" stroke="#111" stroke-width="0.6"/>
<line x1="95.4" y1="445.3" x2="95.4" y2="446.8" stroke="#111" stroke-width="0.6"/>
<line x1="98" y1="445.3" x2="98" y2="446.8" stroke="#111" stroke-width="0.6"/>
<line x1="100.6" y1="445.3" x2="100.6" y2="447.8" stroke="#111" stroke-width="0.6"/>
<path d="M61.6 445 L64 444.5 L66 443 L68 439 L70 430 L71 422 L72 415 L73.1 407.6 L74 400 L75 393 L76.4 387.9 L77.2 390 L77.8 391.5 L78.5 395 L79.5 401 L80.3 407.5 L80.8 407.7 L81.5 410.5 L82.5 416 L83.5 421.9 L85 426.5 L86.5 430.5 L87.9 433.9 L89.5 437.5 L91 440.5 L92.3 442.8 L93.4 444.3 L94.2 445.2 Z" fill="#eab8c8" stroke="#bb1c44" stroke-width="1.05"/>
<path d="M48.5 445 L54 444.8 L55.5 443.6 L57 443.2 L58 444 L59 443.4 L60 444.4 L62 444.8 L64.9 442.7 L66.5 439 L68 433 L69.3 425.1 L70.5 420 L71.5 416.5 L72.3 415.3 L73 418 L73.8 422 L74.7 426.2 L75.8 430.5 L76.9 433.9 L78.5 437 L80 439.5 L81.3 440.5 L83 442.8 L85.2 444.5 L86 445 Z" fill="#c9b49a" stroke="#76b448" stroke-width="1.05"/>
<rect x="47.6" y="378.2" width="62.8" height="67.1" fill="none" stroke="#111" stroke-width="1.2"/>
<line x1="27.5" y1="452.2" x2="27.5" y2="426" stroke="#111" stroke-width="1"/>
<path d="M27.5 422.4 L25.2 428.2 L27.5 427.2 L29.8 428.2 Z" fill="#111"/>
<line x1="27.5" y1="452.2" x2="70.5" y2="452.2" stroke="#111" stroke-width="1"/>
<path d="M74.4 452.2 L68.6 449.9 L69.6 452.2 L68.6 454.5 Z" fill="#111"/>
<text x="23.2" y="436.9" font-size="10.5" fill="#1a1a1a" text-anchor="middle" transform="rotate(-90 23.2 436.9) translate(23.2 436.9) scale(0.65 1) translate(-23.2 -436.9)" stroke="#1a1a1a" stroke-width="0.28">Count</text>
<text x="42.3" y="464.1" font-size="9.4" fill="#1a1a1a" transform="translate(42.3 464.1) scale(0.68 1) translate(-42.3 -464.1)" stroke="#1a1a1a" stroke-width="0.2">ITGB3</text>
<text x="159.6" y="378.6" font-size="9.9" fill="#34528f" transform="translate(159.6 378.6) scale(0.99 1) translate(-159.6 -378.6)" stroke="#34528f" stroke-width="0.08">ITGB3</text>
<line x1="156" y1="385.5" x2="156" y2="445.6" stroke="#111" stroke-width="1.5"/>
<line x1="155.3" y1="444.9" x2="191.3" y2="444.9" stroke="#111" stroke-width="1.5"/>
<line x1="153" y1="444.9" x2="156" y2="444.9" stroke="#111" stroke-width="1.2"/>
<text x="150.2" y="447.9" font-size="8.4" fill="#1a1a1a" text-anchor="end" transform="translate(150.2 447.9) scale(1.06 1) translate(-150.2 -447.9)" stroke="#1a1a1a" stroke-width="0.22">0</text>
<line x1="153" y1="425.6" x2="156" y2="425.6" stroke="#111" stroke-width="1.2"/>
<text x="150.2" y="428.6" font-size="8.4" fill="#1a1a1a" text-anchor="end" transform="translate(150.2 428.6) scale(1.06 1) translate(-150.2 -428.6)" stroke="#1a1a1a" stroke-width="0.22">20</text>
<line x1="153" y1="406.3" x2="156" y2="406.3" stroke="#111" stroke-width="1.2"/>
<text x="150.2" y="409.3" font-size="8.4" fill="#1a1a1a" text-anchor="end" transform="translate(150.2 409.3) scale(1.06 1) translate(-150.2 -409.3)" stroke="#1a1a1a" stroke-width="0.22">40</text>
<line x1="153" y1="387" x2="156" y2="387" stroke="#111" stroke-width="1.2"/>
<text x="150.2" y="390" font-size="8.4" fill="#1a1a1a" text-anchor="end" transform="translate(150.2 390) scale(1.06 1) translate(-150.2 -390)" stroke="#1a1a1a" stroke-width="0.22">60</text>
<line x1="156" y1="444.9" x2="156" y2="448.2" stroke="#111" stroke-width="1.2"/>
<line x1="172.3" y1="444.9" x2="172.3" y2="448.2" stroke="#111" stroke-width="1.2"/>
<line x1="189.2" y1="444.9" x2="189.2" y2="448.2" stroke="#111" stroke-width="1.2"/>
<rect x="159.8" y="431.58" width="9.4" height="13.32" fill="#6aaa3c"/>
<line x1="164.5" y1="429.75" x2="164.5" y2="431.58" stroke="#111" stroke-width="1.2"/>
<line x1="162.7" y1="429.75" x2="166.3" y2="429.75" stroke="#111" stroke-width="1.2"/>
<rect x="175.3" y="402.44" width="9.4" height="42.46" fill="#a3002c"/>
<line x1="180" y1="399.06" x2="180" y2="402.44" stroke="#111" stroke-width="1.2"/>
<line x1="178.2" y1="399.06" x2="181.8" y2="399.06" stroke="#111" stroke-width="1.2"/>
<circle cx="178.45" cy="395.16" r="0.95" fill="#111"/>
<circle cx="181.55" cy="395.16" r="0.95" fill="#111"/>
<text x="135.2" y="414.4" font-size="10" fill="#1a1a1a" text-anchor="middle" transform="rotate(-90 135.2 414.4) translate(135.2 414.4) scale(0.65 1) translate(-135.2 -414.4)" stroke="#1a1a1a" stroke-width="0.28">% by FACS</text>
<text x="167.9" y="455.5" font-size="8.3" fill="#1a1a1a" text-anchor="end" transform="rotate(-45 167.9 455.5)" stroke="#1a1a1a" stroke-width="0.22">Mock</text>
<text x="183.4" y="455.5" font-size="8.3" fill="#1a1a1a" text-anchor="end" transform="rotate(-45 183.4 455.5)" stroke="#1a1a1a" stroke-width="0.22">ITGB3 OE</text>
<text x="207" y="351.6" font-size="12.4" fill="#000" font-weight="bold" stroke="#000" stroke-width="0.45">E</text>
<defs><filter id="bl" x="-50%" y="-50%" width="200%" height="200%"><feGaussianBlur stdDeviation="0.7"/></filter><filter id="bl3" x="-50%" y="-50%" width="200%" height="200%"><feGaussianBlur stdDeviation="0.45"/></filter></defs>
<line x1="216" y1="402.4" x2="228.8" y2="402.4" stroke="#111" stroke-width="1.2"/>
<line x1="231.2" y1="402.4" x2="244" y2="402.4" stroke="#111" stroke-width="1.2"/>
<line x1="216" y1="405.6" x2="244.4" y2="405.6" stroke="#111" stroke-width="1.2"/>
<rect x="216" y="409.2" width="28.4" height="9.8" fill="#353535"/>
<rect x="216.2" y="409.6" width="12" height="9" fill="#181818" rx="2.5" fill-opacity="0.9" filter="url(#bl3)"/>
<rect x="231.75" y="409.6" width="12.5" height="9" fill="#0e0e0e" rx="2.5" fill-opacity="0.95" filter="url(#bl3)"/>
<text x="247.7" y="417.1" font-size="8.6" fill="#1a1a1a" stroke="#1a1a1a" stroke-width="0.1">Tyr747</text>
<rect x="216" y="420.2" width="28.4" height="9.8" fill="#7c7c7c"/>
<rect x="216.95" y="423.4" width="10.5" height="3.4" fill="#111" rx="1.7" fill-opacity="1" filter="url(#bl3)"/>
<rect x="232.5" y="423.4" width="11" height="3.4" fill="#111" rx="1.7" fill-opacity="1" filter="url(#bl3)"/>
<text x="247.7" y="428.1" font-size="8.6" fill="#1a1a1a" stroke="#1a1a1a" stroke-width="0.1">FAK</text>
<rect x="216" y="431" width="28.4" height="10" fill="#8e8e8e"/>
<rect x="217.2" y="432.5" width="10" height="7" fill="#080808" rx="2.5" fill-opacity="1" filter="url(#bl3)"/>
<rect x="233" y="432.5" width="10" height="7" fill="#080808" rx="2.5" fill-opacity="1" filter="url(#bl3)"/>
<text x="247.7" y="439" font-size="8.6" fill="#1a1a1a" stroke="#1a1a1a" stroke-width="0.1">&#946;-Actin</text>
<line x1="216" y1="444.5" x2="244.4" y2="444.5" stroke="#111" stroke-width="1.2"/>
<line x1="275.8" y1="402.6" x2="288.2" y2="402.6" stroke="#111" stroke-width="1.2"/>
<line x1="291.2" y1="402.6" x2="303.8" y2="402.6" stroke="#111" stroke-width="1.2"/>
<line x1="275.8" y1="405.7" x2="305.1" y2="405.7" stroke="#111" stroke-width="1.2"/>
<rect x="275.8" y="409.2" width="29.3" height="9.2" fill="#4e4e4e"/>
<rect x="276.5" y="409.8" width="12" height="8" fill="#2a2a2a" rx="2.5" fill-opacity="0.9" filter="url(#bl3)"/>
<rect x="292.8" y="409.8" width="12" height="8" fill="#5a5a5a" rx="2.5" fill-opacity="0.7" filter="url(#bl3)"/>
<text x="308.2" y="416.8" font-size="8.6" fill="#1a1a1a" stroke="#1a1a1a" stroke-width="0.1">Tyr747</text>
<rect x="275.8" y="420.3" width="29.3" height="9.6" fill="#8a8a8a"/>
<rect x="278.75" y="423.5" width="9.5" height="3.2" fill="#0e0e0e" rx="1.6" fill-opacity="1" filter="url(#bl3)"/>
<rect x="294.3" y="423.9" width="9" height="2.4" fill="#666" rx="1.2" fill-opacity="0.8" filter="url(#bl3)"/>
<text x="308.2" y="428.1" font-size="8.6" fill="#1a1a1a" stroke="#1a1a1a" stroke-width="0.1">FAK</text>
<rect x="275.8" y="431.5" width="29.3" height="9.6" fill="#9c9c9c"/>
<rect x="277" y="433" width="9.6" height="6.6" fill="#060606" rx="2.5" fill-opacity="1" filter="url(#bl3)"/>
<rect x="294.3" y="433" width="9" height="6.6" fill="#060606" rx="2.5" fill-opacity="1" filter="url(#bl3)"/>
<text x="308.2" y="439.3" font-size="8.6" fill="#1a1a1a" stroke="#1a1a1a" stroke-width="0.1">&#946;-Actin</text>
<line x1="275.8" y1="444.5" x2="305.1" y2="444.5" stroke="#111" stroke-width="1.2"/>
<line x1="337.3" y1="394.2" x2="349.6" y2="394.2" stroke="#111" stroke-width="1.2"/>
<line x1="355" y1="394.2" x2="366.9" y2="394.2" stroke="#111" stroke-width="1.2"/>
<line x1="372.7" y1="394.2" x2="384.8" y2="394.2" stroke="#111" stroke-width="1.2"/>
<line x1="337.3" y1="397.1" x2="386.2" y2="397.1" stroke="#111" stroke-width="1.2"/>
<rect x="337.3" y="401" width="48.9" height="10.2" fill="#3e3e3e"/>
<rect x="337.25" y="402.1" width="12.5" height="8" fill="#1c1c1c" rx="2.5" fill-opacity="0.95" filter="url(#bl3)"/>
<rect x="354.75" y="401.85" width="12.5" height="8.5" fill="#141414" rx="2.5" fill-opacity="0.95" filter="url(#bl3)"/>
<rect x="373.3" y="403.1" width="11" height="6" fill="#6a6a6a" rx="2.5" fill-opacity="0.8" filter="url(#bl3)"/>
<text x="388" y="409.1" font-size="8.6" fill="#1a1a1a" stroke="#1a1a1a" stroke-width="0.1">EGFL7</text>
<rect x="337.3" y="412.1" width="48.9" height="9.4" fill="#858585"/>
<rect x="337.75" y="414.8" width="11.5" height="4" fill="#1e1e1e" rx="2" fill-opacity="1" filter="url(#bl3)"/>
<rect x="355" y="414.8" width="12" height="4" fill="#1a1a1a" rx="2" fill-opacity="1" filter="url(#bl3)"/>
<rect x="374.3" y="415.3" width="9" height="3" fill="#3a3a3a" rx="1.5" fill-opacity="0.9" filter="url(#bl3)"/>
<text x="388" y="419.8" font-size="8.6" fill="#1a1a1a" stroke="#1a1a1a" stroke-width="0.1">Tyr747</text>
<rect x="337.3" y="422.7" width="48.9" height="9.6" fill="#929292"/>
<rect x="338.5" y="426" width="10" height="3" fill="#303030" rx="1.5" fill-opacity="0.95" filter="url(#bl3)"/>
<rect x="355.25" y="425.4" width="11.5" height="4.2" fill="#0a0a0a" rx="2.1" fill-opacity="1" filter="url(#bl3)"/>
<rect x="374.8" y="426.3" width="8" height="2.4" fill="#808080" rx="1.2" fill-opacity="0.8" filter="url(#bl3)"/>
<text x="388" y="430.5" font-size="8.6" fill="#1a1a1a" stroke="#1a1a1a" stroke-width="0.1">FAK</text>
<rect x="337.3" y="433.3" width="48.9" height="10" fill="#8e8e8e"/>
<rect x="338" y="435.55" width="11" height="5.5" fill="#0c0c0c" rx="2.5" fill-opacity="1" filter="url(#bl3)"/>
<rect x="355.5" y="435.55" width="11" height="5.5" fill="#0c0c0c" rx="2.5" fill-opacity="1" filter="url(#bl3)"/>
<rect x="373.55" y="435.55" width="10.5" height="5.5" fill="#0c0c0c" rx="2.5" fill-opacity="1" filter="url(#bl3)"/>
<text x="388" y="441.3" font-size="8.6" fill="#1a1a1a" stroke="#1a1a1a" stroke-width="0.1">&#946;-Actin</text>
<line x1="337.3" y1="446.7" x2="386.2" y2="446.7" stroke="#111" stroke-width="1.2"/>
<text x="222.2" y="399.6" font-size="8.3" fill="#1a1a1a" transform="rotate(-45 222.2 399.6)" stroke="#1a1a1a" stroke-width="0.15">Mock</text>
<text x="237.4" y="399.6" font-size="8.3" fill="#1a1a1a" transform="rotate(-45 237.4 399.6)" stroke="#1a1a1a" stroke-width="0.15">ITGB3OE</text>
<text x="282" y="399.3" font-size="8.3" fill="#1a1a1a" transform="rotate(-45 282 399.3)" stroke="#1a1a1a" stroke-width="0.15">Si-Ctrl</text>
<text x="298.7" y="399.3" font-size="8.3" fill="#1a1a1a" transform="rotate(-45 298.7 399.3)" stroke="#1a1a1a" stroke-width="0.15">Si-ITGB3</text>
<text x="344" y="391.1" font-size="8.3" fill="#1a1a1a" transform="rotate(-45 344 391.1)" stroke="#1a1a1a" stroke-width="0.15">Mock</text>
<text x="361.3" y="391.1" font-size="8.3" fill="#1a1a1a" transform="rotate(-45 361.3 391.1)" stroke="#1a1a1a" stroke-width="0.15">EGFL7 OE</text>
<text x="379.5" y="391.1" font-size="8.3" fill="#1a1a1a" transform="rotate(-45 379.5 391.1)" stroke="#1a1a1a" stroke-width="0.15">EGFL7 KD</text>
<rect x="0" y="0" width="520" height="1" fill="#000"/>
<rect x="0" y="0" width="1" height="691" fill="#000"/>
<rect x="518.4" y="0" width="1.6" height="691" fill="#000"/>
<rect x="0" y="689.9" width="520" height="1.1" fill="#000"/></svg></body></html>
